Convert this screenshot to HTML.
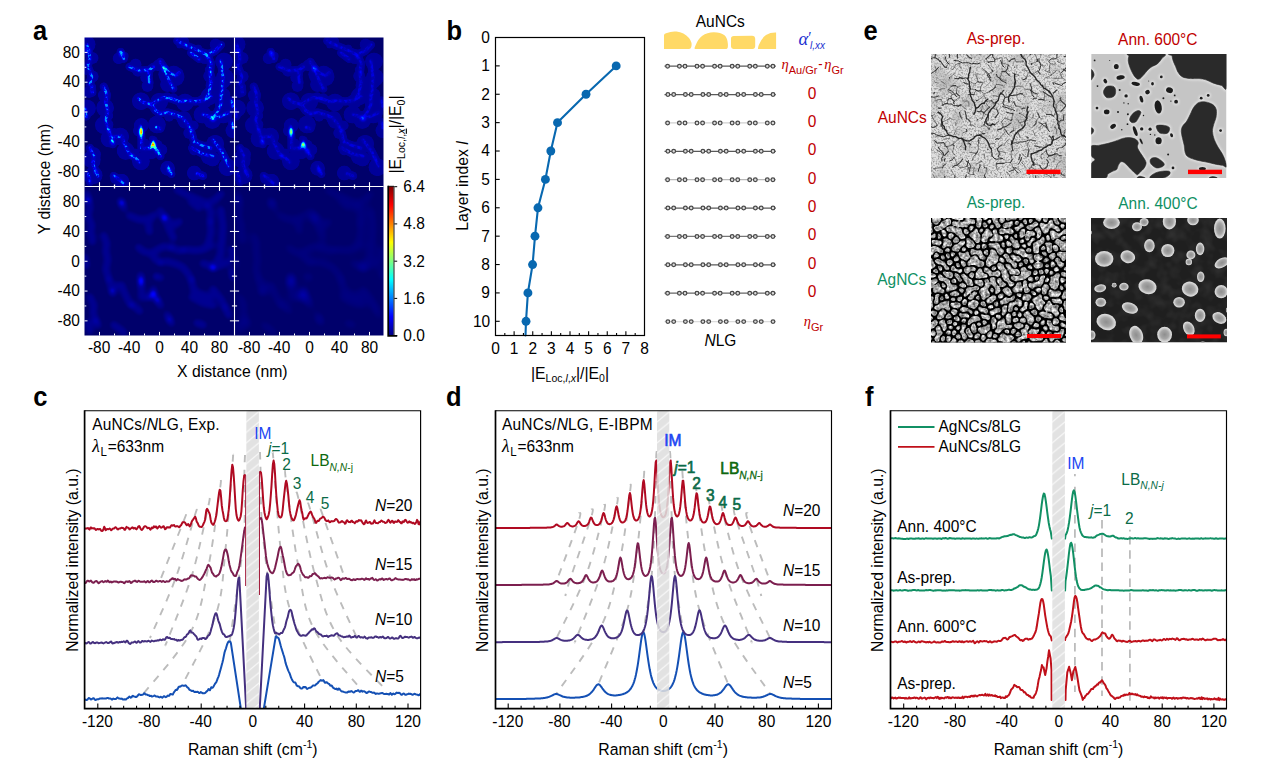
<!DOCTYPE html>
<html><head><meta charset="utf-8"><title>figure</title>
<style>
html,body{margin:0;padding:0;background:#fff;}
body{width:1269px;height:761px;overflow:hidden;font-family:"Liberation Sans",sans-serif;}
svg{display:block;}
</style></head><body>
<svg width="1269" height="761" viewBox="0 0 1269 761">
<defs>
<filter id="jetmap" filterUnits="userSpaceOnUse" x="0" y="0" width="150" height="149" color-interpolation-filters="sRGB">
<feComponentTransfer><feFuncR type="table" tableValues="0.000 0.000 0.000 0.000 0.000 0.000 0.000 0.000 0.000 0.000 0.000 0.000 0.000 0.000 0.000 0.000 0.000 0.000 0.000 0.000 0.000 0.000 0.000 0.000 0.000 0.000 0.000 0.000 0.000 0.183 0.367 0.550 0.733 0.917 1.000 1.000 1.000 1.000 1.000 1.000 0.820"/><feFuncG type="table" tableValues="0.000 0.000 0.000 0.000 0.000 0.000 0.000 0.000 0.000 0.000 0.000 0.000 0.000 0.000 0.000 0.000 0.000 0.000 0.000 0.000 0.000 0.125 0.250 0.375 0.500 0.625 0.750 0.875 1.000 1.000 1.000 1.000 1.000 1.000 0.900 0.720 0.540 0.360 0.180 0.000 0.000"/><feFuncB type="table" tableValues="0.420 0.420 0.420 0.433 0.455 0.477 0.498 0.520 0.542 0.564 0.585 0.607 0.629 0.675 0.722 0.768 0.814 0.861 0.907 0.954 1.000 1.000 1.000 1.000 1.000 1.000 1.000 1.000 1.000 0.817 0.633 0.450 0.267 0.083 0.000 0.000 0.000 0.000 0.000 0.000 0.000"/></feComponentTransfer></filter>
<filter id="hb1" filterUnits="userSpaceOnUse" x="-20" y="-20" width="190" height="190" color-interpolation-filters="sRGB"><feGaussianBlur stdDeviation="0.8"/></filter>
<filter id="hb2" filterUnits="userSpaceOnUse" x="-20" y="-20" width="190" height="190" color-interpolation-filters="sRGB"><feGaussianBlur stdDeviation="2.2"/></filter>
<filter id="hb3" filterUnits="userSpaceOnUse" x="-20" y="-20" width="190" height="190" color-interpolation-filters="sRGB"><feGaussianBlur stdDeviation="3.5"/></filter>
<filter id="hb4" filterUnits="userSpaceOnUse" x="-20" y="-20" width="190" height="190" color-interpolation-filters="sRGB"><feGaussianBlur stdDeviation="5.0"/></filter>
<filter id="hb0" filterUnits="userSpaceOnUse" x="-20" y="-20" width="190" height="190" color-interpolation-filters="sRGB"><feGaussianBlur stdDeviation="0.45"/></filter>
<g id="hm_wide" fill="none" stroke="#fff" stroke-linecap="round" stroke-linejoin="round"><path d="M2.5 7.4 L4.5 15.4 L5.5 21.3 L3.5 27.3 M36.2 14.4 L38.2 18.4 L39.2 21.3 M45.1 29.3 L55.1 33.2 L65.0 32.2 L69.0 29.3 M75.9 24.3 L79.9 30.3 L84.8 35.2 L90.8 38.2 L94.7 35.2 M65.0 32.2 L64.0 39.2 L65.0 45.1 M92.8 3.5 L102.7 8.4 L114.6 13.4 L122.5 17.4 L126.5 25.3 L125.5 35.2 L126.5 45.1 L124.5 55.1 L121.5 61.0 M122.5 17.4 L130.5 13.4 L136.4 7.4 M54.1 61.0 L59.0 65.0 L67.0 67.0 L72.9 63.0 L78.9 60.0 L86.8 61.0 L94.7 64.0 L102.7 63.0 L110.6 64.0 L118.6 63.0 L126.5 59.0 M67.0 67.0 L70.9 72.9 L75.9 75.9 L82.8 74.9 L92.8 77.9 L98.7 80.9 M136.4 57.0 L136.4 67.0 L132.5 74.9 L128.5 80.9 M118.6 76.9 L124.5 78.9 L128.5 80.9 L136.4 78.9 L144.4 74.9 M98.7 80.9 L104.7 88.8 L107.6 96.7 L109.6 104.7 L116.6 107.6 M128.5 102.7 L136.4 112.6 L140.4 120.5 L144.4 128.5 M107.6 110.6 L118.6 116.6 L128.5 118.6 M21.3 65.0 L23.3 72.9 L21.3 82.8 L24.3 92.8 L27.3 102.7 L28.3 106.7 M27.3 99.7 L37.2 98.7 L39.2 104.7 L45.1 116.6 L51.1 120.5 L55.1 124.5 M56.1 88.8 L56.5 93.8 L57.0 102.7 L57.0 110.6 M69.0 102.7 L68.6 106.7 L72.9 113.6 L75.9 118.6 M60.0 111.0 L65.0 110.6 L69.0 107.6 M71.9 89.8 L75.9 91.2 M5.5 110.6 L9.4 118.6 L8.4 126.5 L11.4 134.4 L13.4 138.4 M3.5 136.4 L5.5 144.4 M82.8 128.5 L84.8 132.5 L86.8 136.4 M29.3 138.4 L35.2 142.4 L39.2 146.3 M112.6 136.4 L118.6 138.4 M0.5 70.9 L1.9 78.9 M7.4 49.1 L7.8 55.1 M147.3 63.0 L148.3 69.0 M147.3 84.8 L148.3 90.8 M79.9 31.2 L84.8 43.2 L88.8 51.1 M106.7 15.4 L114.6 21.3 M3.5 29.3 L7.4 39.2 L5.5 47.1 M136.4 23.3 L138.4 39.2 L137.4 57.0 M19.3 49.1 L22.3 57.0 L21.3 65.0 M116.6 107.6 L126.5 110.6"/></g>
<g id="hm_halo" fill="#fff" stroke="none"><g fill="none" stroke="#fff" stroke-width="8.5" stroke-linecap="round" stroke-linejoin="round"><path d="M2.5 7.4 L4.5 15.4 L5.5 21.3 L3.5 27.3 M36.2 14.4 L38.2 18.4 L39.2 21.3 M45.1 29.3 L55.1 33.2 L65.0 32.2 L69.0 29.3 M75.9 24.3 L79.9 30.3 L84.8 35.2 L90.8 38.2 L94.7 35.2 M65.0 32.2 L64.0 39.2 L65.0 45.1 M92.8 3.5 L102.7 8.4 L114.6 13.4 L122.5 17.4 L126.5 25.3 L125.5 35.2 L126.5 45.1 L124.5 55.1 L121.5 61.0 M122.5 17.4 L130.5 13.4 L136.4 7.4 M54.1 61.0 L59.0 65.0 L67.0 67.0 L72.9 63.0 L78.9 60.0 L86.8 61.0 L94.7 64.0 L102.7 63.0 L110.6 64.0 L118.6 63.0 L126.5 59.0 M67.0 67.0 L70.9 72.9 L75.9 75.9 L82.8 74.9 L92.8 77.9 L98.7 80.9 M136.4 57.0 L136.4 67.0 L132.5 74.9 L128.5 80.9 M118.6 76.9 L124.5 78.9 L128.5 80.9 L136.4 78.9 L144.4 74.9 M98.7 80.9 L104.7 88.8 L107.6 96.7 L109.6 104.7 L116.6 107.6 M128.5 102.7 L136.4 112.6 L140.4 120.5 L144.4 128.5 M107.6 110.6 L118.6 116.6 L128.5 118.6 M21.3 65.0 L23.3 72.9 L21.3 82.8 L24.3 92.8 L27.3 102.7 L28.3 106.7 M27.3 99.7 L37.2 98.7 L39.2 104.7 L45.1 116.6 L51.1 120.5 L55.1 124.5 M56.1 88.8 L56.5 93.8 L57.0 102.7 L57.0 110.6 M69.0 102.7 L68.6 106.7 L72.9 113.6 L75.9 118.6 M60.0 111.0 L65.0 110.6 L69.0 107.6 M71.9 89.8 L75.9 91.2 M5.5 110.6 L9.4 118.6 L8.4 126.5 L11.4 134.4 L13.4 138.4 M3.5 136.4 L5.5 144.4 M82.8 128.5 L84.8 132.5 L86.8 136.4 M29.3 138.4 L35.2 142.4 L39.2 146.3 M112.6 136.4 L118.6 138.4 M0.5 70.9 L1.9 78.9 M7.4 49.1 L7.8 55.1 M147.3 63.0 L148.3 69.0 M147.3 84.8 L148.3 90.8 M79.9 31.2 L84.8 43.2 L88.8 51.1 M106.7 15.4 L114.6 21.3 M3.5 29.3 L7.4 39.2 L5.5 47.1 M136.4 23.3 L138.4 39.2 L137.4 57.0 M19.3 49.1 L22.3 57.0 L21.3 65.0 M116.6 107.6 L126.5 110.6"/></g><circle cx="2.1" cy="6.8" r="9.0"/><circle cx="8.1" cy="20.5" r="6.0"/><circle cx="7.0" cy="20.0" r="4.0"/><circle cx="34.2" cy="20.7" r="6.0"/><circle cx="40.2" cy="18.5" r="4.0"/><circle cx="51.1" cy="27.0" r="6.0"/><circle cx="53.5" cy="33.2" r="6.0"/><circle cx="61.3" cy="35.2" r="3.0"/><circle cx="65.1" cy="32.3" r="3.0"/><circle cx="74.1" cy="27.8" r="6.0"/><circle cx="78.4" cy="29.9" r="4.0"/><circle cx="91.1" cy="39.6" r="9.0"/><circle cx="89.2" cy="37.0" r="9.0"/><circle cx="61.7" cy="39.9" r="6.0"/><circle cx="63.0" cy="48.6" r="6.0"/><circle cx="99.7" cy="3.7" r="5.0"/><circle cx="94.8" cy="8.0" r="3.0"/><circle cx="108.5" cy="11.3" r="3.0"/><circle cx="113.7" cy="11.1" r="4.0"/><circle cx="119.5" cy="14.3" r="3.0"/><circle cx="122.5" cy="21.0" r="5.0"/><circle cx="123.2" cy="32.1" r="3.0"/><circle cx="124.6" cy="38.6" r="6.0"/><circle cx="130.0" cy="47.7" r="9.0"/><circle cx="125.3" cy="58.5" r="9.0"/><circle cx="124.6" cy="61.9" r="6.0"/><circle cx="120.6" cy="19.1" r="7.5"/><circle cx="131.1" cy="6.9" r="6.0"/><circle cx="56.4" cy="63.7" r="9.0"/><circle cx="63.7" cy="66.6" r="3.0"/><circle cx="70.0" cy="66.2" r="4.0"/><circle cx="74.7" cy="64.3" r="9.0"/><circle cx="82.7" cy="58.8" r="4.0"/><circle cx="88.9" cy="60.8" r="5.0"/><circle cx="97.6" cy="63.7" r="6.0"/><circle cx="100.5" cy="64.9" r="9.0"/><circle cx="116.1" cy="61.5" r="3.0"/><circle cx="119.8" cy="63.7" r="7.5"/><circle cx="66.7" cy="67.8" r="4.0"/><circle cx="72.7" cy="75.8" r="3.0"/><circle cx="77.8" cy="72.5" r="3.0"/><circle cx="84.6" cy="79.2" r="5.0"/><circle cx="88.0" cy="76.2" r="4.0"/><circle cx="99.3" cy="80.9" r="7.5"/><circle cx="138.9" cy="64.7" r="9.0"/><circle cx="139.7" cy="66.1" r="6.0"/><circle cx="127.8" cy="82.5" r="9.0"/><circle cx="118.0" cy="77.1" r="9.0"/><circle cx="128.6" cy="82.2" r="5.0"/><circle cx="128.8" cy="80.8" r="7.5"/><circle cx="138.9" cy="77.0" r="9.0"/><circle cx="100.7" cy="83.7" r="7.5"/><circle cx="109.2" cy="88.0" r="5.0"/><circle cx="104.7" cy="95.4" r="6.0"/><circle cx="110.2" cy="108.9" r="6.0"/><circle cx="130.7" cy="106.2" r="9.0"/><circle cx="130.1" cy="105.3" r="6.0"/><circle cx="136.8" cy="119.7" r="3.0"/><circle cx="143.0" cy="129.7" r="9.0"/><circle cx="109.7" cy="113.0" r="5.0"/><circle cx="114.2" cy="113.5" r="3.0"/><circle cx="123.9" cy="119.5" r="7.5"/><circle cx="128.1" cy="121.4" r="7.5"/><circle cx="20.6" cy="70.4" r="9.0"/><circle cx="23.8" cy="78.3" r="5.0"/><circle cx="18.3" cy="80.0" r="3.0"/><circle cx="19.4" cy="87.7" r="9.0"/><circle cx="24.0" cy="87.1" r="5.0"/><circle cx="29.8" cy="93.4" r="3.0"/><circle cx="25.0" cy="101.1" r="9.0"/><circle cx="24.2" cy="101.1" r="5.0"/><circle cx="36.0" cy="99.3" r="4.0"/><circle cx="35.7" cy="99.0" r="9.0"/><circle cx="41.1" cy="109.9" r="6.0"/><circle cx="41.2" cy="113.5" r="9.0"/><circle cx="51.0" cy="115.1" r="4.0"/><circle cx="56.4" cy="123.8" r="9.0"/><circle cx="56.8" cy="88.0" r="7.5"/><circle cx="54.4" cy="93.3" r="6.0"/><circle cx="61.3" cy="104.2" r="3.0"/><circle cx="67.6" cy="100.9" r="3.0"/><circle cx="72.3" cy="108.1" r="6.0"/><circle cx="76.9" cy="112.2" r="6.0"/><circle cx="66.7" cy="114.2" r="7.5"/><circle cx="61.2" cy="110.0" r="7.5"/><circle cx="72.4" cy="87.0" r="9.0"/><circle cx="9.0" cy="117.0" r="7.5"/><circle cx="7.3" cy="121.9" r="9.0"/><circle cx="10.7" cy="124.9" r="5.0"/><circle cx="9.1" cy="137.7" r="9.0"/><circle cx="3.6" cy="140.5" r="4.0"/><circle cx="83.1" cy="130.8" r="7.5"/><circle cx="81.9" cy="132.6" r="4.0"/><circle cx="30.6" cy="141.5" r="5.0"/><circle cx="37.4" cy="143.7" r="7.5"/><circle cx="109.8" cy="135.5" r="7.5"/><circle cx="2.5" cy="70.9" r="9.0"/><circle cx="4.5" cy="54.5" r="6.0"/><circle cx="149.7" cy="65.3" r="5.0"/><circle cx="148.4" cy="93.1" r="7.5"/><circle cx="79.7" cy="36.7" r="6.0"/><circle cx="79.7" cy="40.0" r="5.0"/><circle cx="83.0" cy="46.9" r="7.5"/><circle cx="116.5" cy="20.2" r="4.0"/><circle cx="2.8" cy="33.8" r="4.0"/><circle cx="8.2" cy="39.1" r="6.0"/><circle cx="4.4" cy="43.0" r="3.0"/><circle cx="139.5" cy="23.9" r="9.0"/><circle cx="140.9" cy="33.4" r="3.0"/><circle cx="140.4" cy="40.1" r="9.0"/><circle cx="138.5" cy="44.0" r="7.5"/><circle cx="134.9" cy="49.7" r="3.0"/><circle cx="140.0" cy="57.0" r="6.0"/><circle cx="18.4" cy="57.2" r="5.0"/><circle cx="20.0" cy="59.2" r="6.0"/><circle cx="121.5" cy="106.9" r="3.0"/><circle cx="125.8" cy="111.9" r="5.0"/></g>
<g id="hm_spots"><circle cx="37.2" cy="16.4" r="2.7" fill="#fff" fill-opacity="0.55"/><circle cx="3.5" cy="13.4" r="2.7" fill="#fff" fill-opacity="0.45"/><circle cx="79.9" cy="31.2" r="3.0" fill="#fff" fill-opacity="0.6"/><circle cx="128.5" cy="81.3" r="3.0" fill="#fff" fill-opacity="0.5"/><circle cx="127.5" cy="79.9" r="1.8" fill="#fff" fill-opacity="0.3"/><circle cx="27.9" cy="104.3" r="2.4" fill="#fff" fill-opacity="0.5"/><circle cx="84.8" cy="132.8" r="2.1" fill="#fff" fill-opacity="0.5"/><circle cx="107.6" cy="92.8" r="1.8" fill="#fff" fill-opacity="0.4"/><circle cx="122.5" cy="19.3" r="1.8" fill="#fff" fill-opacity="0.35"/><circle cx="126.5" cy="35.2" r="1.8" fill="#fff" fill-opacity="0.35"/><circle cx="75.9" cy="75.9" r="1.5" fill="#fff" fill-opacity="0.4"/><circle cx="86.8" cy="61.0" r="1.5" fill="#fff" fill-opacity="0.4"/><circle cx="98.7" cy="63.4" r="1.5" fill="#fff" fill-opacity="0.35"/><circle cx="47.1" cy="118.6" r="2.1" fill="#fff" fill-opacity="0.4"/><circle cx="11.4" cy="134.4" r="2.1" fill="#fff" fill-opacity="0.35"/><circle cx="72.9" cy="113.6" r="2.4" fill="#fff" fill-opacity="0.55"/><circle cx="65.0" cy="110.6" r="1.5" fill="#fff" fill-opacity="0.5"/><circle cx="140.4" cy="120.5" r="1.8" fill="#fff" fill-opacity="0.3"/><circle cx="24.3" cy="92.8" r="1.8" fill="#fff" fill-opacity="0.3"/><circle cx="71.9" cy="90.2" r="1.2" fill="#fff" fill-opacity="0.4"/></g>
<g id="hm_hot"><ellipse cx="56.5" cy="95.5" rx="2.4" ry="5.4" fill="#fff" fill-opacity="0.35"/><ellipse cx="56.5" cy="94.0" rx="1.5" ry="3.9" fill="#fff" fill-opacity="0.8"/><ellipse cx="56.5" cy="94.0" rx="1.1" ry="2.7" fill="#fff"/><ellipse cx="56.5" cy="94.0" rx="0.6" ry="1.5" fill="#fff"/><ellipse cx="68.8" cy="108.4" rx="3.2" ry="3.5" fill="#fff" fill-opacity="0.35"/><ellipse cx="68.8" cy="106.9" rx="2.1" ry="2.5" fill="#fff" fill-opacity="0.8"/><ellipse cx="68.8" cy="106.9" rx="1.4" ry="1.7" fill="#fff"/><ellipse cx="68.8" cy="106.9" rx="0.8" ry="1.0" fill="#fff"/></g>
<filter id="grain" filterUnits="userSpaceOnUse" x="0" y="0" width="150" height="149" color-interpolation-filters="sRGB">
<feGaussianBlur in="SourceGraphic" stdDeviation="0.6" result="b"/>
<feTurbulence type="fractalNoise" baseFrequency="0.3" numOctaves="2" seed="9" result="n"/>
<feColorMatrix in="n" type="matrix" values="0 0 0 0 1  0 0 0 0 1  0 0 0 0 1  3.6 0 0 0 -1.35" result="na"/>
<feComposite in="b" in2="na" operator="in"/>
</filter>
<linearGradient id="jetbar" x1="0" y1="1" x2="0" y2="0"><stop offset="0.0000" stop-color="rgb(0,0,127)"/><stop offset="0.0312" stop-color="rgb(0,0,159)"/><stop offset="0.0625" stop-color="rgb(0,0,191)"/><stop offset="0.0938" stop-color="rgb(0,0,223)"/><stop offset="0.1250" stop-color="rgb(0,0,255)"/><stop offset="0.1562" stop-color="rgb(0,31,255)"/><stop offset="0.1875" stop-color="rgb(0,63,255)"/><stop offset="0.2188" stop-color="rgb(0,95,255)"/><stop offset="0.2500" stop-color="rgb(0,127,255)"/><stop offset="0.2812" stop-color="rgb(0,159,255)"/><stop offset="0.3125" stop-color="rgb(0,191,255)"/><stop offset="0.3438" stop-color="rgb(0,223,255)"/><stop offset="0.3750" stop-color="rgb(0,255,255)"/><stop offset="0.4062" stop-color="rgb(31,255,223)"/><stop offset="0.4375" stop-color="rgb(63,255,191)"/><stop offset="0.4688" stop-color="rgb(95,255,159)"/><stop offset="0.5000" stop-color="rgb(127,255,127)"/><stop offset="0.5312" stop-color="rgb(159,255,95)"/><stop offset="0.5625" stop-color="rgb(191,255,63)"/><stop offset="0.5938" stop-color="rgb(223,255,31)"/><stop offset="0.6250" stop-color="rgb(255,255,0)"/><stop offset="0.6562" stop-color="rgb(255,223,0)"/><stop offset="0.6875" stop-color="rgb(255,191,0)"/><stop offset="0.7188" stop-color="rgb(255,159,0)"/><stop offset="0.7500" stop-color="rgb(255,127,0)"/><stop offset="0.7812" stop-color="rgb(255,95,0)"/><stop offset="0.8125" stop-color="rgb(255,63,0)"/><stop offset="0.8438" stop-color="rgb(255,31,0)"/><stop offset="0.8750" stop-color="rgb(255,0,0)"/><stop offset="0.9062" stop-color="rgb(223,0,0)"/><stop offset="0.9375" stop-color="rgb(191,0,0)"/><stop offset="0.9688" stop-color="rgb(159,0,0)"/><stop offset="1.0000" stop-color="rgb(127,0,0)"/></linearGradient>
<filter id="speck1" filterUnits="userSpaceOnUse" x="0" y="0" width="135" height="124" color-interpolation-filters="sRGB">
<feTurbulence type="fractalNoise" baseFrequency="0.55" numOctaves="2" seed="7" result="n"/>
<feColorMatrix in="n" type="matrix" values="0 0 0 0 0  0 0 0 0 0  0 0 0 0 0  3.6 0 0 0 -1.6" result="a"/>
<feComposite in="SourceGraphic" in2="a" operator="in"/><feGaussianBlur stdDeviation="0.4"/>
</filter>
<filter id="speck1b" filterUnits="userSpaceOnUse" x="0" y="0" width="135" height="124" color-interpolation-filters="sRGB">
<feTurbulence type="fractalNoise" baseFrequency="0.05" numOctaves="2" seed="3" result="n"/>
<feColorMatrix in="n" type="matrix" values="0 0 0 0 0  0 0 0 0 0  0 0 0 0 0  1.6 0 0 0 -0.8" result="a"/>
<feComposite in="SourceGraphic" in2="a" operator="in"/>
</filter>
<filter id="crblur" x="-5%" y="-5%" width="110%" height="110%"><feGaussianBlur stdDeviation="0.35"/></filter>
<filter id="sblur" x="-5%" y="-5%" width="110%" height="110%"><feGaussianBlur stdDeviation="0.55"/></filter>
<filter id="sblur2" x="-5%" y="-5%" width="110%" height="110%"><feGaussianBlur stdDeviation="1.0"/></filter>
<filter id="islands" filterUnits="userSpaceOnUse" x="0" y="0" width="135" height="125" color-interpolation-filters="sRGB">
<feGaussianBlur in="SourceGraphic" stdDeviation="0.45" result="b"/>
<feTurbulence type="fractalNoise" baseFrequency="0.33" numOctaves="2" seed="5" result="m"/>
<feColorMatrix in="m" type="matrix" values="1.1 0 0 0 0.14  1.1 0 0 0 0.14  1.1 0 0 0 0.14  0 0 0 0 1" result="m2"/>
<feComposite in="b" in2="m2" operator="arithmetic" k1="1" k2="0" k3="0" k4="0"/>
</filter>
<radialGradient id="drop"><stop offset="0" stop-color="#8e8e8e"/><stop offset="0.55" stop-color="#a6a6a6"/><stop offset="0.85" stop-color="#d2d2d2"/><stop offset="1" stop-color="#e2e2e2"/></radialGradient>
<filter id="dblur" x="-10%" y="-10%" width="120%" height="120%"><feGaussianBlur stdDeviation="0.6"/></filter>
<filter id="mottle" filterUnits="userSpaceOnUse" x="0" y="0" width="136" height="125" color-interpolation-filters="sRGB">
<feTurbulence type="fractalNoise" baseFrequency="0.09" numOctaves="2" seed="2" result="n"/>
<feColorMatrix in="n" type="matrix" values="0 0 0 0 1  0 0 0 0 1  0 0 0 0 1  1.2 0 0 0 -0.45"/>
</filter>
<clipPath id="clipc"><rect x="84.6" y="410.7" width="336.0" height="297.90000000000003"/></clipPath>
<pattern id="hatchc" patternUnits="userSpaceOnUse" x="246.30" y="411.45" width="12.7" height="10.45"><rect x="0" y="0" width="12.7" height="10.45" fill="#dedede"/><path d="M-12.70 20.90 L25.40 -10.45 M-12.70 10.45 L12.70 -10.45 M0 20.90 L25.40 0" stroke="#f7f7f7" stroke-width="1.25" fill="none"/></pattern>
<clipPath id="clipd"><rect x="495.5" y="410.7" width="336.0" height="297.90000000000003"/></clipPath>
<pattern id="hatchd" patternUnits="userSpaceOnUse" x="657.00" y="411.45" width="12.7" height="10.45"><rect x="0" y="0" width="12.7" height="10.45" fill="#dedede"/><path d="M-12.70 20.90 L25.40 -10.45 M-12.70 10.45 L12.70 -10.45 M0 20.90 L25.40 0" stroke="#f7f7f7" stroke-width="1.25" fill="none"/></pattern>
<clipPath id="clipf"><rect x="890.5" y="410.7" width="336.0" height="297.90000000000003"/></clipPath>
<pattern id="hatchf" patternUnits="userSpaceOnUse" x="1052.30" y="411.45" width="12.7" height="10.45"><rect x="0" y="0" width="12.7" height="10.45" fill="#dedede"/><path d="M-12.70 20.90 L25.40 -10.45 M-12.70 10.45 L12.70 -10.45 M0 20.90 L25.40 0" stroke="#f7f7f7" stroke-width="1.25" fill="none"/></pattern>
</defs>
<rect x="0" y="0" width="1269" height="761" fill="#ffffff"/>
<svg x="84.5" y="37.5" width="150.0" height="149.0" viewBox="0 0 150.0 149.0" overflow="hidden">
<g filter="url(#jetmap)">
<rect x="-5" y="-5" width="160.0" height="159.0" fill="#000"/>
<use href="#hm_halo" opacity="0.29" filter="url(#hb0)"/>
<use href="#hm_wide" stroke-width="4.0" stroke-opacity="0.12" filter="url(#hb1)"/>
<use href="#hm_wide" stroke-width="3.0" stroke-opacity="0.40" filter="url(#grain)"/>
<use href="#hm_spots" filter="url(#hb1)" opacity="0.6"/>
<use href="#hm_hot" filter="url(#hb1)" opacity="0.95"/>
</g></svg>
<svg x="234.5" y="37.5" width="149.0" height="149.0" viewBox="0 0 149.0 149.0" overflow="hidden">
<g filter="url(#jetmap)">
<rect x="-5" y="-5" width="159.0" height="159.0" fill="#000"/>
<use href="#hm_halo" opacity="0.27" filter="url(#hb0)"/>
<use href="#hm_wide" stroke-width="4.0" stroke-opacity="0.10" filter="url(#hb1)"/>
<use href="#hm_wide" stroke-width="3.0" stroke-opacity="0.15" filter="url(#grain)"/>
<use href="#hm_spots" filter="url(#hb1)" opacity="0.45"/>
<use href="#hm_hot" filter="url(#hb1)" opacity="0.8"/>
</g></svg>
<svg x="84.5" y="186.5" width="150.0" height="149.0" viewBox="0 0 150.0 149.0" overflow="hidden">
<g filter="url(#jetmap)">
<rect x="-5" y="-5" width="160.0" height="159.0" fill="#000"/>
<use href="#hm_wide" stroke-width="8.5" stroke-opacity="0.23" filter="url(#hb2)"/>
<use href="#hm_spots" filter="url(#hb2)" opacity="0.85"/>
<use href="#hm_hot" filter="url(#hb2)" opacity="0.75"/>
</g></svg>
<svg x="234.5" y="186.5" width="149.0" height="149.0" viewBox="0 0 149.0 149.0" overflow="hidden">
<g filter="url(#jetmap)">
<rect x="-5" y="-5" width="159.0" height="159.0" fill="#000"/>
<use href="#hm_wide" stroke-width="9" stroke-opacity="0.16" filter="url(#hb3)"/>
<use href="#hm_spots" filter="url(#hb3)" opacity="0.6"/>
<use href="#hm_hot" filter="url(#hb3)" opacity="0.8"/>
</g></svg>
<line x1="234.50" y1="37.50" x2="234.50" y2="335.50" stroke="#fff" stroke-width="1.1"/>
<line x1="84.50" y1="186.50" x2="383.50" y2="186.50" stroke="#fff" stroke-width="1.1"/>
<line x1="99.50" y1="190.80" x2="99.50" y2="182.20" stroke="#fff" stroke-width="1.1"/>
<line x1="114.50" y1="188.50" x2="114.50" y2="184.50" stroke="#fff" stroke-width="1.3"/>
<line x1="129.50" y1="190.80" x2="129.50" y2="182.20" stroke="#fff" stroke-width="1.1"/>
<line x1="144.50" y1="188.50" x2="144.50" y2="184.50" stroke="#fff" stroke-width="1.3"/>
<line x1="159.50" y1="190.80" x2="159.50" y2="182.20" stroke="#fff" stroke-width="1.1"/>
<line x1="174.50" y1="188.50" x2="174.50" y2="184.50" stroke="#fff" stroke-width="1.3"/>
<line x1="189.50" y1="190.80" x2="189.50" y2="182.20" stroke="#fff" stroke-width="1.1"/>
<line x1="204.50" y1="188.50" x2="204.50" y2="184.50" stroke="#fff" stroke-width="1.3"/>
<line x1="219.50" y1="190.80" x2="219.50" y2="182.20" stroke="#fff" stroke-width="1.1"/>
<line x1="249.50" y1="190.80" x2="249.50" y2="182.20" stroke="#fff" stroke-width="1.1"/>
<line x1="264.50" y1="188.50" x2="264.50" y2="184.50" stroke="#fff" stroke-width="1.3"/>
<line x1="279.50" y1="190.80" x2="279.50" y2="182.20" stroke="#fff" stroke-width="1.1"/>
<line x1="294.50" y1="188.50" x2="294.50" y2="184.50" stroke="#fff" stroke-width="1.3"/>
<line x1="309.50" y1="190.80" x2="309.50" y2="182.20" stroke="#fff" stroke-width="1.1"/>
<line x1="324.50" y1="188.50" x2="324.50" y2="184.50" stroke="#fff" stroke-width="1.3"/>
<line x1="339.50" y1="190.80" x2="339.50" y2="182.20" stroke="#fff" stroke-width="1.1"/>
<line x1="354.50" y1="188.50" x2="354.50" y2="184.50" stroke="#fff" stroke-width="1.3"/>
<line x1="369.50" y1="190.80" x2="369.50" y2="182.20" stroke="#fff" stroke-width="1.1"/>
<line x1="229.90" y1="171.60" x2="239.10" y2="171.60" stroke="#fff" stroke-width="1.0"/>
<line x1="231.90" y1="156.70" x2="237.10" y2="156.70" stroke="#fff" stroke-width="1.0"/>
<line x1="229.90" y1="141.80" x2="239.10" y2="141.80" stroke="#fff" stroke-width="1.0"/>
<line x1="231.90" y1="126.90" x2="237.10" y2="126.90" stroke="#fff" stroke-width="1.0"/>
<line x1="229.90" y1="112.00" x2="239.10" y2="112.00" stroke="#fff" stroke-width="1.0"/>
<line x1="231.90" y1="97.10" x2="237.10" y2="97.10" stroke="#fff" stroke-width="1.0"/>
<line x1="229.90" y1="82.20" x2="239.10" y2="82.20" stroke="#fff" stroke-width="1.0"/>
<line x1="231.90" y1="67.30" x2="237.10" y2="67.30" stroke="#fff" stroke-width="1.0"/>
<line x1="229.90" y1="52.40" x2="239.10" y2="52.40" stroke="#fff" stroke-width="1.0"/>
<line x1="229.90" y1="320.85" x2="239.10" y2="320.85" stroke="#fff" stroke-width="1.0"/>
<line x1="231.90" y1="305.95" x2="237.10" y2="305.95" stroke="#fff" stroke-width="1.0"/>
<line x1="229.90" y1="291.05" x2="239.10" y2="291.05" stroke="#fff" stroke-width="1.0"/>
<line x1="231.90" y1="276.15" x2="237.10" y2="276.15" stroke="#fff" stroke-width="1.0"/>
<line x1="229.90" y1="261.25" x2="239.10" y2="261.25" stroke="#fff" stroke-width="1.0"/>
<line x1="231.90" y1="246.35" x2="237.10" y2="246.35" stroke="#fff" stroke-width="1.0"/>
<line x1="229.90" y1="231.45" x2="239.10" y2="231.45" stroke="#fff" stroke-width="1.0"/>
<line x1="231.90" y1="216.55" x2="237.10" y2="216.55" stroke="#fff" stroke-width="1.0"/>
<line x1="229.90" y1="201.65" x2="239.10" y2="201.65" stroke="#fff" stroke-width="1.0"/>
<line x1="84.50" y1="171.60" x2="87.50" y2="171.60" stroke="#fff" stroke-width="1.0"/>
<line x1="84.50" y1="156.70" x2="86.30" y2="156.70" stroke="#fff" stroke-width="1.0"/>
<line x1="84.50" y1="141.80" x2="87.50" y2="141.80" stroke="#fff" stroke-width="1.0"/>
<line x1="84.50" y1="126.90" x2="86.30" y2="126.90" stroke="#fff" stroke-width="1.0"/>
<line x1="84.50" y1="112.00" x2="87.50" y2="112.00" stroke="#fff" stroke-width="1.0"/>
<line x1="84.50" y1="97.10" x2="86.30" y2="97.10" stroke="#fff" stroke-width="1.0"/>
<line x1="84.50" y1="82.20" x2="87.50" y2="82.20" stroke="#fff" stroke-width="1.0"/>
<line x1="84.50" y1="67.30" x2="86.30" y2="67.30" stroke="#fff" stroke-width="1.0"/>
<line x1="84.50" y1="52.40" x2="87.50" y2="52.40" stroke="#fff" stroke-width="1.0"/>
<line x1="84.50" y1="320.85" x2="87.50" y2="320.85" stroke="#fff" stroke-width="1.0"/>
<line x1="84.50" y1="305.95" x2="86.30" y2="305.95" stroke="#fff" stroke-width="1.0"/>
<line x1="84.50" y1="291.05" x2="87.50" y2="291.05" stroke="#fff" stroke-width="1.0"/>
<line x1="84.50" y1="276.15" x2="86.30" y2="276.15" stroke="#fff" stroke-width="1.0"/>
<line x1="84.50" y1="261.25" x2="87.50" y2="261.25" stroke="#fff" stroke-width="1.0"/>
<line x1="84.50" y1="246.35" x2="86.30" y2="246.35" stroke="#fff" stroke-width="1.0"/>
<line x1="84.50" y1="231.45" x2="87.50" y2="231.45" stroke="#fff" stroke-width="1.0"/>
<line x1="84.50" y1="216.55" x2="86.30" y2="216.55" stroke="#fff" stroke-width="1.0"/>
<line x1="84.50" y1="201.65" x2="87.50" y2="201.65" stroke="#fff" stroke-width="1.0"/>
<line x1="99.50" y1="335.50" x2="99.50" y2="331.90" stroke="#fff" stroke-width="1.0"/>
<line x1="114.50" y1="335.50" x2="114.50" y2="333.50" stroke="#fff" stroke-width="1.0"/>
<line x1="129.50" y1="335.50" x2="129.50" y2="331.90" stroke="#fff" stroke-width="1.0"/>
<line x1="144.50" y1="335.50" x2="144.50" y2="333.50" stroke="#fff" stroke-width="1.0"/>
<line x1="159.50" y1="335.50" x2="159.50" y2="331.90" stroke="#fff" stroke-width="1.0"/>
<line x1="174.50" y1="335.50" x2="174.50" y2="333.50" stroke="#fff" stroke-width="1.0"/>
<line x1="189.50" y1="335.50" x2="189.50" y2="331.90" stroke="#fff" stroke-width="1.0"/>
<line x1="204.50" y1="335.50" x2="204.50" y2="333.50" stroke="#fff" stroke-width="1.0"/>
<line x1="219.50" y1="335.50" x2="219.50" y2="331.90" stroke="#fff" stroke-width="1.0"/>
<line x1="249.50" y1="335.50" x2="249.50" y2="331.90" stroke="#fff" stroke-width="1.0"/>
<line x1="264.50" y1="335.50" x2="264.50" y2="333.50" stroke="#fff" stroke-width="1.0"/>
<line x1="279.50" y1="335.50" x2="279.50" y2="331.90" stroke="#fff" stroke-width="1.0"/>
<line x1="294.50" y1="335.50" x2="294.50" y2="333.50" stroke="#fff" stroke-width="1.0"/>
<line x1="309.50" y1="335.50" x2="309.50" y2="331.90" stroke="#fff" stroke-width="1.0"/>
<line x1="324.50" y1="335.50" x2="324.50" y2="333.50" stroke="#fff" stroke-width="1.0"/>
<line x1="339.50" y1="335.50" x2="339.50" y2="331.90" stroke="#fff" stroke-width="1.0"/>
<line x1="354.50" y1="335.50" x2="354.50" y2="333.50" stroke="#fff" stroke-width="1.0"/>
<line x1="369.50" y1="335.50" x2="369.50" y2="331.90" stroke="#fff" stroke-width="1.0"/>
<text x="80.00" y="57.70" font-family='"Liberation Sans", sans-serif' font-size="15.5" text-anchor="end" fill="#000" font-weight="normal" font-style="normal" transform="translate(80.00 57.70) scale(1 1.055) translate(-80.00 -57.70)">80</text>
<text x="80.00" y="87.50" font-family='"Liberation Sans", sans-serif' font-size="15.5" text-anchor="end" fill="#000" font-weight="normal" font-style="normal" transform="translate(80.00 87.50) scale(1 1.055) translate(-80.00 -87.50)">40</text>
<text x="80.00" y="117.30" font-family='"Liberation Sans", sans-serif' font-size="15.5" text-anchor="end" fill="#000" font-weight="normal" font-style="normal" transform="translate(80.00 117.30) scale(1 1.055) translate(-80.00 -117.30)">0</text>
<text x="80.00" y="147.10" font-family='"Liberation Sans", sans-serif' font-size="15.5" text-anchor="end" fill="#000" font-weight="normal" font-style="normal" transform="translate(80.00 147.10) scale(1 1.055) translate(-80.00 -147.10)">-40</text>
<text x="80.00" y="176.90" font-family='"Liberation Sans", sans-serif' font-size="15.5" text-anchor="end" fill="#000" font-weight="normal" font-style="normal" transform="translate(80.00 176.90) scale(1 1.055) translate(-80.00 -176.90)">-80</text>
<text x="80.00" y="206.95" font-family='"Liberation Sans", sans-serif' font-size="15.5" text-anchor="end" fill="#000" font-weight="normal" font-style="normal" transform="translate(80.00 206.95) scale(1 1.055) translate(-80.00 -206.95)">80</text>
<text x="80.00" y="236.75" font-family='"Liberation Sans", sans-serif' font-size="15.5" text-anchor="end" fill="#000" font-weight="normal" font-style="normal" transform="translate(80.00 236.75) scale(1 1.055) translate(-80.00 -236.75)">40</text>
<text x="80.00" y="266.55" font-family='"Liberation Sans", sans-serif' font-size="15.5" text-anchor="end" fill="#000" font-weight="normal" font-style="normal" transform="translate(80.00 266.55) scale(1 1.055) translate(-80.00 -266.55)">0</text>
<text x="80.00" y="296.35" font-family='"Liberation Sans", sans-serif' font-size="15.5" text-anchor="end" fill="#000" font-weight="normal" font-style="normal" transform="translate(80.00 296.35) scale(1 1.055) translate(-80.00 -296.35)">-40</text>
<text x="80.00" y="326.15" font-family='"Liberation Sans", sans-serif' font-size="15.5" text-anchor="end" fill="#000" font-weight="normal" font-style="normal" transform="translate(80.00 326.15) scale(1 1.055) translate(-80.00 -326.15)">-80</text>
<text x="99.10" y="353.00" font-family='"Liberation Sans", sans-serif' font-size="15.5" text-anchor="middle" fill="#000" font-weight="normal" font-style="normal" transform="translate(99.10 353.00) scale(1 1.055) translate(-99.10 -353.00)">-80</text>
<text x="129.10" y="353.00" font-family='"Liberation Sans", sans-serif' font-size="15.5" text-anchor="middle" fill="#000" font-weight="normal" font-style="normal" transform="translate(129.10 353.00) scale(1 1.055) translate(-129.10 -353.00)">-40</text>
<text x="159.50" y="353.00" font-family='"Liberation Sans", sans-serif' font-size="15.5" text-anchor="middle" fill="#000" font-weight="normal" font-style="normal" transform="translate(159.50 353.00) scale(1 1.055) translate(-159.50 -353.00)">0</text>
<text x="189.50" y="353.00" font-family='"Liberation Sans", sans-serif' font-size="15.5" text-anchor="middle" fill="#000" font-weight="normal" font-style="normal" transform="translate(189.50 353.00) scale(1 1.055) translate(-189.50 -353.00)">40</text>
<text x="219.50" y="353.00" font-family='"Liberation Sans", sans-serif' font-size="15.5" text-anchor="middle" fill="#000" font-weight="normal" font-style="normal" transform="translate(219.50 353.00) scale(1 1.055) translate(-219.50 -353.00)">80</text>
<text x="249.10" y="353.00" font-family='"Liberation Sans", sans-serif' font-size="15.5" text-anchor="middle" fill="#000" font-weight="normal" font-style="normal" transform="translate(249.10 353.00) scale(1 1.055) translate(-249.10 -353.00)">-80</text>
<text x="279.10" y="353.00" font-family='"Liberation Sans", sans-serif' font-size="15.5" text-anchor="middle" fill="#000" font-weight="normal" font-style="normal" transform="translate(279.10 353.00) scale(1 1.055) translate(-279.10 -353.00)">-40</text>
<text x="309.50" y="353.00" font-family='"Liberation Sans", sans-serif' font-size="15.5" text-anchor="middle" fill="#000" font-weight="normal" font-style="normal" transform="translate(309.50 353.00) scale(1 1.055) translate(-309.50 -353.00)">0</text>
<text x="339.50" y="353.00" font-family='"Liberation Sans", sans-serif' font-size="15.5" text-anchor="middle" fill="#000" font-weight="normal" font-style="normal" transform="translate(339.50 353.00) scale(1 1.055) translate(-339.50 -353.00)">40</text>
<text x="369.50" y="353.00" font-family='"Liberation Sans", sans-serif' font-size="15.5" text-anchor="middle" fill="#000" font-weight="normal" font-style="normal" transform="translate(369.50 353.00) scale(1 1.055) translate(-369.50 -353.00)">80</text>
<text x="232.30" y="377.50" font-family='"Liberation Sans", sans-serif' font-size="15.8" text-anchor="middle" fill="#000" font-weight="normal" font-style="normal" transform="translate(232.30 377.50) scale(1 1.055) translate(-232.30 -377.50)">X distance (nm)</text>
<text x="50.00" y="179.00" font-family='"Liberation Sans", sans-serif' font-size="15.8" text-anchor="middle" fill="#000" font-weight="normal" font-style="normal" transform="rotate(-90 50.00 179.00) translate(50.00 179.00) scale(1 1.055) translate(-50.00 -179.00)">Y distance (nm)</text>
<rect x="388.60" y="186.30" width="5.00" height="149.20" fill="url(#jetbar)" stroke="none" stroke-width="1.0"/>
<path d="M388.2 185.8 L388.2 335.9 L397.2 335.9" fill="none" stroke="#000" stroke-width="1.7"/>
<path d="M388.2 186.3 L394.0 186.3 L394.0 335.9" fill="none" stroke="#000" stroke-width="0.9"/>
<line x1="394.30" y1="335.50" x2="397.20" y2="335.50" stroke="#000" stroke-width="1.0"/>
<text x="403.30" y="341.00" font-family='"Liberation Sans", sans-serif' font-size="15.5" text-anchor="start" fill="#000" font-weight="normal" font-style="normal" transform="translate(403.30 341.00) scale(1 1.055) translate(-403.30 -341.00)">0.0</text>
<line x1="394.30" y1="298.40" x2="397.20" y2="298.40" stroke="#000" stroke-width="1.0"/>
<text x="403.30" y="303.90" font-family='"Liberation Sans", sans-serif' font-size="15.5" text-anchor="start" fill="#000" font-weight="normal" font-style="normal" transform="translate(403.30 303.90) scale(1 1.055) translate(-403.30 -303.90)">1.6</text>
<line x1="394.30" y1="261.20" x2="397.20" y2="261.20" stroke="#000" stroke-width="1.0"/>
<text x="403.30" y="266.70" font-family='"Liberation Sans", sans-serif' font-size="15.5" text-anchor="start" fill="#000" font-weight="normal" font-style="normal" transform="translate(403.30 266.70) scale(1 1.055) translate(-403.30 -266.70)">3.2</text>
<line x1="394.30" y1="223.90" x2="397.20" y2="223.90" stroke="#000" stroke-width="1.0"/>
<text x="403.30" y="229.40" font-family='"Liberation Sans", sans-serif' font-size="15.5" text-anchor="start" fill="#000" font-weight="normal" font-style="normal" transform="translate(403.30 229.40) scale(1 1.055) translate(-403.30 -229.40)">4.8</text>
<line x1="394.30" y1="186.70" x2="397.20" y2="186.70" stroke="#000" stroke-width="1.0"/>
<text x="403.30" y="192.20" font-family='"Liberation Sans", sans-serif' font-size="15.5" text-anchor="start" fill="#000" font-weight="normal" font-style="normal" transform="translate(403.30 192.20) scale(1 1.055) translate(-403.30 -192.20)">6.4</text>
<text x="401.40" y="134.50" font-family='"Liberation Sans", sans-serif' font-size="15.8" text-anchor="middle" fill="#000" font-weight="normal" font-style="normal" transform="rotate(-90 401.40 134.50) translate(401.40 134.50) scale(1 1.055) translate(-401.40 -134.50)">|E<tspan font-size="10.5" dy="3.2">Loc,</tspan><tspan font-size="10.5" font-style="italic">l</tspan><tspan font-size="10.5">,</tspan><tspan font-size="10.5" font-style="italic" text-decoration="underline">x</tspan><tspan dy="-3.2">|/|E</tspan><tspan font-size="10.5" dy="3.2">0</tspan><tspan dy="-3.2">|</tspan></text>
<text x="33.00" y="40.30" font-family='"Liberation Sans", sans-serif' font-size="25.5" text-anchor="start" fill="#000" font-weight="bold" font-style="normal" transform="translate(33.00 40.30) scale(1 1.055) translate(-33.00 -40.30)">a</text>
<polyline points="616.2,65.9 586.0,94.3 557.5,122.6 550.8,151.0 545.4,179.4 538.0,207.8 535.0,236.2 532.6,264.5 527.9,292.9 526.0,321.3 525.5,335.5" fill="none" stroke="#0868b0" stroke-width="2.1" stroke-linejoin="round" stroke-linecap="round"/>
<circle cx="616.19" cy="65.88" r="4.45" fill="#0868b0"/>
<circle cx="586.02" cy="94.26" r="4.45" fill="#0868b0"/>
<circle cx="557.52" cy="122.64" r="4.45" fill="#0868b0"/>
<circle cx="550.82" cy="151.02" r="4.45" fill="#0868b0"/>
<circle cx="545.41" cy="179.40" r="4.45" fill="#0868b0"/>
<circle cx="537.97" cy="207.78" r="4.45" fill="#0868b0"/>
<circle cx="534.99" cy="236.16" r="4.45" fill="#0868b0"/>
<circle cx="532.56" cy="264.54" r="4.45" fill="#0868b0"/>
<circle cx="527.91" cy="292.92" r="4.45" fill="#0868b0"/>
<circle cx="526.04" cy="321.30" r="4.45" fill="#0868b0"/>
<rect x="495.50" y="37.50" width="149.00" height="298.00" fill="none" stroke="#000" stroke-width="1.2"/>
<text x="489.80" y="42.90" font-family='"Liberation Sans", sans-serif' font-size="15.5" text-anchor="end" fill="#000" font-weight="normal" font-style="normal" transform="translate(489.80 42.90) scale(1 1.055) translate(-489.80 -42.90)">0</text>
<line x1="495.50" y1="65.88" x2="499.70" y2="65.88" stroke="#000" stroke-width="1.1"/>
<text x="489.80" y="71.28" font-family='"Liberation Sans", sans-serif' font-size="15.5" text-anchor="end" fill="#000" font-weight="normal" font-style="normal" transform="translate(489.80 71.28) scale(1 1.055) translate(-489.80 -71.28)">1</text>
<line x1="495.50" y1="94.26" x2="499.70" y2="94.26" stroke="#000" stroke-width="1.1"/>
<text x="489.80" y="99.66" font-family='"Liberation Sans", sans-serif' font-size="15.5" text-anchor="end" fill="#000" font-weight="normal" font-style="normal" transform="translate(489.80 99.66) scale(1 1.055) translate(-489.80 -99.66)">2</text>
<line x1="495.50" y1="122.64" x2="499.70" y2="122.64" stroke="#000" stroke-width="1.1"/>
<text x="489.80" y="128.04" font-family='"Liberation Sans", sans-serif' font-size="15.5" text-anchor="end" fill="#000" font-weight="normal" font-style="normal" transform="translate(489.80 128.04) scale(1 1.055) translate(-489.80 -128.04)">3</text>
<line x1="495.50" y1="151.02" x2="499.70" y2="151.02" stroke="#000" stroke-width="1.1"/>
<text x="489.80" y="156.42" font-family='"Liberation Sans", sans-serif' font-size="15.5" text-anchor="end" fill="#000" font-weight="normal" font-style="normal" transform="translate(489.80 156.42) scale(1 1.055) translate(-489.80 -156.42)">4</text>
<line x1="495.50" y1="179.40" x2="499.70" y2="179.40" stroke="#000" stroke-width="1.1"/>
<text x="489.80" y="184.80" font-family='"Liberation Sans", sans-serif' font-size="15.5" text-anchor="end" fill="#000" font-weight="normal" font-style="normal" transform="translate(489.80 184.80) scale(1 1.055) translate(-489.80 -184.80)">5</text>
<line x1="495.50" y1="207.78" x2="499.70" y2="207.78" stroke="#000" stroke-width="1.1"/>
<text x="489.80" y="213.18" font-family='"Liberation Sans", sans-serif' font-size="15.5" text-anchor="end" fill="#000" font-weight="normal" font-style="normal" transform="translate(489.80 213.18) scale(1 1.055) translate(-489.80 -213.18)">6</text>
<line x1="495.50" y1="236.16" x2="499.70" y2="236.16" stroke="#000" stroke-width="1.1"/>
<text x="489.80" y="241.56" font-family='"Liberation Sans", sans-serif' font-size="15.5" text-anchor="end" fill="#000" font-weight="normal" font-style="normal" transform="translate(489.80 241.56) scale(1 1.055) translate(-489.80 -241.56)">7</text>
<line x1="495.50" y1="264.54" x2="499.70" y2="264.54" stroke="#000" stroke-width="1.1"/>
<text x="489.80" y="269.94" font-family='"Liberation Sans", sans-serif' font-size="15.5" text-anchor="end" fill="#000" font-weight="normal" font-style="normal" transform="translate(489.80 269.94) scale(1 1.055) translate(-489.80 -269.94)">8</text>
<line x1="495.50" y1="292.92" x2="499.70" y2="292.92" stroke="#000" stroke-width="1.1"/>
<text x="489.80" y="298.32" font-family='"Liberation Sans", sans-serif' font-size="15.5" text-anchor="end" fill="#000" font-weight="normal" font-style="normal" transform="translate(489.80 298.32) scale(1 1.055) translate(-489.80 -298.32)">9</text>
<line x1="495.50" y1="321.30" x2="499.70" y2="321.30" stroke="#000" stroke-width="1.1"/>
<text x="490.20" y="326.70" font-family='"Liberation Sans", sans-serif' font-size="15.5" text-anchor="end" fill="#000" font-weight="normal" font-style="normal" transform="translate(490.20 326.70) scale(1 1.055) translate(-490.20 -326.70)">10</text>
<text x="495.50" y="353.80" font-family='"Liberation Sans", sans-serif' font-size="15.5" text-anchor="middle" fill="#000" font-weight="normal" font-style="normal" transform="translate(495.50 353.80) scale(1 1.055) translate(-495.50 -353.80)">0</text>
<line x1="504.81" y1="335.50" x2="504.81" y2="333.10" stroke="#000" stroke-width="1.1"/>
<line x1="514.12" y1="335.50" x2="514.12" y2="331.30" stroke="#000" stroke-width="1.1"/>
<text x="514.12" y="353.80" font-family='"Liberation Sans", sans-serif' font-size="15.5" text-anchor="middle" fill="#000" font-weight="normal" font-style="normal" transform="translate(514.12 353.80) scale(1 1.055) translate(-514.12 -353.80)">1</text>
<line x1="523.44" y1="335.50" x2="523.44" y2="333.10" stroke="#000" stroke-width="1.1"/>
<line x1="532.75" y1="335.50" x2="532.75" y2="331.30" stroke="#000" stroke-width="1.1"/>
<text x="532.75" y="353.80" font-family='"Liberation Sans", sans-serif' font-size="15.5" text-anchor="middle" fill="#000" font-weight="normal" font-style="normal" transform="translate(532.75 353.80) scale(1 1.055) translate(-532.75 -353.80)">2</text>
<line x1="542.06" y1="335.50" x2="542.06" y2="333.10" stroke="#000" stroke-width="1.1"/>
<line x1="551.38" y1="335.50" x2="551.38" y2="331.30" stroke="#000" stroke-width="1.1"/>
<text x="551.38" y="353.80" font-family='"Liberation Sans", sans-serif' font-size="15.5" text-anchor="middle" fill="#000" font-weight="normal" font-style="normal" transform="translate(551.38 353.80) scale(1 1.055) translate(-551.38 -353.80)">3</text>
<line x1="560.69" y1="335.50" x2="560.69" y2="333.10" stroke="#000" stroke-width="1.1"/>
<line x1="570.00" y1="335.50" x2="570.00" y2="331.30" stroke="#000" stroke-width="1.1"/>
<text x="570.00" y="353.80" font-family='"Liberation Sans", sans-serif' font-size="15.5" text-anchor="middle" fill="#000" font-weight="normal" font-style="normal" transform="translate(570.00 353.80) scale(1 1.055) translate(-570.00 -353.80)">4</text>
<line x1="579.31" y1="335.50" x2="579.31" y2="333.10" stroke="#000" stroke-width="1.1"/>
<line x1="588.62" y1="335.50" x2="588.62" y2="331.30" stroke="#000" stroke-width="1.1"/>
<text x="588.62" y="353.80" font-family='"Liberation Sans", sans-serif' font-size="15.5" text-anchor="middle" fill="#000" font-weight="normal" font-style="normal" transform="translate(588.62 353.80) scale(1 1.055) translate(-588.62 -353.80)">5</text>
<line x1="597.94" y1="335.50" x2="597.94" y2="333.10" stroke="#000" stroke-width="1.1"/>
<line x1="607.25" y1="335.50" x2="607.25" y2="331.30" stroke="#000" stroke-width="1.1"/>
<text x="607.25" y="353.80" font-family='"Liberation Sans", sans-serif' font-size="15.5" text-anchor="middle" fill="#000" font-weight="normal" font-style="normal" transform="translate(607.25 353.80) scale(1 1.055) translate(-607.25 -353.80)">6</text>
<line x1="616.56" y1="335.50" x2="616.56" y2="333.10" stroke="#000" stroke-width="1.1"/>
<line x1="625.88" y1="335.50" x2="625.88" y2="331.30" stroke="#000" stroke-width="1.1"/>
<text x="625.88" y="353.80" font-family='"Liberation Sans", sans-serif' font-size="15.5" text-anchor="middle" fill="#000" font-weight="normal" font-style="normal" transform="translate(625.88 353.80) scale(1 1.055) translate(-625.88 -353.80)">7</text>
<line x1="635.19" y1="335.50" x2="635.19" y2="333.10" stroke="#000" stroke-width="1.1"/>
<text x="644.50" y="353.80" font-family='"Liberation Sans", sans-serif' font-size="15.5" text-anchor="middle" fill="#000" font-weight="normal" font-style="normal" transform="translate(644.50 353.80) scale(1 1.055) translate(-644.50 -353.80)">8</text>
<text x="467.70" y="186.00" font-family='"Liberation Sans", sans-serif' font-size="15.8" text-anchor="middle" fill="#000" font-weight="normal" font-style="normal" transform="rotate(-90 467.70 186.00) translate(467.70 186.00) scale(1 1.055) translate(-467.70 -186.00)">Layer index <tspan font-style="italic">l</tspan></text>
<text x="570.00" y="378.80" font-family='"Liberation Sans", sans-serif' font-size="15.8" text-anchor="middle" fill="#000" font-weight="normal" font-style="normal" transform="translate(570.00 378.80) scale(1 1.055) translate(-570.00 -378.80)">|E<tspan font-size="10.5" dy="3.2">Loc,</tspan><tspan font-size="10.5" font-style="italic">l</tspan><tspan font-size="10.5">,</tspan><tspan font-size="10.5" font-style="italic">x</tspan><tspan dy="-3.2">|/|E</tspan><tspan font-size="10.5" dy="3.2">0</tspan><tspan dy="-3.2">|</tspan></text>
<text x="446.50" y="40.30" font-family='"Liberation Sans", sans-serif' font-size="25.5" text-anchor="start" fill="#000" font-weight="bold" font-style="normal" transform="translate(446.50 40.30) scale(1 1.055) translate(-446.50 -40.30)">b</text>
<line x1="664.50" y1="66.18" x2="775.80" y2="66.18" stroke="#5a5a5a" stroke-width="1.3"/>
<circle cx="667.60" cy="66.18" r="1.85" fill="#dadada" stroke="#484848" stroke-width="1.25"/>
<circle cx="679.40" cy="66.18" r="1.85" fill="#dadada" stroke="#484848" stroke-width="1.25"/>
<circle cx="685.00" cy="66.18" r="1.85" fill="#dadada" stroke="#484848" stroke-width="1.25"/>
<circle cx="696.98" cy="66.18" r="1.85" fill="#dadada" stroke="#484848" stroke-width="1.25"/>
<circle cx="702.58" cy="66.18" r="1.85" fill="#dadada" stroke="#484848" stroke-width="1.25"/>
<circle cx="714.56" cy="66.18" r="1.85" fill="#dadada" stroke="#484848" stroke-width="1.25"/>
<circle cx="720.16" cy="66.18" r="1.85" fill="#dadada" stroke="#484848" stroke-width="1.25"/>
<circle cx="732.14" cy="66.18" r="1.85" fill="#dadada" stroke="#484848" stroke-width="1.25"/>
<circle cx="737.74" cy="66.18" r="1.85" fill="#dadada" stroke="#484848" stroke-width="1.25"/>
<circle cx="749.72" cy="66.18" r="1.85" fill="#dadada" stroke="#484848" stroke-width="1.25"/>
<circle cx="755.32" cy="66.18" r="1.85" fill="#dadada" stroke="#484848" stroke-width="1.25"/>
<circle cx="767.30" cy="66.18" r="1.85" fill="#dadada" stroke="#484848" stroke-width="1.25"/>
<circle cx="772.90" cy="66.18" r="1.85" fill="#dadada" stroke="#484848" stroke-width="1.25"/>
<line x1="664.50" y1="94.56" x2="775.80" y2="94.56" stroke="#5a5a5a" stroke-width="1.3"/>
<circle cx="667.90" cy="94.56" r="1.85" fill="#dadada" stroke="#484848" stroke-width="1.25"/>
<circle cx="673.70" cy="94.56" r="1.85" fill="#dadada" stroke="#484848" stroke-width="1.25"/>
<circle cx="685.40" cy="94.56" r="1.85" fill="#dadada" stroke="#484848" stroke-width="1.25"/>
<circle cx="691.20" cy="94.56" r="1.85" fill="#dadada" stroke="#484848" stroke-width="1.25"/>
<circle cx="702.90" cy="94.56" r="1.85" fill="#dadada" stroke="#484848" stroke-width="1.25"/>
<circle cx="708.70" cy="94.56" r="1.85" fill="#dadada" stroke="#484848" stroke-width="1.25"/>
<circle cx="720.40" cy="94.56" r="1.85" fill="#dadada" stroke="#484848" stroke-width="1.25"/>
<circle cx="726.20" cy="94.56" r="1.85" fill="#dadada" stroke="#484848" stroke-width="1.25"/>
<circle cx="737.90" cy="94.56" r="1.85" fill="#dadada" stroke="#484848" stroke-width="1.25"/>
<circle cx="743.70" cy="94.56" r="1.85" fill="#dadada" stroke="#484848" stroke-width="1.25"/>
<circle cx="755.40" cy="94.56" r="1.85" fill="#dadada" stroke="#484848" stroke-width="1.25"/>
<circle cx="761.20" cy="94.56" r="1.85" fill="#dadada" stroke="#484848" stroke-width="1.25"/>
<circle cx="773.00" cy="94.56" r="1.85" fill="#dadada" stroke="#484848" stroke-width="1.25"/>
<line x1="664.50" y1="122.94" x2="775.80" y2="122.94" stroke="#cfcfcf" stroke-width="1.3"/>
<circle cx="667.60" cy="122.94" r="1.85" fill="#dadada" stroke="#484848" stroke-width="1.25"/>
<circle cx="679.40" cy="122.94" r="1.85" fill="#dadada" stroke="#484848" stroke-width="1.25"/>
<circle cx="685.00" cy="122.94" r="1.85" fill="#dadada" stroke="#484848" stroke-width="1.25"/>
<circle cx="696.98" cy="122.94" r="1.85" fill="#dadada" stroke="#484848" stroke-width="1.25"/>
<circle cx="702.58" cy="122.94" r="1.85" fill="#dadada" stroke="#484848" stroke-width="1.25"/>
<circle cx="714.56" cy="122.94" r="1.85" fill="#dadada" stroke="#484848" stroke-width="1.25"/>
<circle cx="720.16" cy="122.94" r="1.85" fill="#dadada" stroke="#484848" stroke-width="1.25"/>
<circle cx="732.14" cy="122.94" r="1.85" fill="#dadada" stroke="#484848" stroke-width="1.25"/>
<circle cx="737.74" cy="122.94" r="1.85" fill="#dadada" stroke="#484848" stroke-width="1.25"/>
<circle cx="749.72" cy="122.94" r="1.85" fill="#dadada" stroke="#484848" stroke-width="1.25"/>
<circle cx="755.32" cy="122.94" r="1.85" fill="#dadada" stroke="#484848" stroke-width="1.25"/>
<circle cx="767.30" cy="122.94" r="1.85" fill="#dadada" stroke="#484848" stroke-width="1.25"/>
<circle cx="772.90" cy="122.94" r="1.85" fill="#dadada" stroke="#484848" stroke-width="1.25"/>
<line x1="664.50" y1="151.32" x2="775.80" y2="151.32" stroke="#5a5a5a" stroke-width="1.3"/>
<circle cx="667.90" cy="151.32" r="1.85" fill="#dadada" stroke="#484848" stroke-width="1.25"/>
<circle cx="673.70" cy="151.32" r="1.85" fill="#dadada" stroke="#484848" stroke-width="1.25"/>
<circle cx="685.40" cy="151.32" r="1.85" fill="#dadada" stroke="#484848" stroke-width="1.25"/>
<circle cx="691.20" cy="151.32" r="1.85" fill="#dadada" stroke="#484848" stroke-width="1.25"/>
<circle cx="702.90" cy="151.32" r="1.85" fill="#dadada" stroke="#484848" stroke-width="1.25"/>
<circle cx="708.70" cy="151.32" r="1.85" fill="#dadada" stroke="#484848" stroke-width="1.25"/>
<circle cx="720.40" cy="151.32" r="1.85" fill="#dadada" stroke="#484848" stroke-width="1.25"/>
<circle cx="726.20" cy="151.32" r="1.85" fill="#dadada" stroke="#484848" stroke-width="1.25"/>
<circle cx="737.90" cy="151.32" r="1.85" fill="#dadada" stroke="#484848" stroke-width="1.25"/>
<circle cx="743.70" cy="151.32" r="1.85" fill="#dadada" stroke="#484848" stroke-width="1.25"/>
<circle cx="755.40" cy="151.32" r="1.85" fill="#dadada" stroke="#484848" stroke-width="1.25"/>
<circle cx="761.20" cy="151.32" r="1.85" fill="#dadada" stroke="#484848" stroke-width="1.25"/>
<circle cx="773.00" cy="151.32" r="1.85" fill="#dadada" stroke="#484848" stroke-width="1.25"/>
<line x1="664.50" y1="179.70" x2="775.80" y2="179.70" stroke="#b9b9b9" stroke-width="1.3"/>
<circle cx="667.60" cy="179.70" r="1.85" fill="#dadada" stroke="#484848" stroke-width="1.25"/>
<circle cx="679.40" cy="179.70" r="1.85" fill="#dadada" stroke="#484848" stroke-width="1.25"/>
<circle cx="685.00" cy="179.70" r="1.85" fill="#dadada" stroke="#484848" stroke-width="1.25"/>
<circle cx="696.98" cy="179.70" r="1.85" fill="#dadada" stroke="#484848" stroke-width="1.25"/>
<circle cx="702.58" cy="179.70" r="1.85" fill="#dadada" stroke="#484848" stroke-width="1.25"/>
<circle cx="714.56" cy="179.70" r="1.85" fill="#dadada" stroke="#484848" stroke-width="1.25"/>
<circle cx="720.16" cy="179.70" r="1.85" fill="#dadada" stroke="#484848" stroke-width="1.25"/>
<circle cx="732.14" cy="179.70" r="1.85" fill="#dadada" stroke="#484848" stroke-width="1.25"/>
<circle cx="737.74" cy="179.70" r="1.85" fill="#dadada" stroke="#484848" stroke-width="1.25"/>
<circle cx="749.72" cy="179.70" r="1.85" fill="#dadada" stroke="#484848" stroke-width="1.25"/>
<circle cx="755.32" cy="179.70" r="1.85" fill="#dadada" stroke="#484848" stroke-width="1.25"/>
<circle cx="767.30" cy="179.70" r="1.85" fill="#dadada" stroke="#484848" stroke-width="1.25"/>
<circle cx="772.90" cy="179.70" r="1.85" fill="#dadada" stroke="#484848" stroke-width="1.25"/>
<line x1="664.50" y1="208.08" x2="775.80" y2="208.08" stroke="#5a5a5a" stroke-width="1.3"/>
<circle cx="667.90" cy="208.08" r="1.85" fill="#dadada" stroke="#484848" stroke-width="1.25"/>
<circle cx="673.70" cy="208.08" r="1.85" fill="#dadada" stroke="#484848" stroke-width="1.25"/>
<circle cx="685.40" cy="208.08" r="1.85" fill="#dadada" stroke="#484848" stroke-width="1.25"/>
<circle cx="691.20" cy="208.08" r="1.85" fill="#dadada" stroke="#484848" stroke-width="1.25"/>
<circle cx="702.90" cy="208.08" r="1.85" fill="#dadada" stroke="#484848" stroke-width="1.25"/>
<circle cx="708.70" cy="208.08" r="1.85" fill="#dadada" stroke="#484848" stroke-width="1.25"/>
<circle cx="720.40" cy="208.08" r="1.85" fill="#dadada" stroke="#484848" stroke-width="1.25"/>
<circle cx="726.20" cy="208.08" r="1.85" fill="#dadada" stroke="#484848" stroke-width="1.25"/>
<circle cx="737.90" cy="208.08" r="1.85" fill="#dadada" stroke="#484848" stroke-width="1.25"/>
<circle cx="743.70" cy="208.08" r="1.85" fill="#dadada" stroke="#484848" stroke-width="1.25"/>
<circle cx="755.40" cy="208.08" r="1.85" fill="#dadada" stroke="#484848" stroke-width="1.25"/>
<circle cx="761.20" cy="208.08" r="1.85" fill="#dadada" stroke="#484848" stroke-width="1.25"/>
<circle cx="773.00" cy="208.08" r="1.85" fill="#dadada" stroke="#484848" stroke-width="1.25"/>
<line x1="664.50" y1="236.46" x2="775.80" y2="236.46" stroke="#777" stroke-width="1.3"/>
<circle cx="667.60" cy="236.46" r="1.85" fill="#dadada" stroke="#484848" stroke-width="1.25"/>
<circle cx="679.40" cy="236.46" r="1.85" fill="#dadada" stroke="#484848" stroke-width="1.25"/>
<circle cx="685.00" cy="236.46" r="1.85" fill="#dadada" stroke="#484848" stroke-width="1.25"/>
<circle cx="696.98" cy="236.46" r="1.85" fill="#dadada" stroke="#484848" stroke-width="1.25"/>
<circle cx="702.58" cy="236.46" r="1.85" fill="#dadada" stroke="#484848" stroke-width="1.25"/>
<circle cx="714.56" cy="236.46" r="1.85" fill="#dadada" stroke="#484848" stroke-width="1.25"/>
<circle cx="720.16" cy="236.46" r="1.85" fill="#dadada" stroke="#484848" stroke-width="1.25"/>
<circle cx="732.14" cy="236.46" r="1.85" fill="#dadada" stroke="#484848" stroke-width="1.25"/>
<circle cx="737.74" cy="236.46" r="1.85" fill="#dadada" stroke="#484848" stroke-width="1.25"/>
<circle cx="749.72" cy="236.46" r="1.85" fill="#dadada" stroke="#484848" stroke-width="1.25"/>
<circle cx="755.32" cy="236.46" r="1.85" fill="#dadada" stroke="#484848" stroke-width="1.25"/>
<circle cx="767.30" cy="236.46" r="1.85" fill="#dadada" stroke="#484848" stroke-width="1.25"/>
<circle cx="772.90" cy="236.46" r="1.85" fill="#dadada" stroke="#484848" stroke-width="1.25"/>
<line x1="664.50" y1="264.84" x2="775.80" y2="264.84" stroke="#5a5a5a" stroke-width="1.3"/>
<circle cx="667.90" cy="264.84" r="1.85" fill="#dadada" stroke="#484848" stroke-width="1.25"/>
<circle cx="673.70" cy="264.84" r="1.85" fill="#dadada" stroke="#484848" stroke-width="1.25"/>
<circle cx="685.40" cy="264.84" r="1.85" fill="#dadada" stroke="#484848" stroke-width="1.25"/>
<circle cx="691.20" cy="264.84" r="1.85" fill="#dadada" stroke="#484848" stroke-width="1.25"/>
<circle cx="702.90" cy="264.84" r="1.85" fill="#dadada" stroke="#484848" stroke-width="1.25"/>
<circle cx="708.70" cy="264.84" r="1.85" fill="#dadada" stroke="#484848" stroke-width="1.25"/>
<circle cx="720.40" cy="264.84" r="1.85" fill="#dadada" stroke="#484848" stroke-width="1.25"/>
<circle cx="726.20" cy="264.84" r="1.85" fill="#dadada" stroke="#484848" stroke-width="1.25"/>
<circle cx="737.90" cy="264.84" r="1.85" fill="#dadada" stroke="#484848" stroke-width="1.25"/>
<circle cx="743.70" cy="264.84" r="1.85" fill="#dadada" stroke="#484848" stroke-width="1.25"/>
<circle cx="755.40" cy="264.84" r="1.85" fill="#dadada" stroke="#484848" stroke-width="1.25"/>
<circle cx="761.20" cy="264.84" r="1.85" fill="#dadada" stroke="#484848" stroke-width="1.25"/>
<circle cx="773.00" cy="264.84" r="1.85" fill="#dadada" stroke="#484848" stroke-width="1.25"/>
<line x1="664.50" y1="293.22" x2="775.80" y2="293.22" stroke="#666" stroke-width="1.3"/>
<circle cx="667.60" cy="293.22" r="1.85" fill="#dadada" stroke="#484848" stroke-width="1.25"/>
<circle cx="679.40" cy="293.22" r="1.85" fill="#dadada" stroke="#484848" stroke-width="1.25"/>
<circle cx="685.00" cy="293.22" r="1.85" fill="#dadada" stroke="#484848" stroke-width="1.25"/>
<circle cx="696.98" cy="293.22" r="1.85" fill="#dadada" stroke="#484848" stroke-width="1.25"/>
<circle cx="702.58" cy="293.22" r="1.85" fill="#dadada" stroke="#484848" stroke-width="1.25"/>
<circle cx="714.56" cy="293.22" r="1.85" fill="#dadada" stroke="#484848" stroke-width="1.25"/>
<circle cx="720.16" cy="293.22" r="1.85" fill="#dadada" stroke="#484848" stroke-width="1.25"/>
<circle cx="732.14" cy="293.22" r="1.85" fill="#dadada" stroke="#484848" stroke-width="1.25"/>
<circle cx="737.74" cy="293.22" r="1.85" fill="#dadada" stroke="#484848" stroke-width="1.25"/>
<circle cx="749.72" cy="293.22" r="1.85" fill="#dadada" stroke="#484848" stroke-width="1.25"/>
<circle cx="755.32" cy="293.22" r="1.85" fill="#dadada" stroke="#484848" stroke-width="1.25"/>
<circle cx="767.30" cy="293.22" r="1.85" fill="#dadada" stroke="#484848" stroke-width="1.25"/>
<circle cx="772.90" cy="293.22" r="1.85" fill="#dadada" stroke="#484848" stroke-width="1.25"/>
<line x1="664.50" y1="321.60" x2="775.80" y2="321.60" stroke="#dcdcdc" stroke-width="1.3"/>
<circle cx="667.90" cy="321.60" r="1.85" fill="#dadada" stroke="#484848" stroke-width="1.25"/>
<circle cx="673.70" cy="321.60" r="1.85" fill="#dadada" stroke="#484848" stroke-width="1.25"/>
<circle cx="685.40" cy="321.60" r="1.85" fill="#dadada" stroke="#484848" stroke-width="1.25"/>
<circle cx="691.20" cy="321.60" r="1.85" fill="#dadada" stroke="#484848" stroke-width="1.25"/>
<circle cx="702.90" cy="321.60" r="1.85" fill="#dadada" stroke="#484848" stroke-width="1.25"/>
<circle cx="708.70" cy="321.60" r="1.85" fill="#dadada" stroke="#484848" stroke-width="1.25"/>
<circle cx="720.40" cy="321.60" r="1.85" fill="#dadada" stroke="#484848" stroke-width="1.25"/>
<circle cx="726.20" cy="321.60" r="1.85" fill="#dadada" stroke="#484848" stroke-width="1.25"/>
<circle cx="737.90" cy="321.60" r="1.85" fill="#dadada" stroke="#484848" stroke-width="1.25"/>
<circle cx="743.70" cy="321.60" r="1.85" fill="#dadada" stroke="#484848" stroke-width="1.25"/>
<circle cx="755.40" cy="321.60" r="1.85" fill="#dadada" stroke="#484848" stroke-width="1.25"/>
<circle cx="761.20" cy="321.60" r="1.85" fill="#dadada" stroke="#484848" stroke-width="1.25"/>
<circle cx="773.00" cy="321.60" r="1.85" fill="#dadada" stroke="#484848" stroke-width="1.25"/>
<path d="M664 48.9 L664 35.2 Q664 33.6 666 33.2 Q672 31 676.5 31.6 Q684 32.6 689 38 Q692.5 42.5 691.3 47 Q690.8 48.9 689 48.9 Z" fill="#ffd966" stroke="none" stroke-width="1.0"/>
<path d="M694.8 48.9 Q694.2 48 695.5 45.5 Q698 39 702 36 Q707.5 32.2 714 32.3 Q720.5 32.4 724.5 35.2 Q727.5 38 727.9 44 Q728.2 48.9 726.5 48.9 Z" fill="#ffd966" stroke="none" stroke-width="1.0"/>
<path d="M731 46.5 L731 38.6 Q731 36 733.8 35.9 L752 35.7 Q755.2 35.8 755.2 39 L755.2 46 Q755.2 48.9 752.5 48.9 L733.5 48.9 Q731 48.9 731 46.5 Z" fill="#ffd966" stroke="none" stroke-width="1.0"/>
<path d="M758 48.9 Q757.8 47.5 758.8 45 Q761.5 38.2 766 35 Q770.5 32.4 776.1 32.6 L776.1 48.9 Z" fill="#ffd966" stroke="none" stroke-width="1.0"/>
<text x="720.30" y="27.50" font-family='"Liberation Sans", sans-serif' font-size="15.5" text-anchor="middle" fill="#000" font-weight="normal" font-style="normal" transform="translate(720.30 27.50) scale(1 1.055) translate(-720.30 -27.50)">AuNCs</text>
<text x="720.50" y="345.60" font-family='"Liberation Sans", sans-serif' font-size="15.5" text-anchor="middle" fill="#000" font-weight="normal" font-style="normal" transform="translate(720.50 345.60) scale(1 1.055) translate(-720.50 -345.60)"><tspan font-style="italic">N</tspan>LG</text>
<text x="812.00" y="98.56" font-family='"Liberation Sans", sans-serif' font-size="15.5" text-anchor="middle" fill="#c00000" font-weight="normal" font-style="normal" transform="translate(812.00 98.56) scale(1 1.055) translate(-812.00 -98.56)">0</text>
<text x="812.00" y="126.94" font-family='"Liberation Sans", sans-serif' font-size="15.5" text-anchor="middle" fill="#c00000" font-weight="normal" font-style="normal" transform="translate(812.00 126.94) scale(1 1.055) translate(-812.00 -126.94)">0</text>
<text x="812.00" y="155.32" font-family='"Liberation Sans", sans-serif' font-size="15.5" text-anchor="middle" fill="#c00000" font-weight="normal" font-style="normal" transform="translate(812.00 155.32) scale(1 1.055) translate(-812.00 -155.32)">0</text>
<text x="812.00" y="183.70" font-family='"Liberation Sans", sans-serif' font-size="15.5" text-anchor="middle" fill="#c00000" font-weight="normal" font-style="normal" transform="translate(812.00 183.70) scale(1 1.055) translate(-812.00 -183.70)">0</text>
<text x="812.00" y="212.08" font-family='"Liberation Sans", sans-serif' font-size="15.5" text-anchor="middle" fill="#c00000" font-weight="normal" font-style="normal" transform="translate(812.00 212.08) scale(1 1.055) translate(-812.00 -212.08)">0</text>
<text x="812.00" y="240.46" font-family='"Liberation Sans", sans-serif' font-size="15.5" text-anchor="middle" fill="#c00000" font-weight="normal" font-style="normal" transform="translate(812.00 240.46) scale(1 1.055) translate(-812.00 -240.46)">0</text>
<text x="812.00" y="268.84" font-family='"Liberation Sans", sans-serif' font-size="15.5" text-anchor="middle" fill="#c00000" font-weight="normal" font-style="normal" transform="translate(812.00 268.84) scale(1 1.055) translate(-812.00 -268.84)">0</text>
<text x="812.00" y="297.22" font-family='"Liberation Sans", sans-serif' font-size="15.5" text-anchor="middle" fill="#c00000" font-weight="normal" font-style="normal" transform="translate(812.00 297.22) scale(1 1.055) translate(-812.00 -297.22)">0</text>
<text x="798.50" y="45.00" font-family='"Liberation Sans", sans-serif' font-size="15.5" text-anchor="start" fill="#1c2fd0" font-weight="normal" font-style="normal" transform="translate(798.50 45.00) scale(1 1.055) translate(-798.50 -45.00)"><tspan font-family='"Liberation Serif", serif' font-style="italic" font-size="18.5">α</tspan><tspan font-family='"Liberation Serif", serif' font-size="15" dy="-1.5">′</tspan><tspan font-style="italic" font-size="10" dy="5.6" dx="-1.5">l,xx</tspan></text>
<text x="781.50" y="69.00" font-family='"Liberation Sans", sans-serif' font-size="15.5" text-anchor="start" fill="#c00000" font-weight="normal" font-style="normal" transform="translate(781.50 69.00) scale(1 1.055) translate(-781.50 -69.00)"><tspan font-family='"Liberation Serif", serif' font-style="italic" font-size="14.6">η</tspan><tspan font-size="11" dy="4.6">Au/Gr</tspan><tspan dy="-4.6" font-size="13" dx="0.8">-</tspan><tspan font-family='"Liberation Serif", serif' font-style="italic" font-size="14.6" dx="1.6">η</tspan><tspan font-size="11" dy="4.6">Gr</tspan></text>
<text x="803.70" y="326.30" font-family='"Liberation Sans", sans-serif' font-size="15.5" text-anchor="start" fill="#c00000" font-weight="normal" font-style="normal" transform="translate(803.70 326.30) scale(1 1.055) translate(-803.70 -326.30)"><tspan font-family='"Liberation Serif", serif' font-style="italic" font-size="14.6">η</tspan><tspan font-size="11" dy="4.6">Gr</tspan></text>
<text x="863.50" y="40.30" font-family='"Liberation Sans", sans-serif' font-size="25.5" text-anchor="start" fill="#000" font-weight="bold" font-style="normal" transform="translate(863.50 40.30) scale(1 1.055) translate(-863.50 -40.30)">e</text>
<text x="996.00" y="43.60" font-family='"Liberation Sans", sans-serif' font-size="15.5" text-anchor="middle" fill="#c00000" font-weight="normal" font-style="normal" transform="translate(996.00 43.60) scale(1 1.055) translate(-996.00 -43.60)">As-prep.</text>
<text x="1157.80" y="45.00" font-family='"Liberation Sans", sans-serif' font-size="15.5" text-anchor="middle" fill="#c00000" font-weight="normal" font-style="normal" transform="translate(1157.80 45.00) scale(1 1.055) translate(-1157.80 -45.00)">Ann. 600°C</text>
<text x="996.00" y="207.70" font-family='"Liberation Sans", sans-serif' font-size="15.5" text-anchor="middle" fill="#0e8f63" font-weight="normal" font-style="normal" transform="translate(996.00 207.70) scale(1 1.055) translate(-996.00 -207.70)">As-prep.</text>
<text x="1158.00" y="209.50" font-family='"Liberation Sans", sans-serif' font-size="15.5" text-anchor="middle" fill="#0e8f63" font-weight="normal" font-style="normal" transform="translate(1158.00 209.50) scale(1 1.055) translate(-1158.00 -209.50)">Ann. 400°C</text>
<text x="926.80" y="122.60" font-family='"Liberation Sans", sans-serif' font-size="15.5" text-anchor="end" fill="#c00000" font-weight="normal" font-style="normal" transform="translate(926.80 122.60) scale(1 1.055) translate(-926.80 -122.60)">AuNCs</text>
<text x="926.30" y="284.70" font-family='"Liberation Sans", sans-serif' font-size="15.5" text-anchor="end" fill="#0e8f63" font-weight="normal" font-style="normal" transform="translate(926.30 284.70) scale(1 1.055) translate(-926.30 -284.70)">AgNCs</text>
<svg x="931.0" y="54.0" width="135.0" height="124.0" viewBox="0 0 135.0 124.0" overflow="hidden">
<rect x="0" y="0" width="135.0" height="124.0" fill="#dfdfdf"/>
<rect x="0" y="0" width="135.0" height="124.0" fill="#9a9a9a" filter="url(#speck1b)"/>
<rect x="0" y="0" width="135.0" height="124.0" fill="#9c9c9c" filter="url(#speck1)"/>
<g fill="none" stroke-linecap="round" stroke-linejoin="round" filter="url(#crblur)">
<path d="M1.4 80.2L-0.5 80.0L-3.3 80.7M134.6 128.9L133.5 128.5L132.9 126.5M132.9 126.5L128.3 124.5L125.0 124.0M117.1 128.6L117.8 125.5L119.9 123.1M122.6 121.9L123.8 121.4L123.5 122.1M130.3 106.6L128.0 108.3L126.2 110.2M122.6 121.9L122.4 119.0L122.2 117.3M122.2 117.3L124.9 114.3L126.3 110.5M132.9 126.5L133.1 124.3L133.2 121.3M139.0 105.6L151.9 101.9L164.1 97.3M139.0 105.6L136.3 104.4L135.1 101.6M6.2 71.0L3.0 66.1L0.8 62.1M138.7 49.3L138.2 45.3L137.8 42.0M82.6 76.7L82.5 74.9L82.6 73.8M89.0 69.2L90.5 71.1L92.0 74.4M86.9 78.7L89.6 76.5L92.0 74.4M122.6 107.8L123.9 103.6L124.0 99.9M114.3 93.2L110.9 93.2L108.9 93.1M110.3 100.4L112.5 99.0L115.3 96.8M115.3 96.8L115.6 95.7L115.6 95.8M110.7 104.7L109.9 101.8L110.3 100.4M115.5 90.2L114.6 91.9L114.3 93.2M125.9 97.6L126.0 96.9L125.9 95.2M125.5 95.1L126.1 94.6L125.9 95.2M131.2 93.4L128.5 93.5L127.2 94.2M125.9 95.2L127.3 94.9L127.2 94.2M49.5 0.9L47.9 0.1L47.2 -0.4M47.2 86.1L49.8 82.5L51.3 79.2M49.7 77.4L50.2 78.6L51.3 79.2M24.3 10.9L23.5 13.2L21.5 15.7M24.3 10.9L25.8 10.2L28.7 9.2M28.7 9.2L28.9 12.4L30.4 15.0M45.6 46.6L44.8 45.7L44.8 46.0M37.9 52.1L37.9 49.9L36.9 47.3M1.2 61.6L2.0 61.3L3.4 60.5M-2.2 53.5L-2.0 53.1L-1.7 53.8M0.8 62.1L0.5 61.2L1.2 61.6M44.7 109.9L47.6 109.1L50.5 107.3M39.7 80.7L40.3 80.1L40.5 80.6M47.8 88.9L47.5 90.5L46.8 91.0M22.0 90.1L24.6 87.8L27.9 84.8M10.5 80.4L6.6 82.2L4.1 83.1M-4.8 85.7L-2.2 87.2L-1.0 89.0M138.7 49.3L136.0 50.2L134.8 51.1M137.8 42.0L137.7 42.3L136.7 41.2M129.3 46.0L129.7 45.5L129.1 44.7M117.6 1.7L118.4 1.1L119.3 1.1M137.4 19.1L137.6 20.6L136.9 21.3M136.7 41.2L137.2 39.7L136.3 36.7M136.3 36.7L139.7 34.3L143.7 32.3M51.4 51.1L51.3 53.7L50.0 56.9M101.7 76.3L103.5 79.9L104.3 82.1M86.9 78.7L88.3 80.7L88.8 83.4M114.7 69.4L114.9 69.0L113.9 69.1M108.9 76.1L109.1 73.5L110.4 71.0M113.9 69.1L111.5 70.2L110.4 71.0M-2.7 -0.1L-1.5 2.0L-0.3 4.7M4.3 12.9L5.2 15.3L4.8 18.0M-3.9 20.7L-46.1 13.6L-88.2 5.7M-1.1 -2.6L-1.2 -1.1L-2.7 -0.1M34.4 -3.5L29.8 -2.0L26.7 -1.5M57.1 66.3L55.9 67.3L53.4 67.9M60.8 71.3L59.0 73.3L58.2 74.6M58.2 74.6L55.0 72.2L53.0 70.8M49.8 73.0L52.0 71.8L53.0 70.8M43.2 72.5L42.1 71.0L39.5 71.0M39.5 71.0L39.6 68.9L38.8 67.0M50.5 65.5L52.0 62.3L52.7 58.7M18.7 8.8L16.4 10.8L15.4 13.5M44.3 59.0L42.4 59.9L41.7 59.4M29.9 50.8L33.1 53.6L35.2 55.4M31.5 46.9L34.4 47.2L36.2 46.8M18.7 64.1L15.7 66.1L11.7 67.9M18.7 84.4L16.5 84.5L14.0 84.9M11.7 51.2L11.2 48.3L10.0 45.4M10.0 45.4L7.0 45.7L4.3 46.8M-4.9 26.5L-3.7 25.8L-3.3 25.3M-3.9 20.7L-2.9 23.2L-3.3 25.3M23.2 47.4L26.2 44.9L28.8 43.4M28.7 32.7L27.4 33.0L26.4 33.0M26.4 33.0L25.3 35.9L25.5 39.2M26.4 33.0L25.5 32.5L24.7 31.6M77.9 126.6L81.7 127.9L84.0 128.9M95.8 103.2L93.1 102.0L91.3 99.8M79.0 122.2L77.9 120.4L75.9 118.0M77.9 126.6L77.6 126.5L77.6 126.0M101.5 110.6L105.2 110.3L108.8 111.4M101.5 110.6L101.4 110.1L101.3 110.8M101.3 110.8L100.9 112.0L100.2 113.1M100.2 113.1L104.6 115.9L109.1 119.1M110.9 118.3L110.9 119.1L109.8 119.0M104.1 105.1L102.3 107.3L101.5 110.6M98.4 120.5L98.2 117.9L98.2 114.8M98.2 114.8L99.2 114.4L100.2 113.1M119.9 123.1L115.1 120.0L110.9 118.3M97.9 95.8L94.8 95.8L92.6 96.2M107.6 97.8L106.3 99.1L103.7 98.7M97.9 95.8L96.6 92.4L96.9 89.5M97.9 88.2L96.9 88.7L96.9 89.5M53.8 104.6L53.5 102.1L53.1 99.7M50.5 107.3L51.1 107.9L50.6 107.0M41.2 106.5L42.3 102.9L45.0 100.0M47.2 92.2L47.4 95.0L46.5 97.8M47.2 92.2L47.6 91.8L46.8 91.0M38.5 98.2L41.3 98.6L45.0 99.8M37.3 119.4L39.4 120.6L42.5 120.5M37.5 113.7L36.8 117.0L37.3 119.4M37.5 113.7L40.8 114.0L43.3 113.9M43.3 113.9L42.3 116.6L42.8 120.4M42.5 120.5L43.0 120.3L42.8 120.4M28.5 93.4L29.4 92.4L30.4 92.1M32.4 78.6L33.7 78.2L35.6 77.3M23.3 80.1L24.1 78.0L25.2 75.8M35.3 65.0L35.5 64.9L35.5 64.9M22.5 124.9L19.9 126.1L18.1 126.3M18.1 126.3L23.2 160.7L26.9 195.2M-1.7 90.9L-0.6 92.9L0.7 96.4M112.0 64.9L110.2 64.5L108.4 63.3M105.1 67.2L106.1 65.1L108.4 63.3M112.9 38.3L113.7 41.9L112.9 46.0M112.9 46.0L114.2 46.1L114.0 47.0M118.4 47.5L119.0 47.5L118.3 47.4M129.3 46.0L127.7 47.9L124.9 50.7M122.8 62.1L123.9 59.6L124.6 57.8M130.2 57.1L127.1 57.0L124.9 57.5M124.9 50.7L125.3 54.4L124.9 57.5M135.3 75.1L134.1 76.5L133.6 76.7M127.7 72.1L128.0 69.9L128.7 67.5M89.1 68.6L92.0 67.8L95.4 65.5M95.4 65.5L96.7 66.4L96.7 66.3M100.8 64.5L102.2 62.2L102.2 60.5M89.1 68.6L87.6 68.1L87.0 66.1M14.3 -3.9L17.1 -1.9L18.2 0.4M136.8 17.8L138.1 15.1L138.4 11.5M126.9 5.3L127.2 6.9L126.6 7.5M126.6 7.5L128.8 8.7L132.4 10.2M133.5 78.8L132.6 81.0L131.2 82.2M131.2 82.2L133.7 85.2L135.5 87.9M133.6 76.7L132.9 77.3L133.5 78.8M128.1 83.5L128.1 82.6L128.7 82.8M128.7 82.8L130.2 82.5L131.2 82.2M37.0 34.7L40.0 35.0L44.5 35.5M39.9 28.1L42.7 29.6L44.2 29.9M43.1 40.7L43.4 38.8L45.2 36.4M78.1 21.2L78.8 21.6L78.1 21.5M71.0 17.3L70.5 20.4L68.6 24.2M68.6 24.2L71.9 26.0L75.2 26.3M24.6 71.3L24.7 69.4L24.1 68.3M18.7 64.1L19.4 64.4L21.4 65.3M16.4 49.4L16.7 47.0L16.9 45.8M25.5 39.2L23.9 40.3L21.2 40.3M20.3 44.4L20.0 42.7L21.2 40.3M66.7 75.9L66.2 76.3L66.3 77.1M65.5 109.9L65.6 113.4L66.5 116.4M65.1 109.7L65.3 109.3L65.5 109.9M63.0 89.6L60.0 89.7L57.7 90.7M60.6 101.9L60.4 99.6L60.1 97.4M67.8 85.1L69.6 83.5L69.9 82.4M74.7 76.7L72.4 80.3L70.0 82.4M82.1 113.6L82.8 113.3L82.6 113.9M84.0 128.9L86.6 126.0L88.5 124.4M89.5 124.2L89.2 124.3L88.5 124.4M94.3 113.8L92.8 110.7L90.7 108.7M89.6 117.6L87.8 115.9L84.7 113.9M55.6 114.0L55.3 118.2L53.4 121.1M110.0 1.4L110.0 0.1L109.6 -1.9M106.2 5.4L104.6 1.5L101.6 -1.6M79.9 66.6L77.0 65.1L73.9 64.0M72.1 72.9L71.8 70.1L70.1 67.9M73.9 64.0L71.6 66.6L70.1 67.9M63.5 71.5L65.4 68.7L67.8 67.5M8.9 7.4L9.4 6.9L9.5 7.3M14.3 -3.9L12.8 -3.0L10.5 -1.0M101.6 -1.6L100.6 -1.2L100.6 -1.5M125.2 79.7L125.7 76.6L124.7 73.7M123.4 73.5L123.4 73.2L124.7 73.7M61.7 17.1L59.7 14.3L56.9 10.7M13.7 34.7L10.8 34.8L8.0 35.8M21.2 40.3L19.1 38.5L17.1 37.5M20.2 32.2L17.8 35.1L16.9 36.7M7.1 29.2L4.4 28.3L3.1 27.6M10.5 27.6L12.5 28.5L13.5 29.9M23.8 19.5L21.8 20.9L18.5 23.7M14.1 123.1L11.3 125.2L9.6 127.6M5.7 127.2L4.4 124.8L2.1 121.0M24.0 122.1L22.2 119.6L20.7 116.7M2.2 114.8L6.2 114.2L11.7 113.6M23.1 91.6L22.4 95.2L21.4 98.0M21.4 98.0L23.1 100.0L23.8 100.9M25.9 111.3L27.5 112.2L28.9 113.6M28.9 113.6L32.5 113.5L35.9 112.3M23.1 102.9L25.1 107.4L25.9 111.1M37.5 113.7L37.2 113.2L35.9 112.3M106.0 7.4L103.9 8.6L100.8 9.6M133.1 25.1L131.6 24.0L131.0 24.0M131.0 24.0L129.9 20.1L128.2 16.8M92.6 7.3L91.6 6.9L92.0 7.9M91.4 16.2L93.4 15.9L96.1 17.0M80.6 66.0L81.1 63.2L81.9 59.6M92.8 3.1L91.9 2.1L89.7 -0.1M77.3 11.2L74.8 9.9L71.0 8.9M54.9 4.8L55.8 6.1L57.2 8.4M61.6 17.3L58.7 19.4L56.7 20.6M56.7 20.6L53.9 17.1L51.3 14.1M82.6 96.1L82.0 97.0L81.6 96.3M81.6 96.3L80.5 96.8L80.3 97.2M80.3 97.2L80.1 100.8L81.2 105.6M82.1 113.6L80.7 110.4L79.3 108.5M73.8 108.7L76.6 108.4L79.3 108.5M67.2 102.6L69.5 103.7L72.3 105.0M68.1 97.8L70.8 97.6L74.6 98.8M77.3 85.5L74.9 88.3L72.8 91.1M13.7 101.4L10.3 99.6L8.4 97.3M17.3 97.3L17.0 95.3L15.8 92.8M6.2 95.7L6.5 97.1L8.4 97.3M22.0 90.1L19.4 91.7L15.8 92.8M131.0 24.0L126.5 24.5L122.5 24.2M125.9 15.8L123.3 18.8L120.3 20.6M120.3 20.6L119.8 20.3L120.3 21.1M81.8 19.2L85.7 20.7L88.3 21.8M81.3 32.7L82.2 33.1L83.5 32.3M85.5 7.9L84.4 6.6L83.7 4.7M77.3 11.2L77.0 10.6L77.4 11.0M92.0 7.9L88.2 7.7L85.5 7.9M83.0 -4.0L81.0 -1.9L80.2 -0.1M93.2 35.0L96.6 35.5L100.0 36.0M91.8 32.1L87.4 32.4L84.1 32.7M83.5 32.3L83.3 32.3L84.1 32.7M94.7 43.0L92.8 41.9L91.4 39.9M89.7 47.8L88.7 46.9L86.3 45.1M100.2 36.8L99.6 36.2L100.0 36.0M80.2 47.6L81.9 48.2L82.9 47.9M71.0 8.9L71.7 7.1L70.9 4.3M78.2 7.5L76.4 5.8L75.3 3.7M64.1 5.3L67.4 4.6L70.2 3.6M65.6 30.5L64.4 31.1L64.3 33.2M72.1 31.8L68.6 30.5L65.6 30.5M69.7 39.4L69.6 39.3L69.9 39.3M56.7 20.6L57.3 21.7L56.3 21.5M47.0 27.8L46.2 23.8L44.8 20.7M44.8 20.7L46.1 19.5L46.5 19.6M44.2 29.9L45.9 28.2L47.0 27.8M51.9 29.1L49.8 32.5L49.2 36.7M114.2 30.0L113.9 32.7L114.6 35.2M112.6 37.9L110.3 38.0L109.5 37.9M113.6 24.2L117.6 22.5L120.3 21.1M74.7 52.1L74.0 52.2L72.6 51.0M85.0 52.0L88.0 52.7L89.4 52.9M76.1 51.6L79.5 52.6L82.2 54.5M94.8 63.5L92.0 61.0L88.5 59.3M95.5 24.0L96.3 21.8L97.2 18.8M104.4 25.7L103.6 26.1L103.0 25.6M106.0 17.1L103.8 19.0L100.2 19.8M106.0 7.4L108.5 7.9L109.5 9.5M124.7 9.6L122.8 10.4L119.4 9.8M115.8 4.9L117.5 7.2L119.4 9.8M113.7 16.5L115.8 17.5L119.0 18.7M119.0 18.7L118.4 15.5L118.7 10.8M109.8 10.5L112.5 11.7L113.6 13.1M62.6 54.0L62.2 54.6L62.5 54.0M56.6 61.0L54.1 60.4L52.8 58.8M65.7 55.1L64.6 55.2L62.6 54.0M67.7 46.5L65.5 47.8L63.2 49.1M55.3 49.4L56.6 51.9L58.6 53.2M55.8 47.7L57.6 47.1L60.7 46.2M55.8 47.7L54.9 44.9L53.1 41.6M53.5 39.9L55.6 38.7L58.6 37.5M46.2 46.6L49.8 44.2L53.1 41.6M66.5 42.3L63.9 41.8L61.9 41.5M49.2 36.7L50.8 38.0L53.5 39.9" stroke="#4a4a4a" stroke-width="0.85" stroke-opacity="0.8"/>
<path d="M1.9 73.5L0.2 72.7L-2.8 72.0M130.0 118.9L130.9 120.7L133.2 121.3M1.9 73.5L4.9 72.4L6.2 71.0M138.0 -2.6L134.8 -3.9L131.3 -6.2M124.0 99.9L121.2 101.2L117.6 101.4M115.6 105.8L116.3 106.2L117.5 108.2M116.2 112.4L116.5 109.8L117.5 108.2M117.6 101.4L116.2 99.8L115.3 96.8M104.6 121.9L105.0 126.1L104.4 128.9M47.8 88.9L47.8 86.8L47.2 86.1M53.7 79.6L52.3 79.6L51.3 79.2M11.7 51.2L13.8 49.8L16.4 49.4M43.1 40.7L40.7 40.3L37.3 40.7M-2.2 53.5L-6.2 55.9L-11.3 58.3M10.4 54.0L8.6 54.4L7.1 54.0M108.7 93.3L106.5 92.4L103.7 91.8M39.9 90.8L39.0 90.0L37.5 89.0M12.7 88.6L9.6 88.7L6.1 89.2M3.6 86.6L5.1 88.1L6.1 89.2M139.3 74.4L137.5 75.5L135.3 75.1M134.6 52.1L134.6 51.2L134.8 51.1M129.3 46.0L131.3 48.0L134.8 51.1M129.9 43.7L129.5 44.4L129.1 44.7M127.2 -4.7L126.0 -0.3L125.9 3.4M138.0 -2.6L138.0 0.3L137.8 4.0M133.2 2.5L135.9 2.8L137.8 4.0M45.9 57.3L48.5 57.7L50.0 56.9M46.2 46.6L45.4 46.6L45.6 46.6M97.3 83.9L96.2 84.0L96.0 82.5M114.7 69.4L115.4 71.0L116.0 73.9M103.0 71.6L103.8 70.8L105.2 69.0M32.7 28.3L34.4 29.5L36.9 30.1M28.1 23.1L29.1 23.8L31.7 24.7M-0.3 4.7L-1.3 6.5L-2.6 8.5M34.4 -3.5L25.5 -41.4L15.9 -79.3M35.8 0.9L37.7 3.1L40.6 4.6M26.4 4.1L26.4 0.8L26.7 -1.5M53.4 67.9L54.0 69.2L53.0 70.8M58.1 75.8L57.8 74.7L58.2 74.6M46.2 66.1L46.9 65.4L46.2 66.1M50.0 56.9L52.1 58.3L52.7 58.7M35.5 64.9L35.2 61.5L34.0 57.1M38.8 67.0L38.0 66.3L36.7 65.0M11.7 67.9L10.8 70.4L10.0 71.2M10.0 71.2L11.6 73.3L12.0 74.6M3.6 38.5L2.9 39.8L3.0 39.8M23.2 49.9L22.5 48.9L23.2 47.4M29.9 50.8L27.9 51.6L26.9 52.5M25.5 39.2L27.0 40.8L28.7 42.1M89.0 100.5L88.8 102.9L87.7 105.6M68.8 126.0L70.4 124.4L70.6 123.6M108.8 111.4L109.5 113.2L111.7 115.5M111.7 115.5L111.6 116.5L110.9 118.3M116.2 112.4L113.9 114.5L111.7 115.5M96.8 102.4L97.3 98.5L98.0 96.0M46.5 97.8L45.3 99.3L45.0 99.8M45.0 99.8L44.6 99.7L45.0 100.0M35.3 125.9L34.6 123.4L35.3 120.9M36.6 127.7L38.5 127.8L40.8 126.3M22.0 90.1L22.3 91.1L23.1 91.6M35.6 75.4L35.8 77.1L35.6 77.3M106.7 58.8L107.8 61.3L108.4 63.3M122.7 62.2L119.8 60.5L115.5 60.4M105.1 67.2L105.1 67.9L105.2 69.0M112.9 38.3L117.0 41.0L120.3 43.0M107.4 45.8L109.9 45.1L112.9 46.0M133.0 60.4L132.6 63.2L132.6 66.3M128.7 67.5L129.9 66.1L132.6 66.3M134.6 52.1L132.3 54.9L130.2 57.1M79.9 66.6L81.0 65.6L80.6 66.0M18.2 0.4L18.8 1.7L18.2 3.2M136.8 17.8L134.5 16.7L132.1 15.1M120.7 88.9L121.6 87.1L121.1 86.4M118.2 81.8L120.0 83.5L121.1 86.4M121.1 86.4L124.7 85.2L128.1 83.5M131.2 93.4L134.0 91.1L135.5 87.9M45.2 36.4L44.7 35.7L44.5 35.5M78.1 21.2L75.7 18.9L74.5 17.4M74.5 17.4L72.3 17.4L71.0 17.3M30.5 64.2L29.4 62.0L28.5 58.4M23.2 47.4L22.2 46.1L20.3 44.4M16.9 45.8L17.9 44.7L20.3 44.4M82.6 76.7L80.6 77.6L79.5 78.6M79.7 69.1L75.9 71.9L72.7 73.2M55.6 114.0L53.8 113.8L53.0 112.7M65.5 109.9L68.8 109.2L73.1 109.4M56.8 95.5L56.7 95.7L57.0 95.4M64.6 85.5L65.9 84.6L67.8 85.1M66.7 75.9L70.1 74.9L72.1 72.9M82.6 113.9L83.0 114.2L84.7 113.9M48.2 128.0L50.8 125.5L54.5 123.5M54.5 123.5L53.5 122.2L53.4 121.1M22.5 124.9L23.9 123.5L24.0 122.1M122.4 39.2L124.2 37.5L126.0 35.8M5.2 -2.6L4.6 0.7L3.8 3.5M3.8 3.5L7.0 5.2L8.9 7.4M-0.3 4.7L1.4 4.0L3.8 3.5M14.0 13.5L15.1 12.8L15.4 13.5M14.0 13.5L11.7 10.4L9.5 7.3M95.4 65.5L95.5 64.6L94.8 63.5M94.8 63.5L96.1 60.5L97.6 57.7M57.2 8.4L60.2 7.5L63.3 7.3M24.7 31.6L22.2 31.6L20.2 32.2M18.5 23.7L18.7 24.3L18.6 24.0M9.6 127.6L7.1 127.1L5.7 127.2M14.1 122.9L13.9 123.0L13.6 122.2M14.5 110.1L12.4 111.6L11.7 113.6M25.9 111.1L29.2 108.3L31.8 104.9M35.9 112.3L36.7 109.3L37.5 106.6M13.6 107.1L13.4 105.3L14.4 104.8M21.7 113.1L23.2 111.8L25.9 111.3M106.2 5.4L106.7 6.1L106.0 7.4M98.8 1.0L100.0 -0.0L100.6 -1.5M100.4 10.0L100.0 9.8L100.8 9.6M100.4 10.0L100.8 10.4L100.3 10.6M81.9 59.6L78.3 59.0L75.1 57.9M105.7 44.1L103.1 44.2L102.0 45.5M106.5 40.1L103.3 39.1L100.2 36.8M83.0 -4.0L86.9 -2.1L89.6 -1.0M74.5 17.4L76.2 15.0L77.3 11.2M54.9 4.8L58.4 1.9L61.1 -0.6M63.3 7.3L63.5 6.9L64.1 5.3M64.1 5.3L62.0 3.1L61.1 -0.6M61.7 17.1L61.0 16.4L61.6 17.3M81.6 96.3L81.1 91.7L80.2 86.5M81.2 105.6L80.2 107.5L79.3 108.5M70.9 90.9L68.0 92.9L66.3 94.9M66.3 94.9L66.8 96.6L68.1 97.8M67.2 102.6L68.3 100.6L68.1 97.8M13.7 101.4L15.1 99.8L17.3 97.3M15.8 92.8L14.3 91.9L14.0 92.0M12.7 88.6L14.1 90.7L14.0 92.0M122.9 30.4L122.2 28.9L122.0 28.7M84.4 27.5L83.3 29.2L83.5 32.3M83.8 13.1L83.4 13.1L83.9 13.1M78.2 7.5L80.4 5.4L83.4 4.6M72.7 36.4L71.0 38.3L69.9 39.3M69.9 39.3L72.4 40.8L74.0 43.4M74.0 43.4L76.2 43.2L78.5 42.0M67.4 59.4L65.5 61.9L64.7 63.7M64.0 63.7L64.2 63.1L64.7 63.7M100.7 34.0L99.7 31.4L99.0 29.6M100.7 34.0L100.7 35.2L100.0 36.0M91.4 39.9L89.3 39.6L86.7 40.5M78.7 41.6L82.0 41.5L86.4 40.9M77.8 0.0L75.5 -2.8L72.2 -6.2M64.3 33.2L62.1 35.3L58.7 37.2M56.3 21.5L58.2 23.6L59.9 26.9M47.0 27.8L48.7 28.2L51.4 28.2M45.2 36.4L47.5 37.1L49.2 36.7M112.9 38.3L113.3 38.4L112.6 37.9M67.4 59.4L66.7 57.5L65.7 55.1M74.0 43.4L72.9 45.9L71.8 49.0M72.6 51.0L72.5 50.0L71.8 49.0M88.4 59.4L88.3 59.3L88.5 59.3M82.9 47.9L84.1 50.7L85.0 52.0M94.1 54.3L92.4 54.1L90.7 54.7M108.9 19.7L107.4 17.8L106.7 17.2M91.7 25.7L93.6 25.4L95.5 24.0M58.6 53.2L55.4 56.2L52.8 58.8M57.1 66.3L57.4 63.5L56.6 61.0M63.2 49.1L61.3 47.9L60.7 46.2" stroke="#2c2c2c" stroke-width="1.1" stroke-opacity="0.9"/>
<path d="M23.0 6.4 L25.3 6.6 L27.5 7.0 L29.6 8.2 L31.7 9.0 L34.6 8.7 L37.5 8.8 L40.3 9.9 L43.2 9.4 L46.2 10.0 L49.0 9.0" stroke="#303030" stroke-width="1.0"/>
<path d="M23.9 24.6 L27.0 24.7 L29.9 23.7 L32.2 24.5 L34.6 23.8 L36.9 24.6" stroke="#303030" stroke-width="1.0"/>
<path d="M71.6 52.3 L73.8 53.3 L76.3 53.7 L78.5 54.9 L81.3 55.3 L83.7 56.7" stroke="#303030" stroke-width="1.0"/>
<path d="M80.2 90.5 L82.2 89.2 L84.4 88.7 L86.9 89.3 L88.9 87.9 L91.2 88.0 L93.3 87.6 L95.5 87.1 L97.6 86.2 L99.9 85.9 L102.2 86.4 L104.5 87.0" stroke="#303030" stroke-width="1.0"/>
<path d="M0.1 19.4 L2.2 18.3 L3.9 16.8 L6.0 15.4 L7.4 13.3" stroke="#303030" stroke-width="1.0"/>
<path d="M0.1 42.8 L2.6 43.2 L5.1 42.9 L7.4 41.9" stroke="#303030" stroke-width="1.0"/>
<path d="M0.1 79.2 L3.1 79.4 L5.7 81.0 L7.9 81.7 L10.2 82.4 L12.6 82.7 L15.2 81.8 L17.8 81.0" stroke="#303030" stroke-width="1.0"/>
<path d="M17.8 35.9 L20.7 37.1 L23.0 39.3 L25.6 42.8" stroke="#303030" stroke-width="1.0"/>
<path d="M16.1 49.7 L18.2 50.1 L20.6 49.9 L22.4 51.8 L24.7 51.5 L27.4 52.0 L29.9 51.1" stroke="#303030" stroke-width="1.0"/>
<path d="M60.3 94.8 L60.5 97.2 L61.2 99.4 L61.2 101.8 L62.9 104.1 L65.5 105.2 L68.5 104.9 L71.6 104.4" stroke="#303030" stroke-width="1.0"/>
<path d="M18.7 107.0 L21.3 105.8 L23.0 103.5" stroke="#303030" stroke-width="1.0"/>
<path d="M108.0 4.7 L107.9 7.1 L109.1 9.3 L109.7 11.6 L109.0 14.3 L108.0 16.8" stroke="#303030" stroke-width="1.0"/>
<path d="M123.6 28.9 L125.8 30.0 L128.2 30.6 L130.5 31.5 L132.5 29.3 L135.2 28.1" stroke="#303030" stroke-width="1.0"/>
<path d="M73.3 74.9 L75.3 76.7 L76.3 79.3 L78.5 81.0" stroke="#303030" stroke-width="1.0"/>
<path d="M35.1 107.0 L37.2 108.2 L38.7 109.9 L39.5 112.2 L38.8 114.7 L38.6 117.4" stroke="#303030" stroke-width="1.0"/>
<path d="M49.0 110.4 L48.8 112.8 L47.8 115.0 L47.3 117.4" stroke="#303030" stroke-width="1.0"/>
<path d="M78.5 117.4 L81.1 116.5 L83.7 115.6 L85.6 117.2 L87.2 119.1" stroke="#303030" stroke-width="1.0"/>
<path d="M65.5 20.3 L66.2 22.8 L68.8 24.0 L69.8 26.3 L72.5 27.5 L75.0 28.9" stroke="#303030" stroke-width="1.0"/>
<path d="M102.8 42.8 L101.1 40.7 L100.7 38.1 L99.3 35.9" stroke="#303030" stroke-width="1.0"/>
<path d="M135.2 13.3 L133.9 15.3 L132.3 17.0 L130.5 18.5" stroke="#303030" stroke-width="1.0"/>
<path d="M7.4 93.1 L8.8 95.7 L11.1 97.5 L12.6 100.0 L11.9 102.3 L10.7 104.5 L10.9 107.0" stroke="#303030" stroke-width="1.0"/>
<path d="M54.2 16.8 L56.5 18.7 L58.3 21.0 L59.4 23.7" stroke="#303030" stroke-width="1.0"/>
<path d="M108.0 68.8 L110.5 69.5 L112.4 71.6 L114.9 72.3 L116.5 75.0 L118.4 77.5" stroke="#303030" stroke-width="1.0"/>
<path d="M90.6 103.5 L89.9 106.0 L88.6 108.3 L87.2 110.4" stroke="#303030" stroke-width="1.0"/>
<path d="M116.6 103.5 L118.7 101.8 L121.2 101.1 L123.6 100.0 L126.1 99.8 L128.1 101.5 L130.5 101.8" stroke="#303030" stroke-width="1.0"/>
<path d="M14.3 2.9 L14.9 5.6 L15.9 7.9 L17.8 9.9" stroke="#303030" stroke-width="1.0"/>
<path d="M69.8 6.4 L70.6 8.9 L71.4 11.4 L73.3 13.3" stroke="#303030" stroke-width="1.0"/>
<path d="M118.4 6.4 L120.5 5.0 L122.9 4.9 L125.3 4.7" stroke="#303030" stroke-width="1.0"/>
<path d="M89.8 -0.2 L90.5 2.2 L92.3 3.9 L94.1 5.5 L95.1 8.1 L95.1 11.0 L96.7 13.3 L98.0 15.8 L99.1 18.3 L101.0 20.3 L102.8 21.8 L104.3 23.4 L105.4 25.5 L106.9 27.1 L108.8 28.5 L109.7 30.7 L111.6 32.0 L112.6 34.2 L114.9 35.0 L118.4 37.6" stroke="#262626" stroke-width="1.35"/>
<circle cx="89.8" cy="-0.2" r="0.6" fill="#262626"/>
<circle cx="95.1" cy="8.1" r="0.5" fill="#262626"/>
<circle cx="99.1" cy="18.3" r="0.5" fill="#262626"/>
<circle cx="105.4" cy="25.5" r="0.6" fill="#262626"/>
<circle cx="111.6" cy="32.0" r="0.9" fill="#262626"/>
<path d="M118.4 37.6 L120.3 40.1 L121.8 42.8 L122.5 45.1 L123.1 47.3 L122.7 49.7 L122.4 52.3 L124.0 54.3 L124.4 56.7 L125.4 58.7 L126.1 60.9 L126.5 63.0 L126.2 65.4 L127.2 67.4 L126.7 69.7 L128.1 71.7 L127.9 74.0 L129.5 76.0 L129.7 78.6 L130.5 81.0 L133.1 81.9 L135.2 83.6" stroke="#262626" stroke-width="1.35"/>
<circle cx="118.4" cy="37.6" r="0.9" fill="#262626"/>
<circle cx="123.1" cy="47.3" r="0.6" fill="#262626"/>
<circle cx="124.4" cy="56.7" r="0.7" fill="#262626"/>
<circle cx="126.2" cy="65.4" r="0.8" fill="#262626"/>
<circle cx="127.9" cy="74.0" r="0.7" fill="#262626"/>
<circle cx="133.1" cy="81.9" r="0.9" fill="#262626"/>
<path d="M39.5 13.3 L38.9 15.7 L38.8 18.1 L37.7 20.3 L37.5 22.9 L36.9 25.5 L38.3 27.6 L38.2 30.1 L38.6 32.4 L39.3 34.7 L38.5 37.1 L39.5 39.3 L39.5 41.8 L40.6 44.0 L41.2 46.3 L43.1 48.5 L43.9 51.3 L44.7 54.1 L44.3 57.2 L42.9 60.2" stroke="#262626" stroke-width="1.35"/>
<circle cx="39.5" cy="13.3" r="0.6" fill="#262626"/>
<circle cx="37.5" cy="22.9" r="0.6" fill="#262626"/>
<circle cx="38.6" cy="32.4" r="0.9" fill="#262626"/>
<circle cx="39.5" cy="41.8" r="0.6" fill="#262626"/>
<circle cx="43.9" cy="51.3" r="0.5" fill="#262626"/>
<path d="M44.7 54.1 L47.2 53.3 L48.8 51.3 L50.7 49.7 L53.3 49.0 L54.7 46.7 L56.8 45.4" stroke="#262626" stroke-width="1.35"/>
<circle cx="44.7" cy="54.1" r="0.9" fill="#262626"/>
<circle cx="53.3" cy="49.0" r="0.8" fill="#262626"/>
<path d="M83.7 20.3 L83.5 22.9 L83.8 25.5 L84.6 28.1 L83.7 30.7 L83.5 33.5 L82.0 35.9 L80.7 38.8 L78.5 41.1 L77.7 43.4 L77.5 45.7 L78.1 48.0" stroke="#262626" stroke-width="1.35"/>
<circle cx="83.7" cy="20.3" r="0.9" fill="#262626"/>
<circle cx="83.7" cy="30.7" r="0.7" fill="#262626"/>
<circle cx="78.5" cy="41.1" r="0.8" fill="#262626"/>
<path d="M69.8 39.3 L68.4 41.5 L67.8 43.9 L67.2 46.3 L65.0 48.6 L63.8 51.5 L62.0 53.5 L60.1 55.3 L58.6 57.6 L57.4 59.4 L57.2 61.8 L55.9 63.6 L54.8 66.1 L55.1 68.8 L56.8 70.8 L59.4 71.4 L61.4 70.2 L63.8 70.6" stroke="#262626" stroke-width="1.35"/>
<circle cx="69.8" cy="39.3" r="0.9" fill="#262626"/>
<circle cx="65.0" cy="48.6" r="0.9" fill="#262626"/>
<circle cx="58.6" cy="57.6" r="0.8" fill="#262626"/>
<circle cx="54.8" cy="66.1" r="0.5" fill="#262626"/>
<circle cx="61.4" cy="70.2" r="0.9" fill="#262626"/>
<path d="M7.4 58.4 L10.0 60.1 L11.7 62.8 L10.5 65.7 L10.9 68.8 L11.5 71.0 L13.3 72.6 L13.5 74.9 L15.4 76.6 L16.2 79.1 L17.8 81.0 L20.1 81.7 L22.3 82.5 L24.7 82.7 L27.6 84.3 L30.8 84.4 L32.6 86.8 L33.4 89.6 L34.7 92.5 L34.3 95.7" stroke="#262626" stroke-width="1.35"/>
<circle cx="7.4" cy="58.4" r="0.9" fill="#262626"/>
<circle cx="10.9" cy="68.8" r="0.5" fill="#262626"/>
<circle cx="15.4" cy="76.6" r="0.9" fill="#262626"/>
<circle cx="22.3" cy="82.5" r="0.6" fill="#262626"/>
<circle cx="32.6" cy="86.8" r="0.9" fill="#262626"/>
<path d="M30.8 84.4 L33.2 85.8 L35.8 86.8 L38.6 87.0 L40.4 85.7 L42.5 84.7 L43.8 82.7 L46.2 81.3 L49.0 81.0 L51.4 82.9 L54.2 84.4 L56.2 86.9 L57.7 89.6 L58.4 92.5 L60.3 94.8" stroke="#262626" stroke-width="1.35"/>
<circle cx="30.8" cy="84.4" r="0.8" fill="#262626"/>
<circle cx="40.4" cy="85.7" r="0.7" fill="#262626"/>
<circle cx="49.0" cy="81.0" r="0.7" fill="#262626"/>
<circle cx="57.7" cy="89.6" r="0.5" fill="#262626"/>
<path d="M121.8 82.7 L122.4 85.1 L121.1 87.3 L121.0 89.6 L119.0 90.8 L116.6 91.4 L114.9 93.1 L112.5 94.1 L110.6 96.0 L108.0 96.6 L105.5 98.1 L102.8 99.2 L100.2 100.0 L100.0 102.4 L100.7 104.7 L101.0 107.0 L102.7 108.8 L102.8 111.3" stroke="#262626" stroke-width="1.35"/>
<circle cx="121.8" cy="82.7" r="0.9" fill="#262626"/>
<circle cx="119.0" cy="90.8" r="0.9" fill="#262626"/>
<circle cx="110.6" cy="96.0" r="0.5" fill="#262626"/>
<circle cx="100.2" cy="100.0" r="0.7" fill="#262626"/>
<circle cx="102.7" cy="108.8" r="0.7" fill="#262626"/>
<path d="M96.7 53.2 L95.9 56.1 L96.5 59.0 L95.8 61.9 L95.9 64.1 L95.0 66.2 L93.7 68.2 L94.1 70.6 L92.9 72.8 L91.1 74.5 L88.9 75.8 L87.0 77.3 L85.4 79.2 L83.6 81.2 L83.1 83.8 L82.0 86.2 L81.2 88.4 L80.2 90.5" stroke="#262626" stroke-width="1.35"/>
<circle cx="96.7" cy="53.2" r="0.9" fill="#262626"/>
<circle cx="95.9" cy="64.1" r="0.8" fill="#262626"/>
<circle cx="92.9" cy="72.8" r="0.5" fill="#262626"/>
<circle cx="85.4" cy="79.2" r="0.9" fill="#262626"/>
<circle cx="81.2" cy="88.4" r="0.6" fill="#262626"/>
</g>
<rect x="95.50" y="115.60" width="34.00" height="4.40" fill="#ff0000" stroke="none" stroke-width="1.0"/>
</svg>
<svg x="1091.2" y="54.0" width="135.3" height="124.0" viewBox="0 0 135.3 124.0" overflow="hidden">
<rect x="0" y="0" width="135.3" height="124.0" fill="#c5c5c5"/>
<g fill="none" stroke="#e4e4e4" stroke-width="3.2" filter="url(#sblur2)">
<path d="M38.4 -0.2C44.2 -0.6 66.9 -1.0 72.2 -0.2C77.6 0.6 71.5 3.0 70.5 4.7C69.5 6.3 67.7 8.6 66.2 9.9C64.6 11.2 62.5 11.5 61.0 12.5C59.4 13.5 58.1 14.5 56.6 15.9C55.2 17.4 53.7 19.6 52.3 21.1C50.8 22.7 49.2 24.7 47.9 25.1C46.6 25.6 45.6 24.8 44.5 23.7C43.3 22.6 42.0 20.4 41.0 18.5C40.0 16.7 39.1 14.5 38.4 12.5C37.7 10.4 37.1 8.1 37.0 6.4C36.9 4.7 37.5 3.2 37.7 2.1C37.9 1.0 32.7 0.2 38.4 -0.2Z"/>
<path d="M81.2 -0.2C90.3 -0.6 126.5 -5.8 135.5 -0.2C144.6 5.4 136.4 28.0 135.5 33.3C134.6 38.6 132.6 32.3 130.3 31.5C128.0 30.8 124.2 29.9 121.6 28.9C119.0 28.0 117.0 26.5 114.7 25.8C112.4 25.1 110.4 24.8 107.8 24.6C105.2 24.4 101.8 24.9 99.1 24.6C96.4 24.3 93.3 23.9 91.3 22.9C89.3 21.9 88.1 20.3 87.0 18.5C85.8 16.8 85.2 14.5 84.4 12.5C83.5 10.4 82.3 8.1 81.8 6.4C81.2 4.7 81.0 3.2 80.9 2.1C80.8 1.0 72.1 0.2 81.2 -0.2Z"/>
<path d="M107.8 48.4C109.8 47.5 112.4 47.6 114.7 48.0C117.0 48.4 119.9 49.3 121.6 50.6C123.4 51.9 124.6 53.6 125.1 55.8C125.6 58.0 125.2 61.2 124.8 63.6C124.3 66.1 123.1 68.2 122.5 70.6C121.9 72.9 121.2 75.0 121.3 77.5C121.4 79.9 122.1 82.7 123.0 85.3C123.9 87.9 125.5 90.6 126.8 93.1C128.2 95.6 130.0 97.7 131.2 100.0C132.4 102.3 133.5 104.8 134.1 107.0C134.8 109.1 135.7 112.3 135.2 113.0C134.7 113.8 132.8 111.7 131.2 111.3C129.5 110.9 127.3 110.9 125.1 110.4C122.9 110.0 120.8 109.3 118.2 108.7C115.6 108.1 112.1 107.5 109.5 107.0C106.9 106.4 104.7 106.0 102.6 105.2C100.4 104.5 97.9 103.8 96.5 102.6C95.0 101.5 94.5 100.2 93.9 98.3C93.3 96.4 93.5 93.7 93.0 91.4C92.6 89.0 91.8 86.7 91.3 84.4C90.8 82.1 90.1 79.5 90.1 77.5C90.1 75.5 90.4 74.0 91.3 72.3C92.2 70.6 94.3 69.1 95.6 67.1C96.9 65.1 97.9 62.5 99.1 60.2C100.3 57.8 101.1 55.2 102.6 53.2C104.0 51.3 105.7 49.2 107.8 48.4Z"/>
<path d="M-0.1 92.2C1.1 90.6 4.5 91.8 7.2 91.4C9.9 90.9 13.0 90.3 15.9 89.6C18.8 88.9 21.9 87.9 24.5 87.0C27.1 86.2 29.2 85.0 31.5 84.4C33.8 83.8 36.2 83.4 38.4 83.6C40.6 83.7 43.0 84.4 44.5 85.3C45.9 86.2 46.8 87.5 47.1 88.8C47.4 90.1 45.9 91.5 46.2 93.1C46.5 94.7 47.8 96.6 48.8 98.3C49.8 100.0 51.3 101.8 52.3 103.5C53.3 105.2 54.7 107.0 54.9 108.7C55.0 110.4 54.2 112.3 53.1 113.9C52.1 115.5 50.0 117.1 48.8 118.2C47.7 119.4 47.1 120.7 46.2 120.8C45.3 121.0 44.9 120.3 43.6 119.1C42.3 117.9 40.1 115.6 38.4 113.9C36.7 112.2 34.7 109.7 33.2 108.7C31.8 107.7 30.8 107.4 29.7 107.8C28.7 108.3 27.9 110.0 27.1 111.3C26.4 112.6 26.4 114.6 25.4 115.6C24.4 116.6 22.5 116.6 21.1 117.4C19.6 118.1 17.9 118.9 16.7 120.0C15.6 121.1 16.9 123.3 14.1 124.0C11.3 124.6 2.3 126.2 -0.1 124.0C-2.4 121.7 -0.7 113.5 -0.1 110.4C0.6 107.4 3.7 107.1 3.7 105.6C3.7 104.1 0.6 103.6 -0.1 101.4C-0.7 99.2 -1.3 93.9 -0.1 92.2Z"/>
<path d="M60.1 104.4C61.2 103.7 63.6 103.4 65.3 103.8C67.0 104.3 69.2 105.9 70.5 107.0C71.8 108.1 73.1 109.4 73.1 110.4C73.1 111.4 71.8 112.5 70.5 113.0C69.2 113.6 66.9 114.2 65.3 113.9C63.7 113.6 62.0 112.3 61.0 111.3C59.9 110.3 59.0 109.0 58.9 107.8C58.7 106.7 59.0 105.0 60.1 104.4Z"/>
<path d="M61.0 120.8C62.1 119.9 64.1 118.9 66.2 118.2C68.2 117.6 71.1 117.2 73.1 117.0C75.1 116.9 77.4 116.9 78.3 117.4C79.2 117.9 79.1 119.1 78.6 120.0C78.2 120.8 76.9 121.9 75.7 122.6C74.5 123.2 74.1 123.7 71.4 124.0C68.6 124.2 61.0 124.5 59.2 124.0C57.5 123.4 59.8 121.8 61.0 120.8Z"/>
<path d="M46.2 124.0C45.3 123.7 47.5 122.2 48.8 122.2C50.1 122.2 54.4 123.7 54.0 124.0C53.6 124.2 47.1 124.2 46.2 124.0Z"/>
<path d="M118.2 124.0C117.4 123.7 120.3 122.6 121.6 122.6C122.9 122.6 126.5 123.7 126.0 124.0C125.4 124.2 118.9 124.2 118.2 124.0Z"/>
<path d="M-0.1 15.9C0.3 14.6 1.5 16.8 2.0 17.7C2.5 18.5 3.0 20.0 2.9 21.1C2.7 22.3 1.6 23.9 1.1 24.6C0.6 25.3 0.1 26.9 -0.1 25.5C-0.3 24.0 -0.4 17.2 -0.1 15.9Z"/>
<path d="M-0.1 74.0C0.3 73.2 1.6 74.3 2.0 74.9C2.4 75.5 2.7 76.6 2.3 77.5C2.0 78.4 0.3 80.7 -0.1 80.1C-0.5 79.5 -0.4 74.9 -0.1 74.0Z"/>
<path d="M13.3 35.0C14.0 33.8 15.1 32.4 16.7 32.1C18.3 31.7 21.5 31.8 22.8 32.8C24.1 33.7 24.6 36.0 24.5 37.6C24.5 39.2 23.9 41.5 22.5 42.5C21.0 43.5 17.5 44.2 15.9 43.7C14.2 43.2 12.8 40.8 12.4 39.3C12.0 37.9 12.5 36.2 13.3 35.0Z"/>
<path d="M38.4 65.4C38.5 64.0 39.7 61.6 41.0 60.2C42.3 58.7 44.8 57.0 46.2 56.7C47.7 56.3 49.4 57.1 49.7 58.1C50.0 59.1 48.8 61.1 47.9 62.8C47.1 64.4 45.7 67.0 44.5 68.0C43.2 68.9 41.5 68.9 40.5 68.5C39.5 68.0 38.3 66.7 38.4 65.4Z"/>
<path d="M65.3 71.8C66.3 70.8 70.9 71.1 73.1 71.4C75.3 71.7 77.7 72.4 78.3 73.7C78.9 74.9 77.9 77.9 76.6 78.9C75.3 79.9 72.1 79.8 70.5 79.6C68.9 79.3 67.9 78.8 67.0 77.5C66.2 76.2 64.3 72.8 65.3 71.8Z"/>
<ellipse cx="25.1" cy="12.5" rx="2.4" ry="2.6" transform="rotate(0 25.1 12.5)" stroke-width="2.4"/>
<ellipse cx="29.4" cy="23.4" rx="4.2" ry="2.1" transform="rotate(-10 29.4 23.4)" stroke-width="2.4"/>
<ellipse cx="14.1" cy="27.2" rx="1.7" ry="2.4" transform="rotate(-30 14.1 27.2)" stroke-width="2.4"/>
<ellipse cx="44.5" cy="29.8" rx="4.3" ry="1.9" transform="rotate(10 44.5 29.8)" stroke-width="2.4"/>
<ellipse cx="34.9" cy="41.9" rx="1.7" ry="1.7" transform="rotate(0 34.9 41.9)" stroke-width="2.4"/>
<ellipse cx="5.8" cy="54.1" rx="1.4" ry="1.4" transform="rotate(0 5.8 54.1)" stroke-width="2.4"/>
<ellipse cx="15.5" cy="57.9" rx="2.8" ry="2.3" transform="rotate(0 15.5 57.9)" stroke-width="2.4"/>
<ellipse cx="21.9" cy="72.3" rx="3.1" ry="2.1" transform="rotate(-35 21.9 72.3)" stroke-width="2.4"/>
<ellipse cx="44.0" cy="77.1" rx="1.7" ry="5.2" transform="rotate(-20 44.0 77.1)" stroke-width="2.4"/>
<ellipse cx="50.5" cy="74.9" rx="1.7" ry="1.7" transform="rotate(0 50.5 74.9)" stroke-width="2.4"/>
<ellipse cx="58.9" cy="75.2" rx="1.6" ry="1.6" transform="rotate(0 58.9 75.2)" stroke-width="2.4"/>
<ellipse cx="56.3" cy="38.1" rx="2.4" ry="2.1" transform="rotate(-30 56.3 38.1)" stroke-width="2.4"/>
<ellipse cx="50.2" cy="45.1" rx="1.7" ry="3.5" transform="rotate(-15 50.2 45.1)" stroke-width="2.4"/>
<ellipse cx="61.3" cy="29.8" rx="1.4" ry="1.7" transform="rotate(0 61.3 29.8)" stroke-width="2.4"/>
<ellipse cx="70.1" cy="22.9" rx="1.4" ry="1.4" transform="rotate(0 70.1 22.9)" stroke-width="2.4"/>
<ellipse cx="67.0" cy="52.9" rx="3.5" ry="6.6" transform="rotate(-10 67.0 52.9)" stroke-width="2.4"/>
<ellipse cx="78.3" cy="36.2" rx="3.5" ry="2.8" transform="rotate(20 78.3 36.2)" stroke-width="2.4"/>
<ellipse cx="84.9" cy="47.7" rx="1.9" ry="1.9" transform="rotate(0 84.9 47.7)" stroke-width="2.4"/>
<ellipse cx="80.4" cy="81.3" rx="1.4" ry="2.1" transform="rotate(-20 80.4 81.3)" stroke-width="2.4"/>
<ellipse cx="67.4" cy="86.7" rx="3.1" ry="3.5" transform="rotate(0 67.4 86.7)" stroke-width="2.4"/>
<ellipse cx="110.0" cy="44.2" rx="1.4" ry="1.4" transform="rotate(0 110.0 44.2)" stroke-width="2.4"/>
<ellipse cx="117.0" cy="41.4" rx="1.4" ry="1.4" transform="rotate(0 117.0 41.4)" stroke-width="2.4"/>
<ellipse cx="129.4" cy="76.6" rx="1.4" ry="1.4" transform="rotate(0 129.4 76.6)" stroke-width="2.4"/>
<ellipse cx="81.8" cy="113.9" rx="1.4" ry="1.4" transform="rotate(0 81.8 113.9)" stroke-width="2.4"/>
<ellipse cx="111.2" cy="114.8" rx="3.5" ry="1.7" transform="rotate(0 111.2 114.8)" stroke-width="2.4"/>
</g>
<g fill="#2c2c2c" stroke="#2c2c2c" stroke-width="0.6" filter="url(#sblur)">
<path d="M38.4 -0.2C44.2 -0.6 66.9 -1.0 72.2 -0.2C77.6 0.6 71.5 3.0 70.5 4.7C69.5 6.3 67.7 8.6 66.2 9.9C64.6 11.2 62.5 11.5 61.0 12.5C59.4 13.5 58.1 14.5 56.6 15.9C55.2 17.4 53.7 19.6 52.3 21.1C50.8 22.7 49.2 24.7 47.9 25.1C46.6 25.6 45.6 24.8 44.5 23.7C43.3 22.6 42.0 20.4 41.0 18.5C40.0 16.7 39.1 14.5 38.4 12.5C37.7 10.4 37.1 8.1 37.0 6.4C36.9 4.7 37.5 3.2 37.7 2.1C37.9 1.0 32.7 0.2 38.4 -0.2Z"/>
<path d="M81.2 -0.2C90.3 -0.6 126.5 -5.8 135.5 -0.2C144.6 5.4 136.4 28.0 135.5 33.3C134.6 38.6 132.6 32.3 130.3 31.5C128.0 30.8 124.2 29.9 121.6 28.9C119.0 28.0 117.0 26.5 114.7 25.8C112.4 25.1 110.4 24.8 107.8 24.6C105.2 24.4 101.8 24.9 99.1 24.6C96.4 24.3 93.3 23.9 91.3 22.9C89.3 21.9 88.1 20.3 87.0 18.5C85.8 16.8 85.2 14.5 84.4 12.5C83.5 10.4 82.3 8.1 81.8 6.4C81.2 4.7 81.0 3.2 80.9 2.1C80.8 1.0 72.1 0.2 81.2 -0.2Z"/>
<path d="M107.8 48.4C109.8 47.5 112.4 47.6 114.7 48.0C117.0 48.4 119.9 49.3 121.6 50.6C123.4 51.9 124.6 53.6 125.1 55.8C125.6 58.0 125.2 61.2 124.8 63.6C124.3 66.1 123.1 68.2 122.5 70.6C121.9 72.9 121.2 75.0 121.3 77.5C121.4 79.9 122.1 82.7 123.0 85.3C123.9 87.9 125.5 90.6 126.8 93.1C128.2 95.6 130.0 97.7 131.2 100.0C132.4 102.3 133.5 104.8 134.1 107.0C134.8 109.1 135.7 112.3 135.2 113.0C134.7 113.8 132.8 111.7 131.2 111.3C129.5 110.9 127.3 110.9 125.1 110.4C122.9 110.0 120.8 109.3 118.2 108.7C115.6 108.1 112.1 107.5 109.5 107.0C106.9 106.4 104.7 106.0 102.6 105.2C100.4 104.5 97.9 103.8 96.5 102.6C95.0 101.5 94.5 100.2 93.9 98.3C93.3 96.4 93.5 93.7 93.0 91.4C92.6 89.0 91.8 86.7 91.3 84.4C90.8 82.1 90.1 79.5 90.1 77.5C90.1 75.5 90.4 74.0 91.3 72.3C92.2 70.6 94.3 69.1 95.6 67.1C96.9 65.1 97.9 62.5 99.1 60.2C100.3 57.8 101.1 55.2 102.6 53.2C104.0 51.3 105.7 49.2 107.8 48.4Z"/>
<path d="M-0.1 92.2C1.1 90.6 4.5 91.8 7.2 91.4C9.9 90.9 13.0 90.3 15.9 89.6C18.8 88.9 21.9 87.9 24.5 87.0C27.1 86.2 29.2 85.0 31.5 84.4C33.8 83.8 36.2 83.4 38.4 83.6C40.6 83.7 43.0 84.4 44.5 85.3C45.9 86.2 46.8 87.5 47.1 88.8C47.4 90.1 45.9 91.5 46.2 93.1C46.5 94.7 47.8 96.6 48.8 98.3C49.8 100.0 51.3 101.8 52.3 103.5C53.3 105.2 54.7 107.0 54.9 108.7C55.0 110.4 54.2 112.3 53.1 113.9C52.1 115.5 50.0 117.1 48.8 118.2C47.7 119.4 47.1 120.7 46.2 120.8C45.3 121.0 44.9 120.3 43.6 119.1C42.3 117.9 40.1 115.6 38.4 113.9C36.7 112.2 34.7 109.7 33.2 108.7C31.8 107.7 30.8 107.4 29.7 107.8C28.7 108.3 27.9 110.0 27.1 111.3C26.4 112.6 26.4 114.6 25.4 115.6C24.4 116.6 22.5 116.6 21.1 117.4C19.6 118.1 17.9 118.9 16.7 120.0C15.6 121.1 16.9 123.3 14.1 124.0C11.3 124.6 2.3 126.2 -0.1 124.0C-2.4 121.7 -0.7 113.5 -0.1 110.4C0.6 107.4 3.7 107.1 3.7 105.6C3.7 104.1 0.6 103.6 -0.1 101.4C-0.7 99.2 -1.3 93.9 -0.1 92.2Z"/>
<path d="M60.1 104.4C61.2 103.7 63.6 103.4 65.3 103.8C67.0 104.3 69.2 105.9 70.5 107.0C71.8 108.1 73.1 109.4 73.1 110.4C73.1 111.4 71.8 112.5 70.5 113.0C69.2 113.6 66.9 114.2 65.3 113.9C63.7 113.6 62.0 112.3 61.0 111.3C59.9 110.3 59.0 109.0 58.9 107.8C58.7 106.7 59.0 105.0 60.1 104.4Z"/>
<path d="M61.0 120.8C62.1 119.9 64.1 118.9 66.2 118.2C68.2 117.6 71.1 117.2 73.1 117.0C75.1 116.9 77.4 116.9 78.3 117.4C79.2 117.9 79.1 119.1 78.6 120.0C78.2 120.8 76.9 121.9 75.7 122.6C74.5 123.2 74.1 123.7 71.4 124.0C68.6 124.2 61.0 124.5 59.2 124.0C57.5 123.4 59.8 121.8 61.0 120.8Z"/>
<path d="M46.2 124.0C45.3 123.7 47.5 122.2 48.8 122.2C50.1 122.2 54.4 123.7 54.0 124.0C53.6 124.2 47.1 124.2 46.2 124.0Z"/>
<path d="M118.2 124.0C117.4 123.7 120.3 122.6 121.6 122.6C122.9 122.6 126.5 123.7 126.0 124.0C125.4 124.2 118.9 124.2 118.2 124.0Z"/>
<path d="M-0.1 15.9C0.3 14.6 1.5 16.8 2.0 17.7C2.5 18.5 3.0 20.0 2.9 21.1C2.7 22.3 1.6 23.9 1.1 24.6C0.6 25.3 0.1 26.9 -0.1 25.5C-0.3 24.0 -0.4 17.2 -0.1 15.9Z"/>
<path d="M-0.1 74.0C0.3 73.2 1.6 74.3 2.0 74.9C2.4 75.5 2.7 76.6 2.3 77.5C2.0 78.4 0.3 80.7 -0.1 80.1C-0.5 79.5 -0.4 74.9 -0.1 74.0Z"/>
<path d="M13.3 35.0C14.0 33.8 15.1 32.4 16.7 32.1C18.3 31.7 21.5 31.8 22.8 32.8C24.1 33.7 24.6 36.0 24.5 37.6C24.5 39.2 23.9 41.5 22.5 42.5C21.0 43.5 17.5 44.2 15.9 43.7C14.2 43.2 12.8 40.8 12.4 39.3C12.0 37.9 12.5 36.2 13.3 35.0Z"/>
<path d="M38.4 65.4C38.5 64.0 39.7 61.6 41.0 60.2C42.3 58.7 44.8 57.0 46.2 56.7C47.7 56.3 49.4 57.1 49.7 58.1C50.0 59.1 48.8 61.1 47.9 62.8C47.1 64.4 45.7 67.0 44.5 68.0C43.2 68.9 41.5 68.9 40.5 68.5C39.5 68.0 38.3 66.7 38.4 65.4Z"/>
<path d="M65.3 71.8C66.3 70.8 70.9 71.1 73.1 71.4C75.3 71.7 77.7 72.4 78.3 73.7C78.9 74.9 77.9 77.9 76.6 78.9C75.3 79.9 72.1 79.8 70.5 79.6C68.9 79.3 67.9 78.8 67.0 77.5C66.2 76.2 64.3 72.8 65.3 71.8Z"/>
<ellipse cx="25.1" cy="12.5" rx="2.4" ry="2.6" transform="rotate(0 25.1 12.5)" fill="#1e1e1e" stroke="none"/>
<ellipse cx="29.4" cy="23.4" rx="4.2" ry="2.1" transform="rotate(-10 29.4 23.4)" fill="#1e1e1e" stroke="none"/>
<ellipse cx="14.1" cy="27.2" rx="1.7" ry="2.4" transform="rotate(-30 14.1 27.2)" fill="#1e1e1e" stroke="none"/>
<ellipse cx="28.5" cy="35.9" rx="1.0" ry="1.0" transform="rotate(0 28.5 35.9)" fill="#1e1e1e" stroke="none"/>
<ellipse cx="6.3" cy="32.1" rx="0.9" ry="0.9" transform="rotate(0 6.3 32.1)" fill="#1e1e1e" stroke="none"/>
<ellipse cx="3.4" cy="6.4" rx="0.9" ry="0.9" transform="rotate(0 3.4 6.4)" fill="#1e1e1e" stroke="none"/>
<ellipse cx="18.5" cy="6.4" rx="0.5" ry="0.5" transform="rotate(0 18.5 6.4)" fill="#1e1e1e" stroke="none"/>
<ellipse cx="44.5" cy="29.8" rx="4.3" ry="1.9" transform="rotate(10 44.5 29.8)" fill="#1e1e1e" stroke="none"/>
<ellipse cx="34.9" cy="41.9" rx="1.7" ry="1.7" transform="rotate(0 34.9 41.9)" fill="#1e1e1e" stroke="none"/>
<ellipse cx="32.7" cy="48.9" rx="0.7" ry="0.7" transform="rotate(0 32.7 48.9)" fill="#1e1e1e" stroke="none"/>
<ellipse cx="37.0" cy="49.7" rx="0.7" ry="0.7" transform="rotate(0 37.0 49.7)" fill="#1e1e1e" stroke="none"/>
<ellipse cx="5.8" cy="54.1" rx="1.4" ry="1.4" transform="rotate(0 5.8 54.1)" fill="#1e1e1e" stroke="none"/>
<ellipse cx="15.5" cy="57.9" rx="2.8" ry="2.3" transform="rotate(0 15.5 57.9)" fill="#1e1e1e" stroke="none"/>
<ellipse cx="26.8" cy="57.9" rx="1.0" ry="1.0" transform="rotate(0 26.8 57.9)" fill="#1e1e1e" stroke="none"/>
<ellipse cx="21.9" cy="72.3" rx="3.1" ry="2.1" transform="rotate(-35 21.9 72.3)" fill="#1e1e1e" stroke="none"/>
<ellipse cx="36.7" cy="60.2" rx="1.0" ry="1.0" transform="rotate(0 36.7 60.2)" fill="#1e1e1e" stroke="none"/>
<ellipse cx="36.3" cy="70.2" rx="0.9" ry="0.9" transform="rotate(0 36.3 70.2)" fill="#1e1e1e" stroke="none"/>
<ellipse cx="30.6" cy="75.8" rx="0.7" ry="0.7" transform="rotate(0 30.6 75.8)" fill="#1e1e1e" stroke="none"/>
<ellipse cx="44.0" cy="77.1" rx="1.7" ry="5.2" transform="rotate(-20 44.0 77.1)" fill="#1e1e1e" stroke="none"/>
<ellipse cx="50.0" cy="87.4" rx="1.0" ry="3.1" transform="rotate(-25 50.0 87.4)" fill="#1e1e1e" stroke="none"/>
<ellipse cx="50.5" cy="74.9" rx="1.7" ry="1.7" transform="rotate(0 50.5 74.9)" fill="#1e1e1e" stroke="none"/>
<ellipse cx="58.9" cy="75.2" rx="1.6" ry="1.6" transform="rotate(0 58.9 75.2)" fill="#1e1e1e" stroke="none"/>
<ellipse cx="59.2" cy="80.4" rx="0.7" ry="0.7" transform="rotate(0 59.2 80.4)" fill="#1e1e1e" stroke="none"/>
<ellipse cx="63.6" cy="81.0" rx="0.7" ry="0.7" transform="rotate(0 63.6 81.0)" fill="#1e1e1e" stroke="none"/>
<ellipse cx="56.3" cy="38.1" rx="2.4" ry="2.1" transform="rotate(-30 56.3 38.1)" fill="#1e1e1e" stroke="none"/>
<ellipse cx="50.2" cy="45.1" rx="1.7" ry="3.5" transform="rotate(-15 50.2 45.1)" fill="#1e1e1e" stroke="none"/>
<ellipse cx="61.3" cy="29.8" rx="1.4" ry="1.7" transform="rotate(0 61.3 29.8)" fill="#1e1e1e" stroke="none"/>
<ellipse cx="57.5" cy="26.9" rx="0.5" ry="0.5" transform="rotate(0 57.5 26.9)" fill="#1e1e1e" stroke="none"/>
<ellipse cx="70.1" cy="22.9" rx="1.4" ry="1.4" transform="rotate(0 70.1 22.9)" fill="#1e1e1e" stroke="none"/>
<ellipse cx="67.0" cy="52.9" rx="3.5" ry="6.6" transform="rotate(-10 67.0 52.9)" fill="#1e1e1e" stroke="none"/>
<ellipse cx="72.2" cy="44.2" rx="1.0" ry="1.0" transform="rotate(0 72.2 44.2)" fill="#1e1e1e" stroke="none"/>
<ellipse cx="78.3" cy="36.2" rx="3.5" ry="2.8" transform="rotate(20 78.3 36.2)" fill="#1e1e1e" stroke="none"/>
<ellipse cx="83.5" cy="41.4" rx="0.9" ry="0.9" transform="rotate(0 83.5 41.4)" fill="#1e1e1e" stroke="none"/>
<ellipse cx="79.7" cy="47.1" rx="0.7" ry="0.7" transform="rotate(0 79.7 47.1)" fill="#1e1e1e" stroke="none"/>
<ellipse cx="84.9" cy="47.7" rx="1.9" ry="1.9" transform="rotate(0 84.9 47.7)" fill="#1e1e1e" stroke="none"/>
<ellipse cx="80.4" cy="81.3" rx="1.4" ry="2.1" transform="rotate(-20 80.4 81.3)" fill="#1e1e1e" stroke="none"/>
<ellipse cx="67.4" cy="86.7" rx="3.1" ry="3.5" transform="rotate(0 67.4 86.7)" fill="#1e1e1e" stroke="none"/>
<ellipse cx="76.9" cy="100.5" rx="1.0" ry="1.0" transform="rotate(0 76.9 100.5)" fill="#1e1e1e" stroke="none"/>
<ellipse cx="110.0" cy="44.2" rx="1.4" ry="1.4" transform="rotate(0 110.0 44.2)" fill="#1e1e1e" stroke="none"/>
<ellipse cx="117.0" cy="41.4" rx="1.4" ry="1.4" transform="rotate(0 117.0 41.4)" fill="#1e1e1e" stroke="none"/>
<ellipse cx="129.4" cy="76.6" rx="1.4" ry="1.4" transform="rotate(0 129.4 76.6)" fill="#1e1e1e" stroke="none"/>
<ellipse cx="52.3" cy="61.5" rx="0.7" ry="0.7" transform="rotate(0 52.3 61.5)" fill="#1e1e1e" stroke="none"/>
<ellipse cx="81.8" cy="113.9" rx="1.4" ry="1.4" transform="rotate(0 81.8 113.9)" fill="#1e1e1e" stroke="none"/>
<ellipse cx="111.2" cy="114.8" rx="3.5" ry="1.7" transform="rotate(0 111.2 114.8)" fill="#1e1e1e" stroke="none"/>
</g>
<rect x="96.80" y="115.70" width="34.00" height="4.40" fill="#ff0000" stroke="none" stroke-width="1.0"/>
</svg>
<svg x="931.0" y="218.0" width="135.0" height="124.5" viewBox="0 0 135.0 124.5" overflow="hidden">
<rect x="0" y="0" width="135.0" height="124.5" fill="#000"/>
<g filter="url(#islands)"><rect x="0" y="0" width="135" height="125" fill="#000"/><path d="M8.2 124.5L8.2 124.8L10.0 124.8L9.5 124.2ZM96.5 124.8L99.8 124.8L98.5 123.5L97.2 123.5ZM0.2 124.5L0.2 124.8L4.0 124.8L3.8 123.8L3.0 123.2L1.8 123.2ZM84.8 124.2L84.0 123.2L83.0 123.0L81.2 123.8L80.5 124.8L84.8 124.8ZM90.8 124.8L94.0 124.8L94.0 123.2L93.5 122.8L92.2 122.8ZM27.2 124.0L27.2 124.8L32.2 124.8L32.5 124.2L32.2 123.2L31.0 122.2L28.2 122.5ZM123.0 124.2L123.0 124.8L129.2 124.8L129.2 124.0L126.5 121.8L125.0 122.0ZM44.0 123.2L44.2 124.8L51.5 124.8L50.8 123.8L50.0 123.5L48.0 121.8L45.5 122.0L44.5 122.5ZM34.0 124.2L34.0 124.8L42.8 124.8L42.8 123.5L41.8 122.2L39.0 121.2L37.0 121.2ZM54.5 124.0L54.5 124.8L65.8 124.8L65.8 123.2L65.0 122.0L63.5 121.5L62.5 121.8L61.5 121.5L60.5 120.8L59.0 121.0L57.2 120.8L56.2 121.2L55.5 122.0ZM117.5 124.2L116.2 121.2L115.0 120.5L111.0 124.8L117.5 124.8ZM132.2 120.2L131.2 121.5L131.2 122.5L132.0 123.2L134.8 124.2L134.8 120.2L133.8 120.0ZM25.2 122.0L23.5 120.2L22.5 120.0L21.5 120.8L20.5 123.0L19.2 124.0L19.2 124.8L25.0 124.8L25.5 123.2ZM0.0 119.2L0.0 122.2L1.2 121.2L1.2 120.0ZM16.2 118.2L15.5 119.2L15.5 122.2L16.2 123.5L18.0 123.8L18.8 123.2L19.8 121.2L20.0 119.0L18.8 118.2ZM13.2 118.0L12.2 118.0L11.2 118.5L10.0 120.0L10.2 122.2L11.2 123.2L12.0 123.5L13.0 123.2L13.8 122.0L14.0 119.2ZM98.5 119.2L98.8 121.2L99.8 122.2L101.8 123.2L105.8 123.0L106.5 122.5L110.8 122.5L111.8 121.8L112.2 120.8L112.0 119.8L111.2 119.2L108.0 118.8L105.8 117.8L103.2 117.2L100.2 117.8L99.2 118.2ZM51.8 116.8L50.5 117.8L50.0 119.2L50.0 120.8L51.2 122.5L52.8 122.8L54.2 121.0L54.8 120.0L54.8 118.8L53.5 117.2ZM26.5 116.2L25.0 117.5L24.8 119.2L26.5 120.8L28.2 120.8L29.0 120.2L29.5 119.0L29.2 117.2L28.0 116.2ZM134.2 116.0L133.8 117.2L134.2 118.0L134.8 118.0L134.8 116.0ZM62.5 116.5L62.0 117.5L62.2 119.5L63.2 120.0L64.8 120.0L66.2 119.0L66.5 117.8L65.8 116.8L64.0 116.0ZM67.2 121.8L68.0 123.0L70.5 123.2L71.5 123.8L72.2 124.8L78.8 124.8L79.0 123.8L82.2 121.0L82.8 120.2L82.8 119.2L81.8 118.0L79.8 117.2L76.0 117.5L72.5 115.5L71.0 115.5L69.0 117.2L68.8 118.5L67.2 120.8ZM48.2 115.8L46.5 115.5L44.5 116.5L43.5 118.0L43.5 120.0L44.0 120.5L47.2 120.2L48.2 119.2L48.8 118.0L48.8 116.5ZM120.5 114.5L119.2 113.8L117.2 113.8L116.5 114.2L115.8 115.8L116.0 118.0L118.0 118.2L120.2 117.2L120.8 116.2ZM86.8 113.8L85.0 115.5L84.5 117.0L84.8 117.8L85.8 118.2L88.5 118.2L89.8 117.2L89.8 116.0L88.2 114.2L87.5 113.8ZM110.8 113.2L109.5 115.2L109.5 116.2L110.2 117.0L113.2 117.5L113.8 117.0L113.5 114.8L112.2 113.5ZM60.0 113.2L59.2 113.2L58.0 114.0L56.2 116.0L56.0 117.5L56.5 118.5L57.5 119.2L59.2 119.5L60.2 118.8L60.8 117.8L61.2 115.0L61.0 114.0ZM16.5 112.5L15.0 114.2L14.8 115.0L15.0 115.8L17.5 116.8L19.0 116.5L19.8 115.5L19.8 113.8L19.2 113.0L18.2 112.5ZM1.8 112.5L1.0 113.0L0.0 114.5L0.0 117.2L2.5 118.2L4.0 117.5L4.5 116.5L4.8 114.5L3.0 112.5ZM24.2 112.5L23.0 112.2L22.0 112.8L21.2 114.0L21.2 116.0L22.0 117.2L23.2 117.2L24.0 116.8L25.5 114.8L25.2 113.5ZM73.5 112.8L73.8 114.0L74.8 114.8L76.8 115.5L78.0 115.0L78.2 113.8L77.8 112.5L77.0 111.8L75.2 111.5ZM133.0 111.5L132.2 111.0L130.5 111.0L129.8 111.5L129.0 113.2L127.8 114.2L126.2 114.8L123.5 114.5L122.8 115.5L122.2 117.2L120.5 119.0L119.2 119.5L118.2 120.5L119.0 123.0L119.8 123.8L120.5 123.8L121.5 123.2L123.8 120.8L124.5 120.5L128.5 120.8L130.8 119.5L131.8 118.2L131.8 117.5L133.2 113.8ZM97.5 114.8L98.5 115.8L99.5 116.0L101.5 115.8L105.5 116.0L107.5 114.0L108.2 111.8L107.8 111.2L105.0 111.8L102.8 111.0L100.5 110.8L98.0 113.0L97.5 113.8ZM83.5 110.8L81.5 111.0L80.0 112.8L80.0 114.5L80.8 115.5L82.5 115.8L84.5 113.8L84.8 112.0ZM37.2 110.0L36.2 110.5L34.8 112.2L34.8 113.5L35.2 115.0L38.0 119.2L41.0 119.5L41.8 118.5L41.8 116.8L40.2 115.0L40.0 114.0L39.0 112.5L38.8 110.8L38.2 110.2ZM113.8 108.2L112.8 108.8L111.8 110.0L113.2 112.0L114.5 112.8L115.2 112.8L116.2 112.0L116.5 111.2L116.2 109.2L115.5 108.2ZM7.5 108.0L6.5 108.2L4.8 109.8L4.8 111.5L5.2 112.2L5.5 114.2L6.2 116.0L3.2 120.5L4.2 122.8L5.8 123.8L7.5 123.5L8.2 122.8L8.8 119.0L9.2 118.0L11.5 115.8L11.5 114.2L9.8 111.8L9.2 109.2L8.2 108.2ZM28.2 107.8L26.5 108.2L25.2 110.0L25.5 111.0L26.5 112.0L27.8 111.8L29.2 110.0L29.0 108.5ZM17.8 108.5L17.5 109.0L17.8 110.2L19.5 111.2L21.2 111.0L22.0 110.0L21.5 108.5L20.8 108.0L19.8 107.8ZM96.5 106.8L95.0 106.5L94.2 107.5L94.0 109.2L92.0 111.2L90.5 111.5L89.8 112.2L89.8 113.5L90.8 115.2L90.8 117.8L89.5 119.0L87.2 119.8L85.5 121.0L85.5 121.8L86.8 123.5L88.0 123.8L90.8 121.5L93.2 120.8L95.8 120.8L96.5 120.0L96.8 119.2L96.5 112.5L97.2 111.0L98.2 110.0L98.2 108.5ZM58.8 106.8L57.2 106.5L54.2 108.5L53.0 108.5L50.5 109.5L49.2 109.5L47.8 110.0L47.0 110.8L47.2 113.0L49.8 115.2L50.8 115.8L52.0 115.5L53.5 115.8L55.2 115.0L57.0 113.0L58.2 112.5L58.8 111.5L59.0 110.2ZM31.8 106.5L30.8 107.2L30.5 111.0L30.0 112.2L29.2 113.0L29.0 114.2L31.0 117.5L31.5 120.2L32.5 121.2L34.0 121.5L35.5 120.2L35.8 118.0L35.5 117.0L33.0 114.2L32.8 113.2L33.5 111.0L34.8 109.2L35.2 107.8L34.2 106.8ZM42.2 105.5L40.8 107.0L40.0 108.5L39.8 110.2L40.5 111.8L40.8 113.2L42.5 114.8L44.2 114.8L45.5 113.5L45.2 111.8L45.5 110.2L43.8 105.8ZM102.5 107.5L102.5 108.8L103.5 109.5L106.0 109.2L107.2 108.8L108.0 108.0L107.8 106.5L107.2 105.8L106.0 105.0L104.2 105.0L103.2 106.0ZM92.2 106.8L91.2 106.0L90.0 105.8L88.8 104.8L87.8 104.8L87.0 105.2L85.2 105.5L83.5 106.2L83.0 107.5L83.2 108.2L84.2 109.2L87.2 111.0L88.0 111.0L89.5 110.0L91.5 109.5L92.2 108.8L92.5 107.8ZM130.2 104.8L129.2 106.2L129.8 108.0L131.0 108.8L133.2 109.2L134.8 110.2L134.8 106.8L131.2 104.5ZM49.2 104.8L47.8 104.5L46.2 105.2L46.2 106.8L47.0 107.8L48.2 107.8L49.8 107.0L50.0 106.0ZM23.2 104.0L22.2 105.2L22.2 106.8L23.0 107.8L24.2 108.0L26.0 106.8L26.2 105.0L24.8 104.0ZM116.0 102.8L115.8 105.5L117.8 108.2L118.5 111.0L119.2 111.8L122.0 112.8L125.2 112.8L125.5 113.0L127.0 112.8L127.5 112.2L128.0 110.8L128.0 109.2L127.5 108.5L124.0 108.2L122.0 107.5L120.5 105.0L120.0 103.2L119.2 102.5L116.8 102.2ZM52.5 102.2L51.5 103.2L51.5 104.5L52.2 106.2L52.8 106.8L53.8 106.8L55.5 105.5L56.0 104.2L54.2 102.5ZM113.0 102.0L111.5 102.5L110.0 104.0L109.5 105.0L109.5 106.0L110.5 107.2L112.5 107.0L113.8 105.5L113.8 103.2ZM20.8 102.2L19.0 102.0L17.0 102.5L16.2 103.2L16.2 105.5L16.8 106.0L19.8 106.0L20.8 105.0L21.0 104.2ZM11.8 101.8L9.2 102.8L8.5 103.5L8.2 105.5L11.0 109.2L12.0 112.2L13.0 113.0L13.8 112.8L15.5 111.0L15.8 109.0L15.5 108.8L15.5 106.8L14.2 104.8L13.8 102.5L13.0 101.8ZM5.2 102.0L4.0 101.8L0.8 104.0L0.0 104.0L0.0 111.0L3.2 109.8L4.0 108.5L6.2 106.5L6.8 104.0ZM32.5 100.8L30.8 102.0L30.5 103.8L31.5 104.5L33.8 104.8L35.0 103.5L35.0 101.8L33.8 100.8ZM81.2 107.5L80.2 106.8L78.0 107.2L75.5 107.0L73.8 104.8L73.5 101.2L72.8 100.5L71.8 100.5L69.5 102.5L67.8 103.0L66.2 105.0L66.0 110.2L64.2 112.2L63.8 113.5L64.2 114.2L65.2 114.8L68.0 115.2L69.2 114.5L72.0 111.0L73.2 110.8L74.5 110.0L79.2 110.5L81.0 109.0ZM125.2 100.2L123.2 100.5L122.2 101.5L121.8 102.8L121.8 105.8L123.2 106.8L126.2 106.2L127.8 104.8L127.8 103.0L127.0 101.5ZM89.2 101.2L89.0 103.2L90.0 104.2L93.2 104.8L94.0 104.5L94.8 103.5L95.0 101.2L93.2 100.0L91.8 99.8L90.2 100.2ZM87.2 100.8L85.8 99.8L82.8 100.2L81.8 101.2L81.8 103.0L83.0 104.2L84.5 104.2L86.2 103.8L87.5 102.5ZM61.8 99.0L60.8 100.2L60.0 104.0L60.2 105.0L61.2 106.5L61.5 110.8L62.5 111.0L64.2 110.0L64.8 109.2L64.8 107.8L64.2 106.2L65.5 103.2L65.5 102.5L64.8 101.0L63.0 99.2ZM106.8 98.5L105.5 99.2L104.8 101.8L106.2 103.2L107.8 103.5L110.0 101.5L110.0 100.2L109.5 99.5ZM23.2 99.2L22.8 100.8L24.5 102.5L26.8 103.2L28.0 103.0L28.5 102.5L28.5 100.8L28.0 99.8L26.5 98.2L25.0 98.2ZM0.0 98.2L0.0 102.2L0.5 102.2L1.8 100.5L1.8 99.5L0.8 98.5ZM48.8 99.8L47.0 98.2L44.2 98.0L41.2 98.5L37.8 102.0L36.8 104.2L36.8 106.2L37.2 106.8L38.5 106.8L40.8 104.8L41.8 104.5L42.8 103.8L44.8 103.8L46.5 102.8L48.8 102.5L49.5 101.8ZM65.5 96.8L65.0 97.2L65.0 98.5L65.5 99.5L67.5 101.2L68.5 101.0L70.0 99.2L69.5 97.5L68.2 96.8ZM50.0 96.2L49.8 97.5L50.8 99.5L51.8 100.5L52.8 101.0L54.8 101.0L56.2 101.8L58.0 101.8L58.5 101.2L59.0 100.0L59.0 98.5L58.2 97.5L57.0 97.0L55.2 96.8L53.2 97.0L51.5 96.2ZM130.0 96.2L129.0 97.2L128.0 99.2L128.5 101.0L130.2 102.2L134.8 103.2L134.8 100.0L134.2 100.0L133.5 99.2L132.8 97.0L131.8 96.0ZM77.0 95.5L75.5 96.8L74.8 98.2L74.8 100.8L75.5 101.8L75.8 105.0L76.2 105.5L78.0 105.5L79.5 104.8L80.0 104.0L80.2 100.0L79.8 98.5L79.8 97.2L79.2 96.2L78.2 95.5ZM19.0 96.0L18.2 95.5L17.2 95.5L15.2 97.8L14.5 99.2L14.8 100.2L17.5 100.5L20.0 99.8L20.5 99.2L20.5 98.0ZM134.8 95.2L134.5 95.5L134.8 96.2ZM28.2 95.8L28.2 97.2L30.0 99.5L35.2 99.2L37.0 99.8L37.8 99.5L38.2 98.8L38.0 97.2L36.0 95.5L31.5 95.8L29.2 95.2ZM87.8 94.2L86.8 96.0L86.8 97.5L87.8 99.0L89.2 99.0L90.5 98.0L90.8 96.0L89.0 94.2ZM83.8 94.0L82.2 94.2L81.2 95.5L81.2 97.0L82.5 98.2L84.8 97.8L85.2 96.8L85.2 95.5L84.8 94.5ZM96.5 93.0L93.2 94.8L92.5 96.5L92.8 97.5L93.2 98.2L95.2 99.8L96.2 102.0L96.5 104.5L98.2 106.0L99.2 106.5L100.5 106.5L101.5 105.5L103.2 102.5L103.0 100.0L102.5 99.0L99.0 96.0L99.0 95.5L97.8 93.5ZM0.0 93.5L0.0 95.2L3.0 98.0L3.8 98.0L5.0 97.2L6.2 95.0L5.8 93.8L3.2 92.8L1.2 92.8ZM44.5 92.5L43.5 93.8L43.5 95.8L44.5 97.0L45.5 97.0L47.2 96.0L47.5 94.5L46.5 92.8ZM100.8 92.8L100.2 93.2L100.2 94.2L102.5 96.5L104.8 97.2L106.0 96.2L106.2 93.8L104.5 91.8L103.0 91.8ZM22.2 91.2L21.2 91.8L20.2 93.0L20.2 94.5L22.2 97.0L23.8 97.0L25.8 95.8L26.5 93.5L26.2 92.8L24.0 91.2ZM12.2 91.2L11.0 91.5L8.5 94.0L8.0 95.5L6.2 98.2L6.0 99.8L6.8 101.0L9.0 101.2L10.5 100.8L13.0 99.2L13.2 97.8L15.0 95.5L15.2 94.0ZM69.2 91.0L68.2 90.0L64.2 90.5L62.0 92.0L59.5 92.8L58.8 93.5L58.8 95.5L59.8 96.8L60.8 97.2L62.5 97.0L65.8 94.8L68.8 94.2L69.5 92.5ZM130.0 89.2L128.5 90.8L128.2 92.2L129.0 93.5L130.0 94.2L131.5 94.2L132.0 93.8L132.0 91.8L131.2 89.8L130.8 89.2ZM83.2 90.2L83.2 91.5L84.5 92.5L86.2 92.5L87.0 91.8L87.0 90.5L85.8 89.2L84.2 89.2ZM29.2 91.0L29.0 91.8L29.2 92.5L31.8 94.0L33.8 94.0L35.0 93.2L37.2 93.2L40.0 96.0L40.8 96.0L41.2 95.5L41.5 94.5L41.2 93.2L40.5 92.5L38.0 91.2L37.0 90.0L35.2 89.8L33.5 89.0L31.5 89.0ZM47.5 89.0L47.2 90.8L47.8 92.0L50.2 94.2L52.2 94.2L54.5 95.5L55.8 95.5L56.8 94.5L57.0 93.8L56.8 92.0L55.8 90.8L53.2 90.0L51.5 90.0L49.0 88.8ZM75.5 87.2L73.2 87.5L71.2 89.0L71.2 94.0L70.8 95.0L70.8 96.0L71.2 97.0L72.0 97.5L73.0 97.2L74.2 96.0L75.8 93.0L75.5 91.0L76.2 88.2ZM61.2 87.0L59.5 87.0L58.0 87.8L57.0 89.0L57.5 90.2L59.0 90.8L61.8 90.0L62.2 89.5L62.2 88.2ZM101.2 85.0L100.0 84.8L99.2 85.2L98.8 86.2L98.2 88.8L98.2 90.0L98.8 91.0L101.0 90.8L103.2 89.2L103.2 87.8L102.8 86.5ZM19.5 86.0L19.8 87.8L21.5 89.2L23.8 90.0L25.5 90.0L26.5 90.5L27.8 90.2L29.2 88.8L29.8 87.8L29.5 86.0L28.8 85.2L26.5 84.5L24.5 84.2L23.5 84.8L20.5 84.8ZM96.0 83.8L94.0 84.0L93.2 84.8L92.8 87.8L91.8 89.2L90.2 90.2L89.2 91.5L89.5 92.5L90.2 93.2L92.0 93.5L94.0 91.8L96.0 91.0L96.0 89.0L96.8 86.5L96.8 84.8ZM66.2 83.5L63.8 84.2L63.0 85.2L63.5 87.2L64.8 88.5L66.0 88.5L67.2 87.5L67.2 85.0ZM50.5 83.8L49.5 85.0L49.8 86.5L51.5 88.0L53.0 88.8L54.2 88.5L55.0 87.5L55.0 86.8L53.8 84.0L53.0 83.5ZM134.2 82.8L133.2 83.5L132.0 87.0L132.8 88.2L133.5 91.0L134.8 92.2L134.8 82.8ZM117.8 82.8L116.5 83.8L115.2 86.5L113.0 89.0L113.2 91.0L115.0 93.0L115.0 93.8L113.5 94.0L112.5 93.5L111.2 93.5L108.8 94.5L108.2 95.8L108.5 96.5L109.8 97.8L113.8 99.8L115.8 99.8L117.0 100.2L120.8 100.2L121.8 99.2L121.8 97.8L121.2 96.8L120.0 95.8L117.0 95.0L116.5 94.5L116.5 94.0L117.0 93.5L120.2 93.8L123.0 96.2L124.2 98.2L124.8 98.5L126.2 98.2L128.0 96.2L128.0 94.8L126.8 92.5L126.5 91.2L127.5 88.8L127.5 87.8L127.2 87.2L126.0 86.5L124.8 86.5L123.2 87.2L121.2 86.8L119.2 83.2L118.5 82.8ZM18.0 83.0L17.5 82.8L14.0 83.0L12.2 84.0L9.5 84.8L7.0 87.0L4.5 87.8L3.2 89.2L3.5 90.8L6.0 92.2L8.2 92.2L10.2 90.5L13.5 90.2L17.2 92.8L18.2 92.5L19.2 90.8L18.2 88.5L18.0 86.8L18.2 83.5ZM42.2 82.0L41.2 82.2L40.0 83.2L38.8 83.2L37.5 84.2L37.0 86.0L37.0 87.8L37.5 89.2L39.8 89.5L42.5 91.0L43.2 91.0L44.5 90.2L46.5 88.0L47.8 85.2L47.2 84.0L46.0 83.0L44.2 82.2ZM33.2 81.0L32.0 82.2L31.2 83.8L31.2 85.8L32.5 87.0L34.2 87.0L35.0 86.2L35.8 84.5L35.8 82.2L35.0 81.2ZM120.8 81.2L120.8 82.5L121.2 83.5L122.8 85.0L127.5 85.2L129.2 86.0L130.2 86.0L131.0 85.2L131.0 83.0L129.2 81.0L128.2 80.5L126.0 80.5L125.0 81.0L121.5 80.8ZM90.8 83.0L90.0 82.2L86.2 80.5L85.0 81.5L84.5 82.8L83.5 83.8L81.5 84.5L79.2 84.8L78.2 85.8L77.5 87.2L77.5 90.5L77.0 91.5L77.0 93.0L78.2 94.0L80.5 93.8L81.5 92.2L81.5 90.5L82.0 88.8L84.0 86.5L86.0 86.5L88.2 88.5L90.0 88.2L90.8 87.2ZM20.0 80.5L19.8 81.8L21.0 82.8L23.5 82.8L24.2 82.0L24.2 80.8L23.5 79.8L21.2 79.8ZM30.5 78.8L29.2 78.8L27.0 79.5L26.2 80.5L26.5 82.2L27.5 83.0L28.5 83.2L29.5 83.0L30.5 82.0L31.0 80.8L31.0 79.2ZM1.8 78.5L0.0 78.5L0.0 90.5L0.5 90.5L1.5 89.5L2.2 88.0L1.2 83.5L2.5 80.5L2.5 79.2ZM112.5 79.8L112.8 81.0L114.8 82.2L116.5 81.8L117.5 80.8L117.5 79.5L116.0 78.2L113.5 78.2ZM11.2 78.2L10.5 78.5L9.0 80.5L9.0 81.8L9.8 82.2L11.8 82.0L12.5 81.0L12.2 79.2ZM46.8 77.8L45.0 79.0L44.8 80.2L45.5 81.0L47.8 81.8L48.5 81.0L48.5 79.0L47.8 77.8ZM83.8 77.8L82.8 77.5L79.2 80.0L77.0 80.0L75.5 79.2L74.2 79.5L71.0 82.0L69.2 82.8L69.0 83.2L69.2 85.8L70.0 86.5L71.2 86.5L72.8 85.8L75.0 85.8L77.0 84.8L78.8 83.0L82.0 82.2L83.0 81.2L84.0 78.8ZM64.8 78.2L63.5 77.2L61.5 77.2L59.8 78.8L57.8 79.5L56.0 81.2L55.5 82.2L55.5 83.5L56.2 85.0L57.0 85.5L58.2 85.5L61.5 84.2L63.0 82.5L65.2 81.0L65.2 79.2ZM109.5 76.5L108.0 76.8L106.8 78.0L104.2 79.5L102.5 79.8L101.5 81.2L101.5 83.0L102.5 84.5L104.2 86.0L104.8 87.2L104.8 88.8L105.2 89.8L107.5 92.0L108.2 92.2L109.8 92.0L110.8 91.2L112.0 87.2L114.0 85.2L114.0 84.2L111.2 81.5L110.8 77.5ZM100.2 78.0L99.2 76.8L97.8 76.0L93.8 76.2L92.8 76.8L92.0 78.0L91.5 79.8L91.5 81.5L92.5 82.2L95.2 82.2L96.2 82.8L98.2 82.2L100.2 79.8ZM7.8 76.0L5.8 76.2L4.8 76.8L4.0 77.8L4.0 81.5L3.0 83.2L3.0 85.0L3.8 85.8L5.5 86.0L6.8 85.5L7.5 84.5L7.2 79.5L8.5 77.2L8.2 76.2ZM14.8 75.8L13.8 77.2L14.2 80.0L15.2 81.0L17.2 80.8L18.0 79.8L17.8 78.2L16.0 76.0ZM85.8 76.0L85.8 77.2L86.8 78.2L88.2 79.0L89.5 79.0L90.0 78.5L90.5 76.5L89.8 75.8L86.5 75.5ZM71.8 75.8L71.0 75.5L69.8 75.8L68.2 76.5L67.0 77.8L67.0 79.2L68.0 80.5L70.0 80.5L71.5 79.8L72.5 78.0L72.5 76.5ZM19.0 75.8L19.0 76.5L19.8 77.5L23.0 77.8L24.0 78.2L27.2 77.5L28.2 76.8L28.2 75.5L26.2 73.5L25.2 73.2L23.2 73.2L19.8 74.8ZM0.0 73.2L0.0 76.2L0.8 75.8L0.8 74.2ZM100.5 73.5L100.5 74.8L102.0 77.0L104.2 77.2L105.2 76.5L104.8 75.0L103.0 73.5L102.0 73.0L101.0 73.0ZM134.8 72.2L133.8 72.5L132.5 73.8L131.5 77.2L130.5 78.5L130.8 80.0L131.2 80.8L132.2 81.2L134.8 80.2ZM117.5 76.5L119.0 78.8L119.8 79.2L120.5 79.0L126.5 79.2L127.2 79.0L129.8 76.2L130.2 74.8L129.5 73.5L128.0 72.8L125.8 72.8L125.5 73.0L122.5 72.8L119.5 71.5L118.8 71.8L117.8 73.2ZM28.5 70.8L28.2 72.2L28.8 73.2L30.2 74.8L31.8 74.5L32.8 72.8L32.8 71.8L31.2 70.8L30.0 70.5ZM104.8 71.0L104.5 71.5L104.8 72.8L107.0 74.5L108.8 74.5L110.2 71.2L109.0 70.0L107.2 70.0ZM60.5 69.8L59.0 71.0L59.0 72.2L60.5 74.2L61.5 74.5L62.0 74.2L62.5 73.2L62.8 71.5L61.5 70.0ZM73.5 70.0L71.8 71.5L71.5 72.8L74.5 76.2L77.5 78.0L78.2 78.0L79.8 77.2L81.0 76.0L81.2 74.8L80.0 73.2L79.5 71.8L78.8 70.8L76.5 69.2ZM47.8 69.0L47.0 68.2L44.0 68.0L42.5 69.0L41.2 69.0L40.2 69.5L39.2 69.2L36.5 69.5L35.0 71.2L34.8 73.2L32.8 76.5L32.8 78.0L33.2 78.5L34.2 78.8L36.0 77.8L38.0 75.8L39.0 75.8L39.2 77.0L37.0 79.5L37.0 80.8L38.8 81.8L41.2 81.5L42.5 80.2L43.2 78.5L46.0 75.8L46.2 74.8L45.2 74.0L43.0 73.5L41.0 75.2L40.0 75.5L39.8 74.2L41.0 73.0L43.5 72.0L44.8 72.2L47.0 72.0L48.0 70.8ZM129.8 67.5L129.0 68.2L128.8 70.5L130.0 71.8L131.2 72.0L132.2 71.2L132.5 70.5L132.2 69.5L131.0 67.8ZM115.5 66.2L113.5 66.2L111.8 68.2L110.8 70.5L111.0 75.2L111.8 76.0L113.0 76.5L113.8 76.5L115.2 75.8L116.0 72.8L117.2 71.5L117.8 70.2L117.5 68.0L116.5 66.8ZM133.5 66.2L133.5 68.2L134.0 69.2L134.8 69.8L134.8 65.5ZM11.2 65.2L10.8 66.0L11.0 68.8L12.2 69.5L14.0 69.5L14.5 69.0L14.5 67.5L13.0 65.8ZM28.2 67.2L28.8 68.2L31.5 69.5L34.0 69.5L35.0 68.5L35.0 67.2L34.2 66.2L31.8 64.8L29.8 65.5L28.8 66.2ZM95.8 63.2L94.5 62.2L92.8 62.5L92.0 64.0L92.0 68.5L91.8 68.8L90.5 67.8L90.2 65.2L89.5 64.2L86.5 64.5L85.8 65.2L84.5 68.0L81.5 70.8L81.5 72.0L82.2 73.2L83.8 74.5L86.5 74.2L88.2 73.5L90.5 73.8L91.2 73.0L91.5 69.8L92.0 69.5L93.0 70.5L93.0 73.0L93.2 73.8L94.2 74.8L96.2 75.0L97.5 74.2L98.5 73.2L98.8 72.2L98.5 71.5L96.8 69.5L96.0 67.5L96.2 64.5ZM43.5 62.5L43.5 64.2L44.0 65.2L44.8 66.0L46.0 66.2L47.8 67.5L50.0 68.5L50.8 68.5L52.2 66.8L52.5 66.0L52.2 64.2L51.2 62.5L50.5 62.0L48.2 62.0L48.0 62.2L44.0 62.0ZM20.8 62.0L20.5 63.2L21.2 64.5L22.2 65.0L25.2 64.8L25.2 62.8L24.5 61.2L23.5 60.8L22.5 60.8ZM0.0 62.2L0.0 70.2L0.8 70.2L1.8 69.5L2.5 69.8L2.2 73.2L3.0 74.5L4.5 74.8L6.0 74.2L9.5 74.5L11.0 75.2L12.2 75.2L13.5 74.2L13.2 72.2L12.2 71.2L11.0 70.8L9.5 69.0L8.2 65.5L7.0 65.2L4.0 67.2L3.2 67.0L3.5 66.2L5.0 65.2L6.8 63.2L6.5 61.8L5.5 60.8L3.5 60.8ZM130.5 59.8L129.5 60.2L129.2 62.2L129.8 64.0L130.5 64.8L131.8 64.8L134.8 62.5L134.8 61.5L132.5 60.2ZM116.8 59.5L115.5 60.0L114.0 62.5L114.0 63.5L114.8 64.2L116.8 64.0L118.0 62.2L118.0 61.2ZM75.0 65.8L72.8 64.5L70.8 62.5L69.8 60.5L68.5 60.0L67.0 60.5L66.0 61.5L65.8 62.2L66.2 64.0L68.2 66.2L68.5 67.5L68.2 68.2L67.5 68.0L65.0 65.2L64.5 63.2L64.5 60.2L63.5 59.2L62.8 59.0L60.8 59.2L59.2 60.0L58.8 61.0L58.8 62.0L59.5 64.0L59.0 64.5L58.0 63.5L57.8 62.2L56.8 61.2L54.0 61.5L53.5 62.2L53.5 63.5L54.0 64.2L53.8 67.8L52.8 69.0L50.0 70.5L48.8 72.0L48.2 73.2L48.2 74.5L48.8 75.8L50.5 78.2L50.5 79.8L51.0 81.0L52.2 81.8L53.5 81.5L54.8 80.2L57.2 79.0L58.8 77.5L59.0 75.8L58.2 74.0L57.2 72.8L57.2 70.5L59.0 68.0L59.8 66.2L60.8 66.5L63.8 69.8L64.5 71.5L64.2 75.2L64.8 75.8L66.0 75.8L67.8 74.8L69.2 73.2L69.5 72.0L68.5 69.0L68.8 68.8L71.8 69.0L73.2 68.5L75.0 67.0L75.2 66.5ZM97.2 60.0L97.0 61.5L97.5 62.5L100.8 63.5L101.8 63.2L102.2 62.8L102.2 60.8L101.2 59.0L99.2 58.8L98.0 59.2ZM106.8 58.2L105.2 58.5L104.0 59.5L104.0 61.0L104.5 62.0L105.2 62.5L106.2 62.2L108.0 60.5L107.8 59.0ZM114.0 58.0L113.2 57.5L110.5 57.8L109.5 58.8L108.2 62.5L106.5 63.8L105.8 63.8L104.2 64.5L102.8 64.5L101.8 65.0L99.2 65.0L98.0 65.5L97.5 66.8L97.8 68.5L99.8 70.2L100.8 70.8L101.8 70.8L103.8 69.0L106.5 68.2L108.2 68.5L109.8 68.2L112.0 65.2L112.8 63.0L112.8 61.5L114.0 59.2ZM7.5 57.0L7.0 59.0L8.2 62.0L9.5 63.0L13.0 63.2L16.2 67.0L16.2 69.2L15.0 71.5L15.0 72.5L15.8 73.8L17.0 74.0L19.8 72.5L23.8 71.8L25.8 70.5L26.2 69.8L26.2 68.0L24.5 67.0L20.5 66.5L19.2 65.0L19.0 63.0L18.2 61.8L16.8 61.0L15.8 60.0L13.2 59.8L10.8 57.2L9.5 56.5L8.2 56.5ZM31.2 56.0L30.2 57.0L30.2 58.0L32.2 60.2L32.8 62.2L35.5 65.5L36.0 66.8L36.5 67.2L41.2 68.0L42.2 67.0L42.2 65.5L40.5 61.5L38.0 60.5L36.0 58.0L35.2 57.8L32.8 55.8ZM127.8 55.2L125.5 55.2L122.8 57.8L121.5 58.5L120.5 58.5L119.5 59.2L119.8 60.8L119.5 63.2L118.2 65.5L118.2 66.5L119.2 67.8L120.2 70.0L121.8 70.5L123.2 71.5L124.5 71.5L126.5 70.0L127.0 68.0L128.0 66.5L127.5 61.0L128.5 58.8L128.8 57.0L128.5 56.0ZM24.5 55.0L23.8 55.8L23.5 57.0L24.0 58.8L26.8 61.5L27.0 62.5L27.8 63.5L29.2 63.8L30.2 63.2L30.8 62.5L30.8 61.8L29.0 59.5L28.8 58.0L28.2 57.2L26.5 55.8ZM0.0 55.0L0.0 59.8L2.5 59.5L4.8 58.5L5.0 57.2L4.0 56.2ZM41.2 54.5L39.8 54.8L38.2 56.8L38.2 58.2L40.8 60.2L42.0 59.5L43.2 56.8L43.0 55.2ZM130.8 54.0L130.0 55.2L130.5 57.5L132.2 58.5L134.8 58.8L134.8 54.8L132.5 54.0ZM11.8 54.2L12.0 55.8L15.8 59.5L17.2 59.5L18.8 60.2L20.0 60.2L21.0 59.8L22.0 58.0L21.8 55.8L21.2 54.8L18.8 53.8L15.5 54.0L14.2 53.5L13.0 53.5ZM119.8 52.8L118.8 54.0L118.5 56.2L119.5 56.8L121.2 56.5L122.2 55.8L122.5 55.0L122.2 54.2L121.2 53.0ZM105.5 52.2L104.0 52.2L103.0 53.0L102.2 55.2L102.2 56.2L102.8 57.0L104.8 57.0L106.2 56.2L106.8 54.8L106.5 53.8ZM108.5 52.0L108.0 53.0L108.0 54.2L108.5 55.8L109.2 56.2L111.8 56.0L112.5 55.0L112.5 54.0L111.8 52.5L110.8 51.8ZM114.8 51.0L113.8 51.8L113.5 52.5L113.8 53.8L115.0 55.8L116.2 55.8L117.5 54.0L117.8 52.0L116.5 51.0ZM2.5 52.0L2.2 53.5L2.8 54.0L5.0 55.0L6.5 55.0L7.0 54.5L6.8 52.8L5.5 51.0L4.8 50.8ZM44.8 55.0L44.5 59.2L45.0 60.0L46.2 60.5L48.5 60.5L51.8 59.8L55.0 59.8L56.0 59.2L56.5 58.5L56.2 57.0L55.5 56.2L53.2 55.8L51.5 54.0L50.8 51.5L49.8 50.5L48.0 50.5ZM52.8 50.2L53.0 53.5L56.8 55.5L58.8 58.2L63.0 57.8L66.8 58.8L68.5 58.0L69.2 57.0L69.5 54.8L68.2 53.0L67.5 52.5L66.2 52.5L64.2 53.8L61.2 54.0L58.5 51.5L56.0 50.0L53.8 49.5ZM126.5 49.2L125.0 49.2L123.2 50.2L122.8 51.0L123.0 52.2L124.2 53.5L125.8 53.5L127.8 52.5L128.0 51.2ZM100.2 53.8L99.2 53.0L96.5 52.2L94.2 49.2L93.8 49.0L92.0 49.2L90.8 49.8L89.5 51.0L89.5 52.2L90.0 53.2L90.0 55.8L87.8 58.2L84.2 58.0L83.2 57.5L82.2 57.5L80.0 58.5L79.8 60.2L81.5 62.0L84.5 63.2L85.8 63.2L86.8 62.5L92.8 61.8L95.0 60.5L100.0 56.5ZM134.8 48.8L134.0 49.0L132.8 50.5L132.8 51.5L134.0 52.5L134.8 52.5ZM44.8 50.5L43.8 49.5L42.0 48.8L36.5 49.0L34.5 49.5L33.5 50.2L33.0 51.5L33.2 53.5L34.5 54.8L35.8 55.5L36.5 55.5L39.8 53.0L40.5 52.8L43.8 53.0L44.8 51.8ZM62.0 48.2L61.0 49.2L60.5 51.0L61.0 51.8L62.0 52.2L63.2 52.2L65.0 51.0L65.2 49.8L64.2 48.2ZM7.5 48.0L7.0 48.5L7.0 49.2L8.2 52.0L9.2 52.8L10.5 52.5L11.2 51.2L11.2 49.5L9.5 48.2ZM20.0 49.5L20.0 51.2L20.5 52.2L21.8 53.0L26.0 53.2L28.2 55.0L29.8 55.0L31.2 53.2L31.0 51.2L30.5 51.0L29.2 51.0L28.0 51.5L25.8 51.2L24.2 50.0L23.5 48.5L22.5 47.8L21.0 48.2ZM96.8 48.5L96.8 49.5L98.0 50.5L99.8 51.0L101.2 50.5L101.2 49.2L100.0 47.5L99.0 47.2L97.8 47.5ZM114.2 47.2L114.2 48.5L115.2 49.2L117.2 49.2L117.8 48.5L117.8 47.2L117.0 46.2L115.8 46.2ZM25.2 45.2L25.0 47.0L26.0 48.8L26.8 49.2L28.5 49.0L29.0 48.0L28.2 46.0L27.2 45.0ZM67.0 45.2L66.2 46.5L66.2 48.2L67.5 51.0L69.0 52.0L70.0 53.2L70.2 55.0L71.0 56.0L70.8 58.2L71.0 59.0L72.0 60.0L72.8 62.0L73.5 62.8L75.5 63.5L76.8 64.8L78.0 67.5L79.0 68.5L80.0 68.8L82.0 67.8L83.2 66.5L83.5 65.8L83.0 64.8L79.8 63.5L78.0 61.0L78.2 57.8L76.8 55.5L76.2 54.0L76.2 52.5L77.0 52.2L77.8 52.8L79.0 56.0L79.5 56.2L85.0 56.5L86.2 57.0L87.8 56.5L88.8 55.5L88.8 54.0L87.8 52.0L86.2 51.0L82.0 50.8L80.2 49.0L79.5 47.5L78.8 46.8L77.5 46.2L75.0 46.2L74.5 46.8L75.0 48.5L76.5 50.5L76.5 51.5L75.5 51.8L73.8 50.2L72.8 48.5L72.5 47.0L72.0 46.5L68.5 44.8ZM91.2 44.8L89.8 44.5L88.0 45.5L87.8 47.5L88.5 48.5L89.8 48.5L91.8 47.2L92.0 46.2ZM120.8 43.5L120.0 44.2L119.8 45.2L119.8 48.0L120.5 49.2L121.8 49.2L123.0 48.5L124.2 47.2L124.5 46.5L123.2 44.5L121.8 43.5ZM30.5 42.5L29.8 43.0L30.0 46.0L31.8 48.5L33.0 48.8L34.0 48.2L34.8 47.0L34.5 44.8L32.5 43.0L31.5 42.5ZM19.5 41.8L17.8 42.0L16.8 42.5L16.2 43.2L16.2 45.5L17.0 46.5L18.2 47.2L19.5 47.2L21.8 45.0L21.8 44.0L21.2 43.0L20.2 42.0ZM94.2 41.0L93.5 41.2L92.5 42.2L92.5 43.0L93.8 45.2L95.2 46.2L96.8 44.8L97.0 42.2L96.0 41.0ZM4.0 42.2L3.8 43.2L5.5 45.2L7.5 46.2L9.8 46.2L11.5 47.2L13.0 49.0L14.0 51.2L15.8 52.0L17.5 52.0L18.0 51.5L18.2 50.8L18.0 49.5L15.5 47.5L13.5 43.8L11.5 43.2L9.5 42.2L8.0 41.0L6.2 41.0ZM0.5 40.2L0.0 40.2L0.0 51.2L3.5 49.2L4.5 47.8L4.2 46.8L2.8 44.8L2.8 44.0L2.0 43.0L1.2 41.0ZM125.0 40.2L124.2 41.5L124.2 43.0L126.0 45.0L126.5 46.8L129.2 49.5L130.5 49.5L132.0 48.5L133.2 46.5L133.2 45.8L132.8 45.2L130.8 44.5L129.0 42.8L128.8 41.2L128.2 40.5L126.5 39.8ZM116.5 40.0L115.0 39.8L113.2 41.2L112.5 42.5L112.5 43.2L113.0 44.0L115.0 44.2L117.5 43.0L117.8 41.8ZM69.5 39.5L68.5 40.8L68.2 42.5L70.5 44.2L72.8 44.5L73.5 43.5L73.2 41.5L71.2 39.8ZM26.0 38.2L25.0 38.5L23.0 40.5L22.8 42.0L23.5 43.0L24.2 43.2L26.5 43.0L27.8 42.2L28.0 41.0L27.2 39.2ZM10.5 37.5L9.8 38.8L10.5 40.8L11.5 41.5L13.5 41.2L13.8 39.5L13.0 38.0L12.2 37.2ZM106.5 36.2L105.2 36.8L104.0 36.8L103.0 37.8L102.8 40.5L104.2 42.0L105.8 42.8L106.2 43.5L102.5 46.2L102.5 47.8L103.0 48.8L104.5 50.2L106.0 50.8L107.2 50.8L108.5 50.0L111.2 49.2L111.8 48.2L111.8 46.0L110.5 44.5L108.5 44.0L107.8 43.2L108.8 42.2L110.2 41.8L111.5 40.2L111.5 39.0L111.0 38.2L107.8 36.2ZM72.5 37.0L72.2 38.0L74.8 40.8L75.8 43.5L76.5 44.0L79.5 44.8L81.2 46.8L81.8 48.8L83.2 49.8L84.5 49.8L85.8 48.8L86.0 46.5L85.8 45.5L84.8 44.5L84.0 44.2L83.0 43.0L83.8 42.5L84.5 42.5L86.2 43.5L87.8 43.5L89.2 42.8L90.2 41.8L90.2 40.8L88.2 38.5L87.2 38.0L84.8 38.0L82.5 36.8L81.0 36.5L80.0 37.0L79.5 38.0L79.8 38.8L82.5 41.8L82.2 42.8L81.2 42.8L78.8 40.2L78.0 38.0L76.2 36.2L75.2 35.8L74.0 35.8ZM16.2 35.5L15.0 36.2L15.0 37.8L15.8 39.5L16.5 40.2L17.5 40.5L18.5 39.8L18.8 39.0L18.5 36.8L17.8 35.8ZM123.5 35.0L121.8 35.0L120.2 35.8L118.2 37.5L118.2 39.0L120.0 41.2L121.8 41.5L124.0 39.2L124.5 38.2L124.5 36.5ZM7.5 36.5L5.5 34.8L4.5 35.0L3.0 37.2L2.8 39.2L3.0 39.5L5.2 39.5L7.0 38.8L7.8 37.8ZM20.5 34.2L19.8 35.0L20.0 37.2L20.8 38.5L22.0 38.5L24.0 36.5L24.0 35.5L22.5 34.5ZM127.2 34.0L126.0 35.5L126.0 37.0L127.0 38.0L128.2 38.5L130.2 40.5L130.8 42.0L132.0 43.0L133.5 42.8L134.8 41.0L134.8 34.0L134.2 34.2L131.8 34.2L129.8 33.8ZM110.8 34.5L111.0 35.5L112.5 37.0L114.2 37.8L115.0 37.8L115.8 37.0L115.2 34.8L114.2 33.8L112.0 33.8ZM27.8 34.8L27.5 35.5L27.8 36.8L28.8 39.0L31.2 41.2L32.8 41.5L34.2 42.5L35.8 42.5L39.0 39.5L39.5 39.8L39.2 41.5L37.0 43.8L36.5 44.8L36.5 46.2L37.0 47.2L37.8 47.8L40.0 47.0L43.5 47.0L45.0 47.5L47.5 49.0L48.8 49.0L49.0 48.8L51.2 48.8L53.0 47.2L53.2 44.5L51.5 43.2L49.0 42.8L47.2 41.0L46.5 38.8L45.2 37.8L43.8 37.5L39.5 39.5L39.0 38.0L38.0 36.5L37.8 34.8L36.8 33.5L35.5 33.8L33.8 35.0L31.0 35.0L28.8 34.2ZM55.8 31.8L53.0 33.0L52.8 35.0L54.2 36.5L56.0 37.2L57.0 36.5L57.2 33.8L56.8 32.2ZM62.8 31.8L61.0 31.5L60.0 31.8L59.2 32.5L59.0 36.0L56.5 39.5L56.2 40.8L55.0 43.2L55.2 47.0L56.8 48.5L58.5 48.8L60.8 47.0L62.5 46.2L64.5 46.0L67.0 43.0L67.5 38.2L66.2 36.8L65.0 33.8L64.0 32.5ZM39.8 31.8L39.5 34.5L40.0 36.0L40.8 36.8L42.0 36.8L43.0 36.2L45.8 36.2L47.2 37.5L49.2 40.8L51.5 41.5L54.2 41.2L54.5 39.2L52.0 37.0L50.8 33.5L49.8 32.2L45.8 32.5L41.5 31.0L40.8 31.0ZM82.5 32.8L82.5 34.0L83.5 35.0L89.5 37.0L91.8 39.2L92.5 39.5L95.0 39.0L97.2 39.8L98.2 41.2L99.0 44.2L99.5 45.0L101.0 45.2L102.2 44.5L102.8 43.8L102.8 42.8L101.5 39.8L101.2 36.2L99.2 36.0L97.8 36.5L95.5 35.8L94.5 34.8L94.5 34.0L93.8 32.5L91.8 30.8L89.8 30.5L86.8 32.5L83.0 32.2ZM95.2 31.8L95.2 33.0L97.0 34.5L99.0 34.2L100.0 33.8L100.2 33.2L100.2 31.2L99.0 30.2L97.2 30.0L96.2 30.5ZM14.8 31.0L14.2 32.0L14.2 33.0L14.8 33.5L18.0 33.8L19.0 33.0L19.0 31.5L17.5 30.2L16.2 30.0ZM77.0 30.0L76.0 30.5L75.2 31.5L75.5 33.5L77.0 35.0L78.0 35.5L79.0 35.5L80.2 34.5L80.8 33.5L80.8 30.5L79.8 29.8ZM32.2 29.2L31.2 30.2L30.8 32.2L31.8 33.2L33.2 33.2L34.5 32.5L35.2 31.2L35.0 30.5L34.0 29.5ZM114.0 29.0L112.8 28.0L111.8 28.2L110.0 30.2L110.0 31.2L110.5 31.8L113.0 31.8L114.0 31.2L114.5 30.5ZM0.0 29.0L0.0 37.5L1.2 37.0L3.5 34.2L5.2 33.2L7.0 33.5L9.0 35.0L10.8 35.0L11.8 34.5L12.0 34.0L12.0 32.8L10.5 31.2L5.0 28.0L2.8 28.0ZM123.0 27.0L121.5 28.5L122.0 30.2L123.5 33.0L125.5 33.2L126.5 32.8L127.2 31.8L127.2 30.5L126.8 29.0L125.5 27.2ZM48.8 26.8L47.2 26.5L46.5 26.8L45.5 27.8L45.0 29.5L45.8 30.5L48.0 30.5L49.0 29.8L49.2 27.5ZM90.8 27.2L90.8 28.2L93.0 29.8L94.8 29.5L95.2 28.5L94.8 26.8L93.8 26.0L92.2 26.2ZM52.2 25.8L51.2 26.2L50.8 27.5L51.0 29.8L51.8 30.8L53.2 30.8L55.5 29.2L55.8 27.8L55.0 26.5ZM115.5 24.5L114.5 25.0L114.2 26.0L115.5 28.2L116.0 33.0L117.2 34.8L118.5 35.0L120.2 34.2L121.2 33.0L121.2 32.0L120.8 31.0L121.0 29.0L120.8 25.5L120.2 25.0L118.8 24.5ZM71.8 24.5L70.8 25.0L70.5 26.8L71.2 28.5L72.0 29.2L73.2 29.2L73.8 28.8L73.8 25.8L73.2 24.8ZM57.8 26.0L57.5 26.8L58.5 29.2L61.8 29.5L64.8 30.8L65.5 31.8L65.8 33.0L66.8 34.8L68.5 36.5L70.0 36.8L72.2 35.0L73.0 33.5L72.8 32.0L69.2 29.5L68.5 26.8L67.0 25.0L64.8 24.5L63.2 25.5L58.8 25.2ZM76.2 23.0L75.2 24.2L75.2 25.2L76.0 27.5L77.0 28.2L78.2 28.2L79.8 27.8L80.8 26.2L80.5 25.2L78.2 23.5ZM33.8 23.0L32.8 22.5L30.0 22.8L26.5 26.2L23.5 26.8L20.8 30.5L21.0 32.0L22.5 33.0L27.2 33.5L28.0 32.8L28.2 31.8L29.8 29.2L33.0 26.8L34.0 25.0ZM0.8 22.8L0.8 24.2L1.2 25.8L2.2 26.5L4.8 26.5L6.0 27.2L8.5 27.5L10.5 25.5L10.5 23.8L9.2 22.8L7.8 22.8L5.8 22.0L1.8 22.0ZM93.0 22.0L92.2 21.5L91.0 21.5L89.8 22.0L89.0 22.8L89.2 24.8L91.2 25.0L92.8 24.2L93.2 23.8ZM126.0 20.8L124.0 23.0L123.5 24.8L128.0 28.0L129.0 29.8L129.0 31.5L129.5 32.0L131.0 32.8L134.8 32.5L134.8 23.2L132.2 23.8L130.0 22.8L127.2 20.8ZM12.5 21.2L12.5 23.8L12.8 24.0L12.0 27.0L11.0 28.2L11.0 29.0L11.8 30.0L12.5 30.2L13.5 30.0L14.8 28.8L16.2 28.2L19.5 28.5L20.2 28.0L21.0 26.8L21.0 25.5L19.8 23.0L19.0 22.2L17.2 21.5L16.0 20.5L13.8 20.5ZM36.2 20.0L35.5 20.8L35.5 25.8L35.0 27.0L35.5 28.5L37.5 30.0L40.5 30.0L42.2 29.2L43.2 28.2L43.8 27.2L43.8 26.2L42.5 24.2L42.0 22.8L40.0 22.0L38.5 20.5L37.5 20.0ZM103.8 20.2L102.5 19.8L100.8 20.0L100.0 21.8L96.2 25.0L96.5 26.8L97.2 27.8L99.0 28.0L99.8 27.2L100.2 25.2L101.0 24.0L102.0 23.0L103.5 22.5L104.2 21.8L104.2 20.8ZM26.0 19.0L24.5 19.2L22.5 21.2L22.0 22.2L22.0 23.2L22.5 24.2L23.5 25.0L26.2 24.5L27.2 24.0L27.8 23.2L27.8 21.2ZM112.5 18.8L111.8 18.8L110.8 19.5L108.8 22.0L106.5 22.5L105.2 23.8L103.0 24.8L102.0 26.0L102.2 27.5L102.0 30.2L102.5 31.2L102.2 33.2L103.0 35.0L106.8 35.2L107.8 34.2L108.0 29.0L111.5 25.8L112.8 25.0L113.5 23.0L113.5 21.0L113.0 19.2ZM79.8 18.8L78.8 20.2L78.8 21.8L80.5 23.5L80.5 24.0L81.5 25.5L81.5 27.5L82.2 29.0L84.8 30.2L87.5 30.0L88.5 28.5L88.5 26.5L87.2 24.5L87.0 23.0L86.2 22.2L84.2 22.0L83.0 21.2L81.0 18.8L80.5 18.5ZM134.8 18.0L132.5 18.0L131.0 18.5L130.2 19.8L130.2 21.2L131.0 22.0L134.8 21.2ZM116.5 17.0L115.2 18.2L115.2 20.8L116.0 22.2L118.0 22.5L119.0 21.0L118.5 18.2L117.8 17.2ZM74.0 17.2L73.5 18.0L73.5 18.8L74.2 20.2L75.0 21.0L76.0 21.0L77.2 19.5L77.5 17.8L76.5 17.0ZM85.2 16.0L84.2 16.2L83.2 17.2L83.2 18.5L83.8 19.5L84.5 20.0L85.5 20.0L86.2 19.2L86.2 17.5L85.8 16.2ZM7.5 15.8L7.0 16.2L6.8 17.5L7.0 20.2L7.2 20.5L9.2 20.5L10.0 20.0L9.8 18.0L8.2 15.8ZM4.5 16.0L3.8 15.5L3.0 15.8L0.0 17.8L0.0 20.0L2.5 20.2L4.0 19.8L4.5 18.8ZM21.2 15.5L20.5 15.2L19.0 15.5L18.0 16.0L17.2 17.0L17.2 18.8L18.0 20.0L19.0 20.8L20.5 20.5L21.8 19.5L22.8 18.0L22.8 17.0ZM62.2 12.2L61.8 13.0L61.8 14.2L62.2 15.0L62.8 17.5L60.8 20.0L58.5 21.5L58.5 22.5L60.2 23.2L63.5 23.0L64.5 23.5L69.5 23.2L71.5 22.5L72.2 21.5L71.8 19.2L71.0 18.2L69.0 17.2L68.2 17.2L67.0 16.2L66.2 14.8L65.8 12.0L65.0 11.5L63.5 11.5ZM33.5 11.2L32.8 12.2L32.8 14.0L33.2 15.2L35.2 16.2L36.8 16.0L37.8 14.5L37.2 12.5L35.8 11.2ZM134.8 11.0L132.8 11.8L129.8 14.5L128.0 15.2L126.5 15.2L122.8 12.8L121.8 12.5L119.5 12.8L118.8 15.2L119.0 16.8L120.0 18.2L120.2 20.0L121.0 21.8L122.5 22.0L124.2 20.5L126.2 20.2L128.2 19.5L130.0 17.5L131.5 16.5L134.8 16.0ZM88.2 14.8L88.8 16.2L88.5 17.8L88.8 19.2L89.2 19.8L91.0 19.8L93.2 18.0L93.8 18.0L94.2 18.8L94.2 20.8L95.5 22.5L97.5 22.2L98.2 21.2L98.8 19.2L99.8 18.2L100.8 17.8L103.2 17.8L104.2 16.8L104.0 15.0L103.0 14.0L101.2 13.0L98.5 13.2L96.8 12.8L95.5 13.8L95.0 15.8L94.0 16.0L93.8 14.5L94.2 12.0L94.0 11.2L93.2 10.8L90.2 11.5ZM57.2 10.8L55.5 10.8L54.8 11.2L53.2 14.2L51.0 16.8L51.0 18.8L50.5 19.8L50.5 22.5L51.0 23.5L52.5 24.2L55.8 24.0L56.2 23.2L56.5 21.5L57.2 19.8L58.2 19.0L60.5 18.2L61.5 17.0L61.5 16.2L60.8 15.2L60.0 13.2ZM51.8 10.8L50.0 10.8L48.8 11.8L48.5 13.5L49.0 14.2L49.5 14.5L50.5 14.2L52.0 13.0L52.2 11.5ZM44.2 10.8L42.2 13.8L41.0 14.2L39.0 15.8L38.5 16.5L38.5 17.2L39.0 18.2L42.2 21.0L42.5 22.0L43.2 22.2L45.5 25.0L47.2 25.0L49.0 23.8L49.0 22.5L49.5 21.2L49.2 17.0L47.2 14.2L46.5 11.5L45.5 10.8ZM106.2 9.5L103.8 11.0L103.8 12.2L105.5 14.0L106.0 15.2L106.0 17.2L105.5 18.5L105.8 19.8L106.2 20.2L107.2 20.5L108.8 19.2L109.8 17.8L110.2 16.5L110.2 14.0L108.5 10.2L107.5 9.5ZM41.2 7.8L39.2 8.0L38.5 9.2L38.2 10.8L38.8 12.0L39.5 12.5L40.2 12.5L41.0 12.0L42.5 9.8L42.5 8.5ZM62.2 7.0L60.8 6.8L59.0 7.8L58.8 9.5L59.2 10.2L60.0 10.8L60.8 10.8L62.8 9.2L62.8 7.8ZM130.8 6.0L129.5 7.0L129.5 8.8L131.2 10.5L132.2 10.5L133.0 9.8L133.8 7.5L132.5 6.2ZM91.5 5.8L90.0 5.0L89.0 5.8L88.5 7.0L87.5 8.0L86.2 8.8L83.8 9.2L83.5 10.2L85.0 12.8L85.8 13.2L87.2 13.0L87.8 12.0L89.2 10.5L92.8 8.5L92.8 7.8ZM0.5 4.5L0.0 4.5L0.0 15.2L0.8 15.0L2.0 13.5L2.0 12.5L1.2 11.0L1.2 5.5ZM52.5 4.5L51.8 5.5L51.8 7.0L52.5 8.8L53.2 9.2L55.0 9.2L56.0 8.8L56.5 7.5L55.8 6.0L53.8 4.2ZM107.2 5.2L105.2 3.8L103.8 3.8L101.0 6.2L96.8 7.5L95.5 8.8L95.5 9.8L96.0 10.5L97.2 11.2L99.0 11.8L100.5 11.8L103.8 8.8L106.8 7.5L107.2 6.8ZM81.5 3.2L80.0 3.2L78.2 4.2L75.0 4.5L73.0 5.5L71.8 7.0L71.8 8.2L72.8 9.8L73.8 10.2L76.2 9.5L78.2 9.5L78.5 10.0L76.8 11.2L74.2 11.2L73.5 10.8L70.2 10.5L68.8 11.2L68.0 12.2L68.2 15.0L69.2 16.0L72.5 16.0L74.0 15.2L77.2 15.2L78.8 16.0L80.5 16.0L82.0 15.2L82.5 14.8L82.5 13.2L82.0 12.2L80.2 10.5L79.2 10.2L78.8 9.8L79.5 8.8L81.2 7.5L81.8 6.5ZM85.2 3.0L84.0 3.8L83.8 6.0L84.8 7.0L86.5 7.0L87.2 6.0L87.8 4.0L87.0 3.0ZM129.2 11.2L127.0 8.5L125.0 8.2L122.8 6.5L121.8 4.0L121.8 2.8L120.5 1.8L119.5 1.8L118.0 3.2L117.2 5.0L116.2 6.0L114.5 6.2L112.8 5.2L111.0 4.8L109.5 5.0L108.8 6.0L108.8 7.8L110.2 10.2L110.5 11.8L111.8 14.0L113.5 15.5L114.8 15.5L116.2 15.0L117.0 14.2L118.2 11.0L120.2 9.8L123.5 11.0L124.5 12.2L126.5 13.5L128.8 13.2L129.2 12.5ZM59.5 1.8L58.2 1.8L56.5 3.0L56.5 4.2L57.5 5.5L58.5 5.8L60.0 4.8L60.2 2.5ZM93.8 1.2L92.0 2.8L92.0 3.8L93.2 5.5L94.5 6.2L95.5 6.2L96.0 5.5L96.0 4.0L95.0 1.5ZM101.2 1.2L99.2 1.0L98.0 1.5L97.8 3.0L98.0 4.0L98.8 5.0L99.8 5.0L101.0 3.8L101.8 2.5L101.8 1.8ZM18.0 0.5L17.0 0.5L10.2 4.0L9.0 6.5L7.5 7.8L4.5 8.2L3.0 9.2L3.0 10.2L3.8 11.8L5.2 13.2L7.2 13.2L9.2 12.0L10.5 12.0L10.8 12.2L10.5 12.8L10.8 15.5L12.0 17.8L13.0 18.5L14.2 18.5L15.0 18.0L15.5 17.0L15.5 15.0L14.5 13.2L13.5 12.2L11.0 11.8L11.8 10.8L15.2 8.8L16.5 7.5L19.5 6.2L20.0 5.2L20.0 2.2L19.0 1.0ZM128.0 0.0L128.0 1.0L128.5 2.0L131.0 4.2L134.8 4.5L134.8 0.0ZM121.8 0.0L122.5 1.5L122.5 2.5L123.0 3.0L123.8 5.0L126.2 6.8L128.0 6.5L128.5 5.0L126.8 2.8L126.0 0.0ZM112.5 0.0L112.0 2.0L112.2 3.0L114.0 4.2L115.5 4.0L116.8 2.0L117.0 0.0ZM104.2 0.0L104.5 1.0L105.8 2.2L107.8 3.5L108.8 3.5L109.5 3.0L110.5 0.5L110.5 0.0ZM87.8 0.0L88.0 1.5L89.0 2.2L90.2 2.0L91.8 0.5L91.8 0.0ZM75.0 1.2L76.0 2.5L77.8 2.5L79.8 1.5L84.5 1.5L85.2 1.2L86.0 0.0L75.0 0.0ZM69.5 0.0L68.5 1.2L68.5 3.2L69.0 4.2L70.2 5.0L71.8 4.8L73.5 3.2L73.8 2.5L73.5 0.0ZM60.8 0.0L61.0 1.2L62.2 3.2L62.2 4.0L64.2 6.8L65.0 8.8L66.0 9.8L68.2 9.5L69.5 8.2L69.8 7.5L68.2 5.5L67.8 4.2L66.8 3.2L66.5 2.5L66.8 0.0ZM52.0 0.0L52.5 1.5L53.2 2.0L54.8 2.0L57.0 0.5L57.0 0.0ZM45.8 0.0L45.5 1.0L45.8 4.2L45.2 5.2L45.2 8.0L46.8 9.5L48.0 9.8L48.8 9.5L50.0 8.0L51.0 2.0L50.8 1.2L49.5 0.0ZM20.5 0.0L20.5 0.5L21.5 1.2L22.8 1.0L24.5 1.8L26.8 2.0L27.5 2.5L27.5 3.0L26.0 3.8L24.5 3.2L22.2 3.2L21.2 4.5L21.2 6.5L22.0 7.8L21.5 8.2L18.8 8.2L15.5 9.5L15.2 11.2L15.8 12.2L17.0 13.5L20.0 13.8L20.8 14.2L22.0 14.2L23.8 15.0L26.2 17.2L27.2 17.8L29.8 21.0L32.0 21.0L33.8 20.2L34.2 19.5L34.2 18.2L31.5 15.0L31.0 13.8L30.8 11.5L29.5 10.5L28.0 10.2L27.5 9.5L28.2 9.0L30.2 9.0L31.5 9.5L33.2 9.0L36.0 9.2L37.0 8.2L37.5 7.0L39.2 5.8L43.0 6.0L44.0 5.2L44.0 3.8L43.5 2.0L42.2 1.2L40.0 1.0L39.0 0.5L38.8 0.0L34.5 0.0L33.8 2.2L32.8 3.2L31.8 3.8L29.8 3.8L29.0 3.5L28.5 2.8L29.8 2.0L31.5 2.0L32.2 1.2L32.5 0.0ZM22.5 8.2L24.2 8.0L25.0 8.2L25.8 9.2L24.0 9.5L23.0 9.0ZM11.8 0.0L11.8 0.5L12.8 1.5L13.5 1.5L14.5 1.0L14.8 0.0ZM1.2 0.0L1.5 4.0L3.2 6.0L4.8 6.5L6.5 6.2L7.5 5.2L7.8 4.5L9.0 3.5L10.0 1.5L9.8 0.0Z" fill="#fff" fill-rule="evenodd"/></g>
<rect x="96.00" y="116.00" width="34.00" height="4.00" fill="#ff0000" stroke="none" stroke-width="1.0"/>
</svg>
<svg x="1091.0" y="218.0" width="136.0" height="124.5" viewBox="0 0 136.0 124.5" overflow="hidden">
<rect x="0" y="0" width="136.0" height="124.5" fill="#1f1f1f"/>
<rect x="0" y="0" width="136.0" height="124.5" fill="#fff" opacity="0.12" filter="url(#mottle)"/>
<g filter="url(#dblur)">
<ellipse cx="20.5" cy="4.6" rx="8.4" ry="6.3" transform="rotate(0 20.5 4.6)" fill="url(#drop)"/>
<ellipse cx="46.0" cy="8.8" rx="5.0" ry="4.5" transform="rotate(0 46.0 8.8)" fill="url(#drop)"/>
<ellipse cx="53.1" cy="4.1" rx="4.5" ry="4.2" transform="rotate(0 53.1 4.1)" fill="url(#drop)"/>
<ellipse cx="78.4" cy="3.5" rx="6.6" ry="7.9" transform="rotate(0 78.4 3.5)" fill="url(#drop)"/>
<ellipse cx="102.0" cy="2.0" rx="5.8" ry="5.3" transform="rotate(0 102.0 2.0)" fill="url(#drop)"/>
<ellipse cx="128.8" cy="10.6" rx="5.8" ry="10.0" transform="rotate(0 128.8 10.6)" fill="url(#drop)"/>
<ellipse cx="58.4" cy="27.7" rx="5.3" ry="6.6" transform="rotate(0 58.4 27.7)" fill="url(#drop)"/>
<ellipse cx="76.8" cy="32.5" rx="6.6" ry="6.6" transform="rotate(0 76.8 32.5)" fill="url(#drop)"/>
<ellipse cx="109.1" cy="30.9" rx="4.2" ry="6.3" transform="rotate(0 109.1 30.9)" fill="url(#drop)"/>
<ellipse cx="99.9" cy="36.9" rx="4.5" ry="4.5" transform="rotate(0 99.9 36.9)" fill="url(#drop)"/>
<ellipse cx="97.8" cy="44.0" rx="3.2" ry="3.2" transform="rotate(0 97.8 44.0)" fill="url(#drop)"/>
<ellipse cx="13.2" cy="40.9" rx="9.2" ry="7.9" transform="rotate(0 13.2 40.9)" fill="url(#drop)"/>
<ellipse cx="36.8" cy="38.8" rx="7.4" ry="6.3" transform="rotate(20 36.8 38.8)" fill="url(#drop)"/>
<ellipse cx="130.9" cy="44.8" rx="7.9" ry="4.7" transform="rotate(-30 130.9 44.8)" fill="url(#drop)"/>
<ellipse cx="109.7" cy="58.7" rx="3.7" ry="5.3" transform="rotate(0 109.7 58.7)" fill="url(#drop)"/>
<ellipse cx="9.2" cy="70.3" rx="6.0" ry="3.9" transform="rotate(-10 9.2 70.3)" fill="url(#drop)"/>
<ellipse cx="23.2" cy="67.2" rx="2.4" ry="2.4" transform="rotate(0 23.2 67.2)" fill="url(#drop)"/>
<ellipse cx="32.9" cy="68.7" rx="4.7" ry="3.9" transform="rotate(0 32.9 68.7)" fill="url(#drop)"/>
<ellipse cx="56.5" cy="68.7" rx="9.2" ry="7.4" transform="rotate(15 56.5 68.7)" fill="url(#drop)"/>
<ellipse cx="99.1" cy="71.1" rx="8.4" ry="7.4" transform="rotate(20 99.1 71.1)" fill="url(#drop)"/>
<ellipse cx="130.2" cy="73.7" rx="6.6" ry="6.6" transform="rotate(0 130.2 73.7)" fill="url(#drop)"/>
<ellipse cx="9.8" cy="84.2" rx="5.3" ry="4.5" transform="rotate(0 9.8 84.2)" fill="url(#drop)"/>
<ellipse cx="38.9" cy="90.0" rx="8.4" ry="5.3" transform="rotate(20 38.9 90.0)" fill="url(#drop)"/>
<ellipse cx="88.1" cy="84.2" rx="5.8" ry="5.3" transform="rotate(0 88.1 84.2)" fill="url(#drop)"/>
<ellipse cx="109.1" cy="97.4" rx="5.3" ry="6.6" transform="rotate(0 109.1 97.4)" fill="url(#drop)"/>
<ellipse cx="128.3" cy="100.0" rx="7.4" ry="5.3" transform="rotate(30 128.3 100.0)" fill="url(#drop)"/>
<ellipse cx="15.3" cy="104.0" rx="10.0" ry="7.9" transform="rotate(20 15.3 104.0)" fill="url(#drop)"/>
<ellipse cx="45.2" cy="117.1" rx="6.6" ry="9.5" transform="rotate(-20 45.2 117.1)" fill="url(#drop)"/>
<ellipse cx="73.6" cy="116.6" rx="7.4" ry="7.9" transform="rotate(0 73.6 116.6)" fill="url(#drop)"/>
<ellipse cx="97.8" cy="110.5" rx="5.3" ry="7.4" transform="rotate(-30 97.8 110.5)" fill="url(#drop)"/>
<ellipse cx="0.6" cy="117.1" rx="3.9" ry="4.7" transform="rotate(0 0.6 117.1)" fill="url(#drop)"/>
<ellipse cx="135.2" cy="114.5" rx="2.6" ry="3.7" transform="rotate(0 135.2 114.5)" fill="url(#drop)"/>
<ellipse cx="111.8" cy="125.5" rx="3.2" ry="2.1" transform="rotate(0 111.8 125.5)" fill="url(#drop)"/>
<ellipse cx="-0.5" cy="14.6" rx="1.3" ry="2.1" transform="rotate(0 -0.5 14.6)" fill="url(#drop)"/>
<ellipse cx="136.2" cy="92.1" rx="1.3" ry="2.6" transform="rotate(0 136.2 92.1)" fill="url(#drop)"/>
</g>
<rect x="96.00" y="116.40" width="33.80" height="4.00" fill="#ff0000" stroke="none" stroke-width="1.0"/>
</svg>
<g clip-path="url(#clipc)">
<path d="M260.0 452.0C260.1 455.3 260.3 460.6 260.6 471.7C260.9 482.8 260.5 501.6 261.6 518.5C262.7 535.4 264.8 553.5 267.3 573.1C269.8 592.8 274.9 625.9 276.4 636.4" fill="none" stroke="#bcbcbc" stroke-width="1.9" stroke-dasharray="7.5 7.5"/>
<path d="M272.6 453.0C272.8 454.4 272.3 446.1 273.6 461.7C274.9 477.3 277.5 521.9 280.3 546.7C283.1 571.5 283.2 587.9 290.2 610.3C297.2 632.7 317.0 669.1 322.4 680.9" fill="none" stroke="#bcbcbc" stroke-width="1.9" stroke-dasharray="7.5 7.5"/>
<path d="M285.0 470.0C285.2 472.0 284.1 466.5 286.2 482.1C288.3 497.7 293.3 539.4 297.9 563.8C302.5 588.2 303.0 607.4 313.7 628.6C324.4 649.8 354.2 680.5 362.3 690.9" fill="none" stroke="#bcbcbc" stroke-width="1.9" stroke-dasharray="7.5 7.5"/>
<path d="M296.3 492.0C296.8 493.6 296.1 488.2 299.2 501.8C302.2 515.4 308.4 551.4 314.6 573.5C320.8 595.6 324.6 614.8 336.5 634.2C348.4 653.6 377.8 680.7 386.0 690.0" fill="none" stroke="#bcbcbc" stroke-width="1.9" stroke-dasharray="7.5 7.5"/>
<path d="M308.0 503.0C308.4 504.3 307.0 498.6 310.7 511.0C314.4 523.4 322.8 556.8 330.4 577.6C338.0 598.4 351.8 626.3 356.1 636.0" fill="none" stroke="#bcbcbc" stroke-width="1.9" stroke-dasharray="7.5 7.5"/>
<path d="M320.5 509.0C321.0 510.3 319.2 505.2 323.3 516.8C327.4 528.4 341.4 568.2 345.0 578.5" fill="none" stroke="#bcbcbc" stroke-width="1.9" stroke-dasharray="7.5 7.5"/>
<path d="M245.0 455.0C244.9 458.2 244.5 462.0 244.4 474.2C244.3 486.4 245.3 511.3 244.4 528.4C243.5 545.5 241.6 557.9 239.1 576.8C236.6 595.6 231.3 630.7 229.7 641.5" fill="none" stroke="#bcbcbc" stroke-width="1.9" stroke-dasharray="7.5 7.5"/>
<path d="M233.0 455.0C232.9 456.7 233.7 449.3 232.4 465.0C231.2 480.7 228.2 524.3 225.5 549.2C222.8 574.1 223.2 591.7 216.0 614.4C208.8 637.1 187.7 673.6 182.0 685.5" fill="none" stroke="#bcbcbc" stroke-width="1.9" stroke-dasharray="7.5 7.5"/>
<path d="M220.8 480.0C220.6 481.8 221.8 476.7 219.7 491.0C217.6 505.3 213.3 542.6 208.5 566.0C203.7 589.4 201.9 610.2 191.0 631.6C180.1 653.0 151.0 683.8 143.0 694.2" fill="none" stroke="#bcbcbc" stroke-width="1.9" stroke-dasharray="7.5 7.5"/>
<path d="M209.8 498.0C209.5 499.8 210.6 496.0 207.7 508.8C204.8 521.6 198.6 553.3 192.1 574.8C185.6 596.3 172.9 626.1 168.4 637.8C163.9 649.5 165.6 643.8 165.0 645.0" fill="none" stroke="#bcbcbc" stroke-width="1.9" stroke-dasharray="7.5 7.5"/>
<path d="M197.0 509.0C196.6 510.4 197.9 505.6 194.3 517.2C190.7 528.8 182.8 558.7 175.4 578.8C168.0 598.9 154.2 628.1 150.0 638.0" fill="none" stroke="#bcbcbc" stroke-width="1.9" stroke-dasharray="7.5 7.5"/>
<path d="M186.0 515.0C185.5 516.2 187.3 511.6 183.1 522.4C178.8 533.1 164.3 570.0 160.5 579.5" fill="none" stroke="#bcbcbc" stroke-width="1.9" stroke-dasharray="7.5 7.5"/>
<polyline points="84.6,699.3 85.3,699.7 86.0,699.8 86.7,700.0 87.4,699.7 88.1,698.7 88.8,698.1 89.5,698.2 90.2,698.9 90.9,699.4 91.6,699.3 92.3,698.7 93.0,698.2 93.7,698.3 94.4,699.0 95.1,699.8 95.8,700.0 96.5,699.6 97.2,699.2 97.9,699.3 98.6,699.3 99.3,698.7 100.0,698.5 100.7,698.5 101.4,698.4 102.1,698.3 102.8,698.4 103.5,698.6 104.2,698.6 104.9,698.4 105.6,698.6 106.3,698.5 107.0,698.0 107.7,697.9 108.4,698.2 109.1,698.6 109.8,698.6 110.5,698.5 111.2,699.0 111.9,699.6 112.6,699.1 113.3,698.6 114.0,698.9 114.7,698.9 115.4,698.9 116.1,698.9 116.8,698.0 117.5,697.4 118.2,698.0 118.9,698.5 119.6,698.5 120.3,698.7 121.0,698.8 121.7,698.6 122.4,699.2 123.1,699.6 123.8,699.4 124.5,699.3 125.2,699.5 125.9,699.5 126.6,698.7 127.3,698.2 128.0,698.0 128.7,697.2 129.4,696.6 130.1,697.0 130.8,697.7 131.5,697.4 132.2,696.2 132.9,695.8 133.6,696.3 134.3,696.6 135.0,696.7 135.7,697.0 136.4,696.9 137.1,696.4 137.8,695.6 138.5,694.6 139.2,694.2 139.9,694.7 140.6,695.0 141.3,694.9 142.0,694.8 142.7,694.7 143.4,694.2 144.1,693.2 144.8,693.5 145.5,694.5 146.2,694.6 146.9,694.5 147.6,695.1 148.3,695.3 149.0,695.3 149.7,696.0 150.4,696.0 151.1,695.8 151.8,696.4 152.5,696.5 153.2,696.1 153.9,695.8 154.6,695.4 155.3,696.0 156.0,696.6 156.7,696.5 157.4,696.5 158.1,696.7 158.8,697.1 159.5,697.4 160.2,697.0 160.9,696.8 161.6,697.4 162.3,697.7 163.0,697.1 163.7,696.3 164.4,696.2 165.1,696.8 165.8,697.2 166.5,696.9 167.2,696.0 167.9,695.5 168.6,695.9 169.3,695.7 170.0,694.4 170.7,693.9 171.4,694.1 172.1,694.5 172.8,694.5 173.5,693.1 174.2,691.9 174.9,691.1 175.6,689.9 176.3,689.8 177.0,690.0 177.7,688.9 178.4,687.3 179.1,686.6 179.8,686.7 180.5,686.6 181.2,685.9 181.9,685.5 182.6,685.6 183.3,685.7 184.0,685.7 184.7,685.7 185.4,685.3 186.1,685.7 186.8,686.8 187.5,687.4 188.2,687.8 188.9,688.9 189.6,689.9 190.3,690.2 191.0,690.5 191.7,691.1 192.4,691.0 193.1,690.7 193.8,691.5 194.5,692.1 195.2,691.8 195.9,691.9 196.6,692.0 197.3,691.8 198.0,692.0 198.7,692.6 199.4,693.1 200.1,692.7 200.8,692.1 201.5,692.4 202.2,693.0 202.9,693.3 203.6,693.3 204.3,693.2 205.0,693.1 205.7,692.5 206.4,691.6 207.1,691.1 207.8,690.3 208.5,689.1 209.2,689.5 209.9,690.2 210.6,688.8 211.3,687.2 212.0,687.6 212.7,687.8 213.4,686.8 214.1,685.4 214.8,684.1 215.5,683.1 216.2,682.3 216.9,680.7 217.6,678.6 218.3,677.1 219.0,675.1 219.7,672.4 220.4,670.0 221.1,667.4 221.8,664.8 222.5,662.3 223.2,659.2 223.9,655.6 224.6,652.2 225.3,650.1 226.0,648.3 226.7,645.7 227.4,643.6 228.1,642.2 228.8,641.3 229.5,641.8 230.2,641.5 230.9,643.1 241.0,709.5" fill="none" stroke="#1450b4" stroke-width="2.0" stroke-linejoin="round" stroke-linecap="round"/>
<polyline points="263.7,709.5 275.7,636.7 276.4,636.3 277.1,637.6 277.8,637.6 278.5,638.0 279.2,639.9 279.9,642.5 280.6,645.3 281.3,647.8 282.0,650.0 282.7,652.2 283.4,654.5 284.1,656.5 284.8,659.2 285.5,662.6 286.2,664.9 286.9,666.9 287.6,668.8 288.3,670.6 289.0,672.1 289.7,673.5 290.4,675.6 291.1,677.7 291.8,679.2 292.5,680.5 293.2,681.6 293.9,682.3 294.6,682.4 295.3,682.5 296.0,683.9 296.7,685.5 297.4,686.1 298.1,686.3 298.8,686.3 299.5,686.9 300.2,688.0 300.9,688.4 301.6,688.5 302.3,688.3 303.0,687.4 303.7,686.9 304.4,687.3 305.1,686.9 305.8,687.1 306.5,688.4 307.2,688.9 307.9,688.5 308.6,688.1 309.3,687.8 310.0,687.8 310.7,687.5 311.4,687.2 312.1,686.4 312.8,685.5 313.5,685.5 314.2,685.5 314.9,685.5 315.6,685.0 316.3,684.0 317.0,683.8 317.7,683.3 318.4,682.1 319.1,681.5 319.8,680.9 320.5,680.1 321.2,680.3 321.9,680.8 322.6,680.4 323.3,680.1 324.0,681.0 324.7,682.5 325.4,682.8 326.1,682.3 326.8,682.3 327.5,683.0 328.2,683.5 328.9,683.8 329.6,684.5 330.3,685.6 331.0,685.7 331.7,685.5 332.4,686.6 333.1,687.7 333.8,688.2 334.5,688.4 335.2,689.0 335.9,689.0 336.6,688.5 337.3,689.6 338.0,689.8 338.7,688.6 339.4,688.7 340.1,689.8 340.8,690.6 341.5,691.3 342.2,691.5 342.9,691.5 343.6,691.9 344.3,692.1 345.0,692.3 345.7,692.4 346.4,692.4 347.1,692.6 347.8,692.2 348.5,691.5 349.2,691.5 349.9,691.8 350.6,691.4 351.3,691.0 352.0,691.4 352.7,692.0 353.4,692.4 354.1,692.4 354.8,691.7 355.5,691.1 356.2,691.1 356.9,691.0 357.6,690.5 358.3,690.2 359.0,691.1 359.7,691.8 360.4,691.5 361.1,690.6 361.8,691.0 362.5,691.7 363.2,691.4 363.9,691.2 364.6,691.4 365.3,692.0 366.0,692.7 366.7,693.1 367.4,692.7 368.1,692.0 368.8,691.5 369.5,691.6 370.2,691.9 370.9,691.9 371.6,692.3 372.3,692.8 373.0,692.8 373.7,692.6 374.4,692.7 375.1,693.5 375.8,694.0 376.5,693.5 377.2,693.4 377.9,693.6 378.6,693.8 379.3,693.7 380.0,693.4 380.7,693.3 381.4,693.2 382.1,692.9 382.8,693.2 383.5,693.8 384.2,693.9 384.9,694.1 385.6,694.0 386.3,693.8 387.0,694.0 387.7,693.9 388.4,694.4 389.1,694.6 389.8,693.7 390.5,693.1 391.2,693.9 391.9,694.8 392.6,694.1 393.3,693.5 394.0,694.1 394.7,694.2 395.4,693.8 396.1,693.0 396.8,692.6 397.5,693.0 398.2,693.0 398.9,692.8 399.6,693.0 400.3,693.6 401.0,694.5 401.7,694.8 402.4,694.4 403.1,693.7 403.8,693.5 404.5,694.1 405.2,694.7 405.9,694.8 406.6,694.4 407.3,694.2 408.0,694.1 408.7,693.6 409.4,693.8 410.1,694.0 410.8,693.8 411.5,694.1 412.2,694.7 412.9,694.7 413.6,694.3 414.3,693.8 415.0,693.9 415.7,694.3 416.4,694.6 417.1,694.6 417.8,694.9 418.5,695.3 419.2,695.0 419.9,694.2 420.6,694.0" fill="none" stroke="#1450b4" stroke-width="2.0" stroke-linejoin="round" stroke-linecap="round"/>
<polyline points="84.6,642.7 85.3,643.0 86.0,643.6 86.7,643.4 87.4,642.7 88.1,642.2 88.8,642.1 89.5,642.7 90.2,643.5 90.9,643.5 91.6,643.0 92.3,642.3 93.0,642.0 93.7,642.6 94.4,643.1 95.1,643.2 95.8,642.8 96.5,642.4 97.2,642.5 97.9,642.7 98.6,643.2 99.3,643.1 100.0,642.9 100.7,642.7 101.4,642.6 102.1,642.7 102.8,643.1 103.5,643.4 104.2,643.0 104.9,642.6 105.6,642.3 106.3,642.1 107.0,642.5 107.7,643.0 108.4,643.0 109.1,642.8 109.8,642.4 110.5,641.7 111.2,641.6 111.9,642.8 112.6,643.5 113.3,643.1 114.0,643.2 114.7,642.9 115.4,642.4 116.1,642.3 116.8,642.0 117.5,642.2 118.2,642.8 118.9,642.3 119.6,642.0 120.3,642.3 121.0,642.0 121.7,641.8 122.4,641.9 123.1,641.8 123.8,641.3 124.5,641.6 125.2,642.4 125.9,641.9 126.6,640.8 127.3,640.7 128.0,641.8 128.7,643.0 129.4,643.6 130.1,644.0 130.8,643.5 131.5,642.5 132.2,642.4 132.9,642.6 133.6,642.3 134.3,641.8 135.0,641.5 135.7,642.2 136.4,642.8 137.1,642.4 137.8,641.4 138.5,641.1 139.2,641.9 139.9,642.6 140.6,642.6 141.3,642.0 142.0,641.0 142.7,640.9 143.4,641.6 144.1,641.5 144.8,641.1 145.5,641.2 146.2,641.4 146.9,641.6 147.6,641.2 148.3,640.8 149.0,641.0 149.7,641.5 150.4,641.9 151.1,641.2 151.8,640.6 152.5,640.9 153.2,641.2 153.9,641.3 154.6,641.1 155.3,640.7 156.0,640.8 156.7,640.7 157.4,640.3 158.1,640.4 158.8,640.4 159.5,639.8 160.2,639.6 160.9,640.0 161.6,640.2 162.3,639.9 163.0,639.3 163.7,639.4 164.4,639.8 165.1,639.5 165.8,638.3 166.5,637.1 167.2,636.9 167.9,637.8 168.6,638.1 169.3,637.7 170.0,638.0 170.7,638.8 171.4,638.9 172.1,638.9 172.8,639.2 173.5,639.2 174.2,639.1 174.9,639.7 175.6,639.9 176.3,639.7 177.0,640.5 177.7,640.8 178.4,640.0 179.1,640.3 179.8,640.6 180.5,640.2 181.2,639.9 181.9,639.8 182.6,639.7 183.3,638.8 184.0,637.8 184.7,637.1 185.4,637.1 186.1,636.4 186.8,634.8 187.5,634.1 188.2,633.8 188.9,632.6 189.6,631.0 190.3,630.4 191.0,631.6 191.7,632.6 192.4,632.5 193.1,633.0 193.8,633.9 194.5,634.5 195.2,635.4 195.9,636.0 196.6,637.0 197.3,639.0 198.0,639.8 198.7,639.4 199.4,639.2 200.1,638.6 200.8,638.7 201.5,639.0 202.2,638.2 202.9,637.9 203.6,638.1 204.3,638.1 205.0,638.9 205.7,639.0 206.4,638.2 207.1,637.5 207.8,636.1 208.5,635.3 209.2,635.0 209.9,633.7 210.6,631.5 211.3,628.8 212.0,626.5 212.7,623.8 213.4,620.2 214.1,617.3 214.8,615.2 215.5,613.5 216.2,613.2 216.9,614.7 217.6,617.7 218.3,620.6 219.0,622.3 219.7,624.0 220.4,626.7 221.1,629.4 221.8,631.3 222.5,633.0 223.2,634.1 223.9,634.3 224.6,635.2 225.3,636.5 226.0,637.1 226.7,637.0 227.4,636.8 228.1,636.5 228.8,636.2 229.5,636.1 230.2,635.6 230.9,635.2 231.6,635.0 232.3,633.6 233.0,630.9 233.7,627.9 234.4,623.6 235.1,617.2 235.8,609.4 236.5,600.3 237.2,590.4 237.9,582.4 238.6,578.0 239.3,577.6 246.2,709.5" fill="none" stroke="#45307f" stroke-width="2.0" stroke-linejoin="round" stroke-linecap="round"/>
<polyline points="259.7,709.5 266.6,576.4 267.3,573.4 268.0,575.0 268.7,580.9 269.4,590.3 270.1,599.9 270.8,607.8 271.5,614.7 272.2,620.8 272.9,625.4 273.6,628.5 274.3,631.2 275.0,633.2 275.7,633.3 276.4,632.9 277.1,633.3 277.8,633.7 278.5,633.8 279.2,634.4 279.9,633.9 280.6,633.1 281.3,633.1 282.0,633.1 282.7,632.1 283.4,630.4 284.1,629.0 284.8,627.6 285.5,625.3 286.2,622.0 286.9,619.5 287.6,617.7 288.3,614.4 289.0,611.4 289.7,610.1 290.4,609.8 291.1,610.4 291.8,612.6 292.5,615.8 293.2,618.7 293.9,621.6 294.6,624.1 295.3,626.0 296.0,628.4 296.7,630.5 297.4,631.6 298.1,632.9 298.8,634.1 299.5,635.0 300.2,635.6 300.9,635.8 301.6,635.7 302.3,635.5 303.0,635.1 303.7,635.3 304.4,635.6 305.1,635.5 305.8,635.7 306.5,635.3 307.2,634.4 307.9,633.7 308.6,633.0 309.3,632.2 310.0,631.4 310.7,630.8 311.4,629.9 312.1,629.3 312.8,629.7 313.5,629.1 314.2,628.2 314.9,628.7 315.6,630.1 316.3,631.4 317.0,631.9 317.7,632.4 318.4,633.3 319.1,634.0 319.8,634.2 320.5,634.4 321.2,634.9 321.9,635.7 322.6,636.3 323.3,636.4 324.0,636.1 324.7,636.0 325.4,636.1 326.1,636.0 326.8,635.6 327.5,636.3 328.2,637.0 328.9,636.4 329.6,635.9 330.3,635.8 331.0,635.4 331.7,635.3 332.4,635.4 333.1,635.5 333.8,635.8 334.5,635.3 335.2,634.3 335.9,633.8 336.6,633.4 337.3,633.2 338.0,634.2 338.7,635.3 339.4,635.4 340.1,635.4 340.8,636.0 341.5,636.4 342.2,636.4 342.9,636.8 343.6,637.3 344.3,637.1 345.0,636.8 345.7,636.9 346.4,636.7 347.1,636.3 347.8,636.7 348.5,636.5 349.2,635.5 349.9,636.0 350.6,637.3 351.3,637.6 352.0,637.2 352.7,637.0 353.4,637.1 354.1,636.7 354.8,635.9 355.5,636.3 356.2,637.4 356.9,637.7 357.6,636.9 358.3,636.0 359.0,636.1 359.7,637.0 360.4,637.5 361.1,637.2 361.8,637.2 362.5,637.6 363.2,637.7 363.9,637.2 364.6,636.6 365.3,637.3 366.0,638.2 366.7,638.4 367.4,638.7 368.1,638.1 368.8,637.4 369.5,637.6 370.2,637.6 370.9,637.3 371.6,637.3 372.3,637.7 373.0,637.9 373.7,637.6 374.4,637.1 375.1,636.5 375.8,636.4 376.5,636.9 377.2,637.0 377.9,637.2 378.6,637.7 379.3,637.5 380.0,636.9 380.7,637.2 381.4,637.6 382.1,637.0 382.8,636.5 383.5,637.2 384.2,638.1 384.9,638.3 385.6,638.2 386.3,638.0 387.0,637.7 387.7,637.0 388.4,637.1 389.1,637.9 389.8,638.5 390.5,638.4 391.2,638.1 391.9,637.5 392.6,637.5 393.3,638.4 394.0,638.8 394.7,638.7 395.4,638.3 396.1,638.1 396.8,638.5 397.5,638.4 398.2,638.4 398.9,637.8 399.6,636.4 400.3,635.8 401.0,636.3 401.7,637.4 402.4,638.0 403.1,637.9 403.8,637.6 404.5,637.0 405.2,636.7 405.9,637.0 406.6,637.1 407.3,637.0 408.0,637.4 408.7,637.7 409.4,637.3 410.1,636.9 410.8,636.8 411.5,636.6 412.2,637.0 412.9,637.8 413.6,637.6 414.3,636.9 415.0,637.2 415.7,637.9 416.4,638.2 417.1,638.3 417.8,638.2 418.5,637.8 419.2,637.5 419.9,637.7 420.6,638.0" fill="none" stroke="#45307f" stroke-width="2.0" stroke-linejoin="round" stroke-linecap="round"/>
<polyline points="84.6,582.6 85.3,583.1 86.0,582.6 86.7,581.4 87.4,580.7 88.1,580.7 88.8,581.3 89.5,581.6 90.2,580.9 90.9,580.6 91.6,581.5 92.3,582.3 93.0,582.7 93.7,582.7 94.4,582.0 95.1,581.5 95.8,581.2 96.5,581.0 97.2,581.5 97.9,582.6 98.6,583.2 99.3,582.8 100.0,582.1 100.7,581.7 101.4,581.4 102.1,581.1 102.8,581.7 103.5,582.2 104.2,581.8 104.9,581.3 105.6,581.1 106.3,581.8 107.0,581.6 107.7,580.5 108.4,580.9 109.1,582.1 109.8,582.3 110.5,581.6 111.2,581.8 111.9,582.4 112.6,582.1 113.3,581.6 114.0,581.4 114.7,581.4 115.4,581.5 116.1,581.7 116.8,581.6 117.5,581.9 118.2,582.4 118.9,582.4 119.6,582.0 120.3,581.8 121.0,581.8 121.7,582.0 122.4,582.1 123.1,582.3 123.8,583.1 124.5,583.2 125.2,582.1 125.9,581.4 126.6,581.4 127.3,581.8 128.0,581.9 128.7,581.4 129.4,581.1 130.1,581.8 130.8,582.9 131.5,582.8 132.2,582.0 132.9,581.4 133.6,581.3 134.3,580.9 135.0,580.6 135.7,581.0 136.4,581.7 137.1,581.9 137.8,581.4 138.5,580.8 139.2,580.9 139.9,581.6 140.6,581.8 141.3,581.8 142.0,581.7 142.7,581.8 143.4,581.7 144.1,581.2 144.8,581.6 145.5,582.4 146.2,582.2 146.9,581.6 147.6,581.1 148.3,581.2 149.0,582.2 149.7,582.3 150.4,581.7 151.1,580.9 151.8,580.5 152.5,581.3 153.2,581.9 153.9,581.8 154.6,581.9 155.3,581.5 156.0,580.8 156.7,580.8 157.4,581.3 158.1,581.7 158.8,581.4 159.5,581.1 160.2,581.0 160.9,581.2 161.6,581.9 162.3,581.6 163.0,580.9 163.7,581.3 164.4,581.8 165.1,582.1 165.8,581.8 166.5,581.2 167.2,581.4 167.9,581.5 168.6,581.6 169.3,581.4 170.0,580.1 170.7,579.4 171.4,579.3 172.1,578.5 172.8,578.2 173.5,579.0 174.2,579.3 174.9,578.8 175.6,579.5 176.3,580.5 177.0,579.8 177.7,579.1 178.4,579.5 179.1,579.9 179.8,580.1 180.5,580.5 181.2,580.8 181.9,580.9 182.6,580.7 183.3,580.2 184.0,579.6 184.7,579.3 185.4,579.5 186.1,579.5 186.8,579.3 187.5,578.7 188.2,578.5 188.9,578.4 189.6,577.6 190.3,576.3 191.0,575.3 191.7,575.4 192.4,575.7 193.1,575.4 193.8,575.6 194.5,576.5 195.2,576.6 195.9,576.4 196.6,577.2 197.3,578.2 198.0,578.9 198.7,579.5 199.4,579.9 200.1,579.8 200.8,579.2 201.5,578.4 202.2,577.4 202.9,576.2 203.6,574.9 204.3,573.7 205.0,572.3 205.7,570.5 206.4,569.1 207.1,567.5 207.8,565.4 208.5,564.9 209.2,565.7 209.9,566.8 210.6,567.9 211.3,570.2 212.0,572.5 212.7,573.3 213.4,574.4 214.1,575.6 214.8,576.0 215.5,576.3 216.2,576.6 216.9,575.8 217.6,575.3 218.3,574.9 219.0,574.1 219.7,572.7 220.4,570.7 221.1,568.1 221.8,564.8 222.5,561.1 223.2,557.1 223.9,553.1 224.6,550.6 225.3,549.5 226.0,549.5 226.7,551.0 227.4,553.5 228.1,556.8 228.8,561.3 229.5,564.9 230.2,567.5 230.9,570.1 231.6,571.7 232.3,572.4 233.0,573.7 233.7,575.2 234.4,575.8 235.1,576.0 235.8,576.0 236.5,574.5 237.2,572.1 237.9,570.6 238.6,569.1 239.3,566.0 240.0,561.8 240.7,557.2 241.4,552.1 242.1,546.8 242.8,541.4 243.5,535.9 244.2,531.1 244.9,527.6" fill="none" stroke="#7c1f4f" stroke-width="2.0" stroke-linejoin="round" stroke-linecap="round"/>
<polyline points="260.3,518.7 261.0,518.0 261.7,519.9 262.4,524.3 263.1,530.5 263.8,536.8 264.5,542.7 265.2,549.0 265.9,555.7 266.6,560.6 267.3,563.6 268.0,566.2 268.7,568.2 269.4,569.9 270.1,571.4 270.8,572.2 271.5,572.8 272.2,573.3 272.9,573.1 273.6,571.8 274.3,570.1 275.0,568.0 275.7,565.0 276.4,562.0 277.1,559.0 277.8,555.7 278.5,552.0 279.2,548.9 279.9,547.4 280.6,546.7 281.3,548.1 282.0,551.7 282.7,555.2 283.4,558.3 284.1,561.8 284.8,565.7 285.5,569.3 286.2,571.7 286.9,573.6 287.6,574.6 288.3,575.2 289.0,575.3 289.7,575.1 290.4,575.0 291.1,574.6 291.8,573.6 292.5,572.9 293.2,572.7 293.9,571.9 294.6,570.0 295.3,567.8 296.0,566.1 296.7,565.4 297.4,564.5 298.1,563.7 298.8,564.3 299.5,565.4 300.2,567.2 300.9,570.0 301.6,572.1 302.3,573.4 303.0,574.7 303.7,575.3 304.4,576.3 305.1,577.2 305.8,577.3 306.5,577.2 307.2,577.2 307.9,577.8 308.6,577.8 309.3,576.7 310.0,576.1 310.7,576.3 311.4,576.1 312.1,574.9 312.8,573.9 313.5,573.9 314.2,573.7 314.9,573.1 315.6,573.8 316.3,575.0 317.0,575.3 317.7,575.9 318.4,576.5 319.1,577.2 319.8,578.3 320.5,578.5 321.2,578.1 321.9,578.3 322.6,578.4 323.3,578.1 324.0,577.9 324.7,577.8 325.4,577.9 326.1,578.3 326.8,577.8 327.5,577.2 328.2,577.4 328.9,577.7 329.6,577.8 330.3,577.9 331.0,577.6 331.7,577.6 332.4,577.7 333.1,578.1 333.8,579.0 334.5,579.5 335.2,579.2 335.9,578.5 336.6,578.5 337.3,578.3 338.0,577.8 338.7,577.7 339.4,578.3 340.1,579.3 340.8,580.1 341.5,579.7 342.2,578.6 342.9,578.3 343.6,578.7 344.3,578.8 345.0,578.3 345.7,577.9 346.4,578.3 347.1,579.0 347.8,579.1 348.5,578.8 349.2,578.7 349.9,579.2 350.6,579.9 351.3,580.0 352.0,580.2 352.7,580.0 353.4,579.3 354.1,579.4 354.8,579.9 355.5,579.9 356.2,579.4 356.9,579.0 357.6,579.0 358.3,579.2 359.0,579.2 359.7,579.3 360.4,579.3 361.1,579.0 361.8,578.7 362.5,578.8 363.2,579.1 363.9,579.7 364.6,579.9 365.3,578.9 366.0,578.3 366.7,579.0 367.4,579.2 368.1,578.9 368.8,579.4 369.5,579.8 370.2,578.8 370.9,578.5 371.6,578.4 372.3,577.9 373.0,578.7 373.7,579.8 374.4,579.9 375.1,579.6 375.8,579.2 376.5,579.8 377.2,580.6 377.9,580.4 378.6,579.7 379.3,579.2 380.0,579.3 380.7,579.6 381.4,579.0 382.1,578.4 382.8,579.0 383.5,580.0 384.2,579.8 384.9,579.3 385.6,579.2 386.3,578.9 387.0,579.3 387.7,579.5 388.4,579.0 389.1,578.4 389.8,578.4 390.5,579.3 391.2,580.3 391.9,580.2 392.6,580.0 393.3,579.7 394.0,579.4 394.7,578.8 395.4,578.1 396.1,578.4 396.8,579.0 397.5,579.2 398.2,579.4 398.9,579.5 399.6,579.4 400.3,579.6 401.0,579.7 401.7,579.7 402.4,579.8 403.1,579.9 403.8,579.6 404.5,579.3 405.2,579.0 405.9,578.9 406.6,579.2 407.3,579.5 408.0,579.3 408.7,579.5 409.4,580.0 410.1,580.4 410.8,580.1 411.5,579.3 412.2,579.2 412.9,579.8 413.6,579.5 414.3,579.2 415.0,580.1 415.7,580.1 416.4,579.3 417.1,579.5 417.8,579.4 418.5,579.0 419.2,578.8 419.9,578.7 420.6,579.1" fill="none" stroke="#7c1f4f" stroke-width="2.0" stroke-linejoin="round" stroke-linecap="round"/>
<polyline points="84.6,528.9 85.3,528.4 86.0,528.5 86.7,528.5 87.4,528.2 88.1,528.1 88.8,529.0 89.5,529.6 90.2,528.0 90.9,527.4 91.6,528.4 92.3,528.3 93.0,528.2 93.7,528.5 94.4,528.3 95.1,529.0 95.8,530.0 96.5,529.7 97.2,529.0 97.9,529.0 98.6,529.4 99.3,529.1 100.0,528.9 100.7,529.9 101.4,530.8 102.1,531.0 102.8,530.7 103.5,528.8 104.2,526.7 104.9,528.0 105.6,530.3 106.3,529.7 107.0,528.9 107.7,529.2 108.4,529.3 109.1,528.8 109.8,528.5 110.5,529.5 111.2,530.2 111.9,529.7 112.6,528.8 113.3,528.5 114.0,528.6 114.7,527.9 115.4,527.2 116.1,527.6 116.8,528.4 117.5,529.3 118.2,529.4 118.9,528.6 119.6,528.4 120.3,528.5 121.0,527.9 121.7,527.7 122.4,528.0 123.1,527.9 123.8,528.5 124.5,529.8 125.2,529.7 125.9,528.0 126.6,526.9 127.3,527.6 128.0,527.8 128.7,528.0 129.4,529.4 130.1,529.2 130.8,528.4 131.5,528.1 132.2,527.3 132.9,527.7 133.6,528.5 134.3,528.3 135.0,527.9 135.7,528.7 136.4,529.4 137.1,528.6 137.8,527.4 138.5,526.4 139.2,526.0 139.9,527.1 140.6,528.8 141.3,529.8 142.0,529.9 142.7,529.1 143.4,527.9 144.1,526.8 144.8,526.2 145.5,526.3 146.2,526.6 146.9,527.5 147.6,528.2 148.3,527.9 149.0,527.8 149.7,528.8 150.4,529.7 151.1,528.6 151.8,527.5 152.5,528.3 153.2,527.5 153.9,526.2 154.6,527.2 155.3,527.2 156.0,526.4 156.7,527.7 157.4,528.5 158.1,527.6 158.8,526.5 159.5,526.1 160.2,526.9 160.9,527.7 161.6,527.5 162.3,527.2 163.0,526.4 163.7,526.2 164.4,527.9 165.1,529.2 165.8,528.8 166.5,527.4 167.2,527.2 167.9,527.6 168.6,527.3 169.3,527.5 170.0,527.5 170.7,526.2 171.4,525.2 172.1,525.2 172.8,525.7 173.5,525.2 174.2,525.1 174.9,526.4 175.6,526.6 176.3,526.3 177.0,526.1 177.7,526.3 178.4,526.8 179.1,527.3 179.8,526.8 180.5,525.6 181.2,525.1 181.9,523.6 182.6,522.2 183.3,522.3 184.0,522.1 184.7,522.4 185.4,523.2 186.1,524.4 186.8,525.3 187.5,524.8 188.2,524.0 188.9,525.0 189.6,526.4 190.3,525.7 191.0,523.8 191.7,521.8 192.4,520.4 193.1,519.6 193.8,518.5 194.5,517.5 195.2,516.7 195.9,518.3 196.6,521.4 197.3,522.6 198.0,523.8 198.7,525.6 199.4,526.5 200.1,526.7 200.8,526.9 201.5,527.1 202.2,526.3 202.9,525.2 203.6,523.5 204.3,522.1 205.0,520.0 205.7,514.8 206.4,510.0 207.1,508.8 207.8,509.8 208.5,511.5 209.2,512.7 209.9,514.8 210.6,519.2 211.3,522.5 212.0,523.6 212.7,524.5 213.4,524.8 214.1,523.5 214.8,521.5 215.5,519.1 216.2,515.4 216.9,510.3 217.6,504.6 218.3,498.6 219.0,493.0 219.7,489.7 220.4,490.6 221.1,497.2 221.8,505.7 222.5,510.4 223.2,513.8 223.9,518.0 224.6,520.4 225.3,521.1 226.0,521.2 226.7,520.8 227.4,519.1 228.1,514.8 228.8,509.4 229.5,501.3 230.2,490.8 230.9,480.4 231.6,470.4 232.3,464.7 233.0,467.3 233.7,475.5 234.4,486.0 235.1,498.5 235.8,509.0 236.5,515.0 237.2,518.1 237.9,519.8 238.6,520.7 239.3,520.0 240.0,518.3 240.7,516.2 241.4,511.3 242.1,501.2 242.8,489.8 243.5,481.1 244.2,475.6 244.9,475.1" fill="none" stroke="#b00a22" stroke-width="2.0" stroke-linejoin="round" stroke-linecap="round"/>
<polyline points="260.3,471.8 261.0,472.6 261.7,478.4 262.4,488.1 263.1,499.0 263.8,507.5 264.5,512.7 265.2,515.8 265.9,518.1 266.6,519.3 267.3,518.5 268.0,516.7 268.7,514.5 269.4,510.9 270.1,504.2 270.8,495.5 271.5,485.6 272.2,473.9 272.9,464.1 273.6,460.6 274.3,464.0 275.0,473.5 275.7,486.0 276.4,496.3 277.1,504.1 277.8,510.9 278.5,514.8 279.2,516.5 279.9,517.4 280.6,517.6 281.3,516.9 282.0,514.9 282.7,509.8 283.4,502.3 284.1,495.8 284.8,489.7 285.5,483.5 286.2,480.7 286.9,483.4 287.6,489.0 288.3,495.4 289.0,503.3 289.7,510.2 290.4,513.9 291.1,516.5 291.8,518.5 292.5,519.7 293.2,520.4 293.9,520.2 294.6,518.8 295.3,516.9 296.0,514.4 296.7,511.3 297.4,508.0 298.1,505.1 298.8,502.4 299.5,500.2 300.2,501.8 300.9,506.6 301.6,510.2 302.3,513.2 303.0,517.6 303.7,519.6 304.4,518.8 305.1,518.3 305.8,518.5 306.5,518.3 307.2,517.4 307.9,515.8 308.6,514.3 309.3,513.1 310.0,512.1 310.7,511.6 311.4,512.8 312.1,514.9 312.8,516.4 313.5,517.6 314.2,518.5 314.9,520.4 315.6,522.8 316.3,522.8 317.0,521.4 317.7,520.7 318.4,521.1 319.1,520.7 319.8,519.1 320.5,518.4 321.2,518.3 321.9,517.8 322.6,516.8 323.3,516.7 324.0,517.2 324.7,518.4 325.4,520.1 326.1,520.6 326.8,521.1 327.5,521.0 328.2,520.4 328.9,521.2 329.6,522.3 330.3,522.1 331.0,521.3 331.7,521.1 332.4,521.4 333.1,521.2 333.8,521.2 334.5,520.8 335.2,519.6 335.9,518.9 336.6,519.3 337.3,519.9 338.0,521.2 338.7,522.5 339.4,522.4 340.1,522.4 340.8,522.1 341.5,521.2 342.2,521.1 342.9,521.8 343.6,522.2 344.3,522.4 345.0,523.7 345.7,523.3 346.4,520.9 347.1,520.3 347.8,521.0 348.5,521.9 349.2,521.9 349.9,522.2 350.6,522.0 351.3,520.7 352.0,520.8 352.7,522.0 353.4,522.0 354.1,522.5 354.8,523.2 355.5,522.4 356.2,521.3 356.9,521.2 357.6,521.6 358.3,520.8 359.0,520.0 359.7,520.5 360.4,520.5 361.1,520.3 361.8,521.4 362.5,522.7 363.2,523.6 363.9,524.3 364.6,523.8 365.3,521.8 366.0,520.5 366.7,521.8 367.4,522.9 368.1,522.8 368.8,522.6 369.5,521.9 370.2,522.2 370.9,523.5 371.6,523.7 372.3,523.4 373.0,523.4 373.7,521.8 374.4,520.3 375.1,521.7 375.8,522.9 376.5,522.9 377.2,523.1 377.9,523.3 378.6,522.6 379.3,521.9 380.0,522.1 380.7,521.2 381.4,520.6 382.1,521.1 382.8,521.7 383.5,521.8 384.2,521.9 384.9,522.8 385.6,522.9 386.3,522.6 387.0,522.1 387.7,520.6 388.4,519.8 389.1,520.6 389.8,522.2 390.5,522.7 391.2,521.7 391.9,520.8 392.6,521.0 393.3,522.5 394.0,523.0 394.7,521.9 395.4,521.4 396.1,521.6 396.8,522.0 397.5,521.4 398.2,520.1 398.9,520.9 399.6,522.0 400.3,522.1 401.0,523.2 401.7,523.3 402.4,521.5 403.1,521.5 403.8,522.1 404.5,520.7 405.2,519.8 405.9,520.2 406.6,521.5 407.3,522.5 408.0,522.7 408.7,521.8 409.4,521.4 410.1,522.4 410.8,522.3 411.5,522.3 412.2,523.3 412.9,522.9 413.6,522.7 414.3,523.7 415.0,524.0 415.7,523.1 416.4,521.6 417.1,519.9 417.8,521.1 418.5,524.1 419.2,524.4 419.9,522.3 420.6,521.2" fill="none" stroke="#b00a22" stroke-width="2.0" stroke-linejoin="round" stroke-linecap="round"/>
<line x1="245.70" y1="475.13" x2="245.70" y2="586.00" stroke="#a01535" stroke-width="1.1"/>
<line x1="259.40" y1="471.77" x2="259.40" y2="595.00" stroke="#a01535" stroke-width="1.1"/>
</g>
<rect x="246.30" y="410.7" width="12.60" height="297.90" fill="url(#hatchc)" fill-opacity="0.87"/>
<path d="M84.60 410.70 L420.60 410.70 L420.60 708.60" fill="none" stroke="#000" stroke-width="1.15"/>
<path d="M84.60 410.20 L84.60 708.60 L421.10 708.60" fill="none" stroke="#000" stroke-width="1.7" stroke-linejoin="miter"/>
<line x1="97.80" y1="708.60" x2="97.80" y2="703.40" stroke="#000" stroke-width="1.1"/>
<line x1="110.72" y1="708.60" x2="110.72" y2="705.70" stroke="#000" stroke-width="1.1"/>
<line x1="123.65" y1="708.60" x2="123.65" y2="705.70" stroke="#000" stroke-width="1.1"/>
<line x1="136.57" y1="708.60" x2="136.57" y2="705.70" stroke="#000" stroke-width="1.1"/>
<line x1="149.50" y1="708.60" x2="149.50" y2="703.40" stroke="#000" stroke-width="1.1"/>
<line x1="162.43" y1="708.60" x2="162.43" y2="705.70" stroke="#000" stroke-width="1.1"/>
<line x1="175.35" y1="708.60" x2="175.35" y2="705.70" stroke="#000" stroke-width="1.1"/>
<line x1="188.28" y1="708.60" x2="188.28" y2="705.70" stroke="#000" stroke-width="1.1"/>
<line x1="201.20" y1="708.60" x2="201.20" y2="703.40" stroke="#000" stroke-width="1.1"/>
<line x1="214.12" y1="708.60" x2="214.12" y2="705.70" stroke="#000" stroke-width="1.1"/>
<line x1="227.05" y1="708.60" x2="227.05" y2="705.70" stroke="#000" stroke-width="1.1"/>
<line x1="239.97" y1="708.60" x2="239.97" y2="705.70" stroke="#000" stroke-width="1.1"/>
<line x1="265.82" y1="708.60" x2="265.82" y2="705.70" stroke="#000" stroke-width="1.1"/>
<line x1="278.75" y1="708.60" x2="278.75" y2="705.70" stroke="#000" stroke-width="1.1"/>
<line x1="291.68" y1="708.60" x2="291.68" y2="705.70" stroke="#000" stroke-width="1.1"/>
<line x1="304.60" y1="708.60" x2="304.60" y2="703.40" stroke="#000" stroke-width="1.1"/>
<line x1="317.52" y1="708.60" x2="317.52" y2="705.70" stroke="#000" stroke-width="1.1"/>
<line x1="330.45" y1="708.60" x2="330.45" y2="705.70" stroke="#000" stroke-width="1.1"/>
<line x1="343.38" y1="708.60" x2="343.38" y2="705.70" stroke="#000" stroke-width="1.1"/>
<line x1="356.30" y1="708.60" x2="356.30" y2="703.40" stroke="#000" stroke-width="1.1"/>
<line x1="369.23" y1="708.60" x2="369.23" y2="705.70" stroke="#000" stroke-width="1.1"/>
<line x1="382.15" y1="708.60" x2="382.15" y2="705.70" stroke="#000" stroke-width="1.1"/>
<line x1="395.08" y1="708.60" x2="395.08" y2="705.70" stroke="#000" stroke-width="1.1"/>
<line x1="408.00" y1="708.60" x2="408.00" y2="703.40" stroke="#000" stroke-width="1.1"/>
<text x="97.40" y="727.20" font-family='"Liberation Sans", sans-serif' font-size="15.5" text-anchor="middle" fill="#000" font-weight="normal" font-style="normal" transform="translate(97.40 727.20) scale(1 1.055) translate(-97.40 -727.20)">-120</text>
<text x="149.10" y="727.20" font-family='"Liberation Sans", sans-serif' font-size="15.5" text-anchor="middle" fill="#000" font-weight="normal" font-style="normal" transform="translate(149.10 727.20) scale(1 1.055) translate(-149.10 -727.20)">-80</text>
<text x="200.80" y="727.20" font-family='"Liberation Sans", sans-serif' font-size="15.5" text-anchor="middle" fill="#000" font-weight="normal" font-style="normal" transform="translate(200.80 727.20) scale(1 1.055) translate(-200.80 -727.20)">-40</text>
<text x="252.90" y="727.20" font-family='"Liberation Sans", sans-serif' font-size="15.5" text-anchor="middle" fill="#000" font-weight="normal" font-style="normal" transform="translate(252.90 727.20) scale(1 1.055) translate(-252.90 -727.20)">0</text>
<text x="304.60" y="727.20" font-family='"Liberation Sans", sans-serif' font-size="15.5" text-anchor="middle" fill="#000" font-weight="normal" font-style="normal" transform="translate(304.60 727.20) scale(1 1.055) translate(-304.60 -727.20)">40</text>
<text x="356.30" y="727.20" font-family='"Liberation Sans", sans-serif' font-size="15.5" text-anchor="middle" fill="#000" font-weight="normal" font-style="normal" transform="translate(356.30 727.20) scale(1 1.055) translate(-356.30 -727.20)">80</text>
<text x="408.00" y="727.20" font-family='"Liberation Sans", sans-serif' font-size="15.5" text-anchor="middle" fill="#000" font-weight="normal" font-style="normal" transform="translate(408.00 727.20) scale(1 1.055) translate(-408.00 -727.20)">120</text>
<text x="252.70" y="754.60" font-family='"Liberation Sans", sans-serif' font-size="15.8" text-anchor="middle" fill="#000" font-weight="normal" font-style="normal" transform="translate(252.70 754.60) scale(1 1.055) translate(-252.70 -754.60)">Raman shift (cm<tspan font-size="10.5" dy="-6">-1</tspan><tspan dy="6">)</tspan></text>
<text x="77.60" y="560.15" font-family='"Liberation Sans", sans-serif' font-size="15.8" text-anchor="middle" fill="#000" font-weight="normal" font-style="normal" transform="rotate(-90 77.60 560.15) translate(77.60 560.15) scale(1 1.055) translate(-77.60 -560.15)">Normalized intensity (a.u.)</text>
<text x="33.30" y="406.30" font-family='"Liberation Sans", sans-serif' font-size="25.5" text-anchor="start" fill="#000" font-weight="bold" font-style="normal" transform="translate(33.30 406.30) scale(1 1.055) translate(-33.30 -406.30)">c</text>
<text x="92.30" y="430.50" font-family='"Liberation Sans", sans-serif' font-size="15.5" text-anchor="start" fill="#000" font-weight="normal" font-style="normal" transform="translate(92.30 430.50) scale(1 1.055) translate(-92.30 -430.50)" textLength="127.2" lengthAdjust="spacing">AuNCs/<tspan font-style="italic">N</tspan>LG, Exp.</text>
<text x="92.30" y="451.80" font-family='"Liberation Sans", sans-serif' font-size="15.5" text-anchor="start" fill="#000" font-weight="normal" font-style="normal" transform="translate(92.30 451.80) scale(1 1.055) translate(-92.30 -451.80)"><tspan font-family='"Liberation Serif", serif' font-style="italic" font-size="17.5">λ</tspan><tspan font-size="11.5" dy="4.2" dx="0.6">L</tspan><tspan dy="-4.2" dx="0.8">=633nm</tspan></text>
<text x="254.30" y="438.80" font-family='"Liberation Sans", sans-serif' font-size="15.5" text-anchor="start" fill="#2146f2" font-weight="normal" font-style="normal" transform="translate(254.30 438.80) scale(1 1.055) translate(-254.30 -438.80)">IM</text>
<text x="268.00" y="454.20" font-family='"Liberation Sans", sans-serif' font-size="15.5" text-anchor="start" fill="#0b6b47" font-weight="normal" font-style="normal" transform="translate(268.00 454.20) scale(1 1.055) translate(-268.00 -454.20)"><tspan font-style="italic">j</tspan>=1</text>
<text x="282.30" y="470.00" font-family='"Liberation Sans", sans-serif' font-size="15.5" text-anchor="start" fill="#0b6b47" font-weight="normal" font-style="normal" transform="translate(282.30 470.00) scale(1 1.055) translate(-282.30 -470.00)">2</text>
<text x="292.80" y="489.20" font-family='"Liberation Sans", sans-serif' font-size="15.5" text-anchor="start" fill="#0b6b47" font-weight="normal" font-style="normal" transform="translate(292.80 489.20) scale(1 1.055) translate(-292.80 -489.20)">3</text>
<text x="305.80" y="503.20" font-family='"Liberation Sans", sans-serif' font-size="15.5" text-anchor="start" fill="#0b6b47" font-weight="normal" font-style="normal" transform="translate(305.80 503.20) scale(1 1.055) translate(-305.80 -503.20)">4</text>
<text x="320.80" y="508.80" font-family='"Liberation Sans", sans-serif' font-size="15.5" text-anchor="start" fill="#0b6b47" font-weight="normal" font-style="normal" transform="translate(320.80 508.80) scale(1 1.055) translate(-320.80 -508.80)">5</text>
<text x="310.60" y="466.30" font-family='"Liberation Sans", sans-serif' font-size="15.5" text-anchor="start" fill="#0e680e" font-weight="normal" font-style="normal" transform="translate(310.60 466.30) scale(1 1.055) translate(-310.60 -466.30)">LB<tspan font-size="10.3" dy="4" font-style="italic">N,N</tspan><tspan font-size="10.3">-j</tspan></text>
<text x="375.00" y="511.30" font-family='"Liberation Sans", sans-serif' font-size="15.5" text-anchor="start" fill="#000" font-weight="normal" font-style="normal" transform="translate(375.00 511.30) scale(1 1.055) translate(-375.00 -511.30)"><tspan font-style="italic">N</tspan>=20</text>
<text x="375.00" y="570.50" font-family='"Liberation Sans", sans-serif' font-size="15.5" text-anchor="start" fill="#000" font-weight="normal" font-style="normal" transform="translate(375.00 570.50) scale(1 1.055) translate(-375.00 -570.50)"><tspan font-style="italic">N</tspan>=15</text>
<text x="375.00" y="624.80" font-family='"Liberation Sans", sans-serif' font-size="15.5" text-anchor="start" fill="#000" font-weight="normal" font-style="normal" transform="translate(375.00 624.80) scale(1 1.055) translate(-375.00 -624.80)"><tspan font-style="italic">N</tspan>=10</text>
<text x="375.00" y="682.20" font-family='"Liberation Sans", sans-serif' font-size="15.5" text-anchor="start" fill="#000" font-weight="normal" font-style="normal" transform="translate(375.00 682.20) scale(1 1.055) translate(-375.00 -682.20)"><tspan font-style="italic">N</tspan>=5</text>
<g clip-path="url(#clipd)">
<path d="M669.9 451.0C670.0 452.5 670.2 448.9 670.5 460.0C670.8 471.1 670.9 498.2 671.7 517.5C672.4 536.8 673.1 556.9 675.0 576.0C676.9 595.1 681.9 622.8 683.3 632.2" fill="none" stroke="#bcbcbc" stroke-width="1.9" stroke-dasharray="7.5 7.5"/>
<path d="M656.7 451.0C656.6 452.5 656.4 448.9 656.1 460.0C655.8 471.1 655.6 498.2 654.9 517.5C654.1 536.8 653.5 556.9 651.6 576.0C649.7 595.1 644.7 622.8 643.3 632.2" fill="none" stroke="#bcbcbc" stroke-width="1.9" stroke-dasharray="7.5 7.5"/>
<path d="M682.4 471.0C682.5 472.5 682.0 468.0 683.0 480.0C684.0 492.0 685.9 521.3 688.7 543.0C691.4 564.7 692.9 586.8 699.5 610.3C706.1 633.8 723.5 672.0 728.3 684.3" fill="none" stroke="#bcbcbc" stroke-width="1.9" stroke-dasharray="7.5 7.5"/>
<path d="M644.2 471.0C644.1 472.5 644.6 468.0 643.6 480.0C642.5 492.0 640.6 521.3 637.9 543.0C635.1 564.7 633.7 586.8 627.1 610.3C620.5 633.8 603.1 672.0 598.3 684.3" fill="none" stroke="#bcbcbc" stroke-width="1.9" stroke-dasharray="7.5 7.5"/>
<path d="M696.1 484.0C696.2 485.5 695.0 480.8 696.7 493.0C698.4 505.2 701.5 535.4 706.2 557.5C710.9 579.6 714.3 602.8 725.0 625.5C735.7 648.2 762.9 682.6 770.5 694.0" fill="none" stroke="#bcbcbc" stroke-width="1.9" stroke-dasharray="7.5 7.5"/>
<path d="M630.5 484.0C630.4 485.5 631.6 480.8 629.9 493.0C628.2 505.2 625.1 535.4 620.4 557.5C615.7 579.6 612.3 602.8 601.6 625.5C590.9 648.2 563.7 682.6 556.1 694.0" fill="none" stroke="#bcbcbc" stroke-width="1.9" stroke-dasharray="7.5 7.5"/>
<path d="M709.4 497.3C709.5 498.8 707.5 494.1 710.0 506.3C712.5 518.5 718.0 549.1 724.5 570.5C731.0 591.9 744.2 622.9 748.8 634.8C753.3 646.7 751.3 640.8 751.8 642.0" fill="none" stroke="#bcbcbc" stroke-width="1.9" stroke-dasharray="7.5 7.5"/>
<path d="M617.2 497.3C617.1 498.8 619.1 494.1 616.6 506.3C614.1 518.5 608.6 549.1 602.1 570.5C595.6 591.9 582.3 622.9 577.8 634.8C573.2 646.7 575.3 640.8 574.8 642.0" fill="none" stroke="#bcbcbc" stroke-width="1.9" stroke-dasharray="7.5 7.5"/>
<path d="M722.4 504.0C722.5 505.5 720.0 501.2 723.0 513.0C726.0 524.8 732.7 554.2 740.5 575.0C748.3 595.8 765.1 627.5 770.0 638.0" fill="none" stroke="#bcbcbc" stroke-width="1.9" stroke-dasharray="7.5 7.5"/>
<path d="M604.2 504.0C604.1 505.5 606.6 501.2 603.6 513.0C600.6 524.8 593.9 554.2 586.1 575.0C578.3 595.8 561.5 627.5 556.6 638.0" fill="none" stroke="#bcbcbc" stroke-width="1.9" stroke-dasharray="7.5 7.5"/>
<path d="M734.9 508.5C735.0 510.0 731.9 505.8 735.5 517.5C739.1 529.2 752.0 565.7 756.3 578.8C760.6 591.9 760.5 593.1 761.3 596.0" fill="none" stroke="#bcbcbc" stroke-width="1.9" stroke-dasharray="7.5 7.5"/>
<path d="M591.7 508.5C591.6 510.0 594.7 505.8 591.1 517.5C587.5 529.2 574.6 565.7 570.3 578.8C566.0 591.9 566.1 593.1 565.3 596.0" fill="none" stroke="#bcbcbc" stroke-width="1.9" stroke-dasharray="7.5 7.5"/>
<path d="M747.4 512.2C747.5 513.7 744.2 509.7 748.0 521.2C751.8 532.7 766.3 571.0 770.0 581.0" fill="none" stroke="#bcbcbc" stroke-width="1.9" stroke-dasharray="7.5 7.5"/>
<path d="M579.2 512.2C579.1 513.7 582.4 509.7 578.6 521.2C574.8 532.7 560.3 571.0 556.6 581.0" fill="none" stroke="#bcbcbc" stroke-width="1.9" stroke-dasharray="7.5 7.5"/>
<polyline points="495.5,699.1 496.1,699.1 496.7,699.1 497.3,699.1 497.9,699.1 498.5,699.1 499.1,699.1 499.7,699.1 500.3,699.1 500.9,699.1 501.5,699.1 502.1,699.1 502.7,699.1 503.3,699.0 503.9,699.0 504.5,699.0 505.1,699.0 505.7,699.0 506.3,699.0 506.9,699.0 507.5,699.0 508.1,699.0 508.7,699.0 509.3,699.0 509.9,699.0 510.5,699.0 511.1,699.0 511.7,699.0 512.3,699.0 512.9,699.0 513.5,699.0 514.1,699.0 514.7,699.0 515.3,699.0 515.9,699.0 516.5,699.0 517.1,699.0 517.7,699.0 518.3,698.9 518.9,698.9 519.5,698.9 520.1,698.9 520.7,698.9 521.3,698.9 521.9,698.9 522.5,698.9 523.1,698.9 523.7,698.9 524.3,698.9 524.9,698.9 525.5,698.9 526.1,698.9 526.7,698.8 527.3,698.8 527.9,698.8 528.5,698.8 529.1,698.8 529.7,698.8 530.3,698.8 530.9,698.8 531.5,698.8 532.1,698.7 532.7,698.7 533.3,698.7 533.9,698.7 534.5,698.7 535.1,698.6 535.7,698.6 536.3,698.6 536.9,698.6 537.5,698.6 538.1,698.5 538.7,698.5 539.3,698.5 539.9,698.4 540.5,698.4 541.1,698.3 541.7,698.3 542.3,698.2 542.9,698.2 543.5,698.1 544.1,698.0 544.7,697.9 545.3,697.8 545.9,697.7 546.5,697.6 547.1,697.5 547.7,697.3 548.3,697.1 548.9,696.9 549.5,696.7 550.1,696.4 550.7,696.2 551.3,695.9 551.9,695.6 552.5,695.3 553.1,695.0 553.7,694.7 554.3,694.4 554.9,694.2 555.5,694.1 556.1,694.0 556.7,694.0 557.3,694.2 557.9,694.3 558.5,694.6 559.1,694.9 559.7,695.1 560.3,695.4 560.9,695.7 561.5,696.0 562.1,696.2 562.7,696.5 563.3,696.7 563.9,696.8 564.5,697.0 565.1,697.1 565.7,697.2 566.3,697.3 566.9,697.4 567.5,697.5 568.1,697.5 568.7,697.6 569.3,697.6 569.9,697.7 570.5,697.7 571.1,697.7 571.7,697.7 572.3,697.7 572.9,697.7 573.5,697.7 574.1,697.7 574.7,697.7 575.3,697.6 575.9,697.6 576.5,697.6 577.1,697.6 577.7,697.5 578.3,697.5 578.9,697.4 579.5,697.4 580.1,697.3 580.7,697.2 581.3,697.1 581.9,697.0 582.5,696.9 583.1,696.8 583.7,696.7 584.3,696.6 584.9,696.4 585.5,696.2 586.1,696.0 586.7,695.8 587.3,695.5 587.9,695.2 588.5,694.8 589.1,694.5 589.7,694.0 590.3,693.5 590.9,692.9 591.5,692.3 592.1,691.6 592.7,690.9 593.3,690.1 593.9,689.2 594.5,688.3 595.1,687.4 595.7,686.5 596.3,685.7 596.9,685.0 597.5,684.6 598.1,684.3 598.7,684.3 599.3,684.6 599.9,685.1 600.5,685.8 601.1,686.6 601.7,687.4 602.3,688.3 602.9,689.1 603.5,689.9 604.1,690.7 604.7,691.3 605.3,692.0 605.9,692.5 606.5,693.0 607.1,693.4 607.7,693.8 608.3,694.1 608.9,694.4 609.5,694.6 610.1,694.8 610.7,695.0 611.3,695.1 611.9,695.2 612.5,695.3 613.1,695.3 613.7,695.4 614.3,695.4 614.9,695.4 615.5,695.4 616.1,695.4 616.7,695.3 617.3,695.3 617.9,695.2 618.5,695.1 619.1,695.1 619.7,695.0 620.3,694.8 620.9,694.7 621.5,694.6 622.1,694.4 622.7,694.2 623.3,694.0 623.9,693.8 624.5,693.6 625.1,693.3 625.7,693.0 626.3,692.7 626.9,692.3 627.5,691.9 628.1,691.5 628.7,690.9 629.3,690.4 629.9,689.7 630.5,689.0 631.1,688.1 631.7,687.1 632.3,686.0 632.9,684.7 633.5,683.3 634.1,681.6 634.7,679.6 635.3,677.4 635.9,674.9 636.5,672.0 637.1,668.8 637.7,665.3 638.3,661.3 638.9,657.1 639.5,652.7 640.1,648.1 640.7,643.6 641.3,639.4 641.9,636.0 642.5,633.5 643.1,632.3 643.7,632.5 644.3,634.1 644.9,636.9 645.5,640.6 646.1,644.8 646.7,649.3 647.3,653.8 647.9,658.1 648.5,662.2 649.1,665.9 649.7,669.3 650.3,672.3 650.9,675.0 651.5,677.4 652.1,679.4 652.7,681.2 653.3,682.8 653.9,684.1 654.5,685.2 655.1,686.2 655.7,687.1 656.3,687.8 656.9,688.4 657.5,688.9 658.1,689.4 658.7,689.7 659.3,690.1 659.9,690.3 660.5,690.5 661.1,690.7 661.7,690.8 662.3,690.9 662.9,690.9 663.5,690.9 664.1,690.9 664.7,690.8 665.3,690.7 665.9,690.6 666.5,690.4 667.1,690.1 667.7,689.9 668.3,689.5 668.9,689.1 669.5,688.6 670.1,688.0 670.7,687.3 671.3,686.5 671.9,685.6 672.5,684.5 673.1,683.2 673.7,681.8 674.3,680.1 674.9,678.1 675.5,675.8 676.1,673.3 676.7,670.4 677.3,667.1 677.9,663.5 678.5,659.5 679.1,655.3 679.7,650.8 680.3,646.3 680.9,641.9 681.5,638.0 682.1,634.9 682.7,632.9 683.3,632.2 683.9,632.9 684.5,635.0 685.1,638.2 685.7,642.1 686.3,646.6 686.9,651.1 687.5,655.7 688.1,660.0 688.7,664.0 689.3,667.7 689.9,671.0 690.5,674.0 691.1,676.6 691.7,678.9 692.3,680.9 692.9,682.7 693.5,684.3 694.1,685.6 694.7,686.8 695.3,687.8 695.9,688.7 696.5,689.5 697.1,690.2 697.7,690.8 698.3,691.3 698.9,691.8 699.5,692.2 700.1,692.6 700.7,692.9 701.3,693.2 701.9,693.5 702.5,693.7 703.1,694.0 703.7,694.2 704.3,694.4 704.9,694.5 705.5,694.7 706.1,694.8 706.7,694.9 707.3,695.0 707.9,695.1 708.5,695.2 709.1,695.3 709.7,695.3 710.3,695.4 710.9,695.4 711.5,695.4 712.1,695.4 712.7,695.4 713.3,695.3 713.9,695.3 714.5,695.2 715.1,695.1 715.7,695.0 716.3,694.8 716.9,694.7 717.5,694.5 718.1,694.2 718.7,693.9 719.3,693.5 719.9,693.1 720.5,692.7 721.1,692.2 721.7,691.6 722.3,690.9 722.9,690.2 723.5,689.4 724.1,688.6 724.7,687.7 725.3,686.8 725.9,686.0 726.5,685.3 727.1,684.8 727.7,684.4 728.3,684.3 728.9,684.5 729.5,684.9 730.1,685.5 730.7,686.2 731.3,687.1 731.9,688.0 732.5,688.9 733.1,689.8 733.7,690.6 734.3,691.4 734.9,692.1 735.5,692.7 736.1,693.3 736.7,693.8 737.3,694.3 737.9,694.7 738.5,695.1 739.1,695.4 739.7,695.7 740.3,695.9 740.9,696.1 741.5,696.3 742.1,696.5 742.7,696.7 743.3,696.8 743.9,696.9 744.5,697.0 745.1,697.1 745.7,697.2 746.3,697.3 746.9,697.3 747.5,697.4 748.1,697.4 748.7,697.5 749.3,697.5 749.9,697.6 750.5,697.6 751.1,697.6 751.7,697.7 752.3,697.7 752.9,697.7 753.5,697.7 754.1,697.7 754.7,697.7 755.3,697.7 755.9,697.7 756.5,697.7 757.1,697.6 757.7,697.6 758.3,697.6 758.9,697.5 759.5,697.4 760.1,697.4 760.7,697.3 761.3,697.2 761.9,697.0 762.5,696.9 763.1,696.7 763.7,696.5 764.3,696.3 764.9,696.1 765.5,695.8 766.1,695.5 766.7,695.2 767.3,695.0 767.9,694.7 768.5,694.4 769.1,694.2 769.7,694.1 770.3,694.0 770.9,694.0 771.5,694.1 772.1,694.3 772.7,694.6 773.3,694.9 773.9,695.2 774.5,695.5 775.1,695.8 775.7,696.1 776.3,696.4 776.9,696.6 777.5,696.8 778.1,697.1 778.7,697.2 779.3,697.4 779.9,697.6 780.5,697.7 781.1,697.8 781.7,697.9 782.3,698.0 782.9,698.1 783.5,698.2 784.1,698.2 784.7,698.3 785.3,698.3 785.9,698.4 786.5,698.4 787.1,698.5 787.7,698.5 788.3,698.5 788.9,698.5 789.5,698.6 790.1,698.6 790.7,698.6 791.3,698.6 791.9,698.7 792.5,698.7 793.1,698.7 793.7,698.7 794.3,698.7 794.9,698.7 795.5,698.8 796.1,698.8 796.7,698.8 797.3,698.8 797.9,698.8 798.5,698.8 799.1,698.8 799.7,698.8 800.3,698.9 800.9,698.9 801.5,698.9 802.1,698.9 802.7,698.9 803.3,698.9 803.9,698.9 804.5,698.9 805.1,698.9 805.7,698.9 806.3,698.9 806.9,698.9 807.5,698.9 808.1,698.9 808.7,699.0 809.3,699.0 809.9,699.0 810.5,699.0 811.1,699.0 811.7,699.0 812.3,699.0 812.9,699.0 813.5,699.0 814.1,699.0 814.7,699.0 815.3,699.0 815.9,699.0 816.5,699.0 817.1,699.0 817.7,699.0 818.3,699.0 818.9,699.0 819.5,699.0 820.1,699.0 820.7,699.0 821.3,699.0 821.9,699.0 822.5,699.0 823.1,699.0 823.7,699.1 824.3,699.1 824.9,699.1 825.5,699.1 826.1,699.1 826.7,699.1 827.3,699.1 827.9,699.1 828.5,699.1 829.1,699.1 829.7,699.1 830.3,699.1 830.9,699.1 831.5,699.1" fill="none" stroke="#1450b4" stroke-width="2.0" stroke-linejoin="round" stroke-linecap="round"/>
<polyline points="495.5,642.2 496.1,642.2 496.7,642.2 497.3,642.2 497.9,642.2 498.5,642.2 499.1,642.2 499.7,642.2 500.3,642.2 500.9,642.2 501.5,642.2 502.1,642.2 502.7,642.1 503.3,642.1 503.9,642.1 504.5,642.1 505.1,642.1 505.7,642.1 506.3,642.1 506.9,642.1 507.5,642.1 508.1,642.1 508.7,642.1 509.3,642.1 509.9,642.1 510.5,642.1 511.1,642.1 511.7,642.1 512.3,642.1 512.9,642.1 513.5,642.1 514.1,642.1 514.7,642.1 515.3,642.1 515.9,642.1 516.5,642.1 517.1,642.1 517.7,642.1 518.3,642.1 518.9,642.1 519.5,642.1 520.1,642.1 520.7,642.1 521.3,642.1 521.9,642.1 522.5,642.1 523.1,642.1 523.7,642.1 524.3,642.1 524.9,642.1 525.5,642.0 526.1,642.0 526.7,642.0 527.3,642.0 527.9,642.0 528.5,642.0 529.1,642.0 529.7,642.0 530.3,642.0 530.9,642.0 531.5,642.0 532.1,642.0 532.7,642.0 533.3,642.0 533.9,642.0 534.5,642.0 535.1,641.9 535.7,641.9 536.3,641.9 536.9,641.9 537.5,641.9 538.1,641.9 538.7,641.9 539.3,641.9 539.9,641.8 540.5,641.8 541.1,641.8 541.7,641.8 542.3,641.8 542.9,641.7 543.5,641.7 544.1,641.7 544.7,641.6 545.3,641.6 545.9,641.6 546.5,641.5 547.1,641.4 547.7,641.4 548.3,641.3 548.9,641.2 549.5,641.1 550.1,640.9 550.7,640.8 551.3,640.6 551.9,640.3 552.5,640.0 553.1,639.7 553.7,639.3 554.3,639.0 554.9,638.6 555.5,638.3 556.1,638.1 556.7,638.0 557.3,638.1 557.9,638.3 558.5,638.6 559.1,639.0 559.7,639.3 560.3,639.6 560.9,639.9 561.5,640.1 562.1,640.3 562.7,640.4 563.3,640.6 563.9,640.7 564.5,640.7 565.1,640.7 565.7,640.8 566.3,640.8 566.9,640.7 567.5,640.7 568.1,640.6 568.7,640.5 569.3,640.4 569.9,640.3 570.5,640.1 571.1,639.9 571.7,639.6 572.3,639.3 572.9,638.9 573.5,638.5 574.1,637.9 574.7,637.3 575.3,636.7 575.9,636.0 576.5,635.4 577.1,635.0 577.7,634.8 578.3,634.9 578.9,635.2 579.5,635.7 580.1,636.3 580.7,636.9 581.3,637.5 581.9,638.0 582.5,638.5 583.1,638.8 583.7,639.1 584.3,639.4 584.9,639.6 585.5,639.7 586.1,639.8 586.7,639.8 587.3,639.9 587.9,639.9 588.5,639.9 589.1,639.8 589.7,639.7 590.3,639.6 590.9,639.5 591.5,639.4 592.1,639.2 592.7,638.9 593.3,638.6 593.9,638.2 594.5,637.8 595.1,637.2 595.7,636.5 596.3,635.7 596.9,634.8 597.5,633.6 598.1,632.3 598.7,630.9 599.3,629.4 599.9,627.9 600.5,626.6 601.1,625.8 601.7,625.5 602.3,625.9 602.9,626.9 603.5,628.2 604.1,629.6 604.7,631.1 605.3,632.4 605.9,633.6 606.5,634.6 607.1,635.5 607.7,636.2 608.3,636.8 608.9,637.2 609.5,637.6 610.1,637.8 610.7,638.0 611.3,638.2 611.9,638.2 612.5,638.3 613.1,638.3 613.7,638.3 614.3,638.2 614.9,638.1 615.5,637.9 616.1,637.7 616.7,637.5 617.3,637.1 617.9,636.8 618.5,636.3 619.1,635.7 619.7,635.0 620.3,634.1 620.9,632.9 621.5,631.6 622.1,629.9 622.7,627.9 623.3,625.5 623.9,622.8 624.5,619.9 625.1,616.8 625.7,613.9 626.3,611.6 626.9,610.4 627.5,610.6 628.1,612.1 628.7,614.5 629.3,617.4 629.9,620.4 630.5,623.2 631.1,625.7 631.7,627.8 632.3,629.6 632.9,631.0 633.5,632.2 634.1,633.1 634.7,633.8 635.3,634.3 635.9,634.7 636.5,634.9 637.1,635.1 637.7,635.1 638.3,635.1 638.9,635.0 639.5,634.8 640.1,634.5 640.7,634.2 641.3,633.7 641.9,633.1 642.5,632.4 643.1,631.5 643.7,630.3 644.3,628.8 644.9,627.0 645.5,624.8 646.1,621.9 646.7,618.4 647.3,614.2 647.9,609.1 648.5,603.2 649.1,596.6 649.7,589.6 650.3,583.2 650.9,578.3 651.5,576.1 652.1,577.1 652.7,581.2 653.3,587.2 653.9,594.0 654.5,600.7 655.1,606.8 655.7,612.0 656.3,616.5 656.9,620.1 657.5,623.1 658.1,625.4 658.7,627.2 659.3,628.7 659.9,629.8 660.5,630.6 661.1,631.2 661.7,631.7 662.3,632.0 662.9,632.1 663.5,632.2 664.1,632.0 664.7,631.8 665.3,631.4 665.9,630.9 666.5,630.1 667.1,629.1 667.7,627.8 668.3,626.1 668.9,623.9 669.5,621.2 670.1,617.8 670.7,613.6 671.3,608.6 671.9,602.8 672.5,596.2 673.1,589.4 673.7,583.0 674.3,578.2 674.9,576.0 675.5,577.2 676.1,581.3 676.7,587.4 677.3,594.3 677.9,601.0 678.5,607.2 679.1,612.6 679.7,617.1 680.3,620.8 680.9,623.9 681.5,626.3 682.1,628.3 682.7,629.8 683.3,631.1 683.9,632.1 684.5,632.9 685.1,633.5 685.7,634.0 686.3,634.4 686.9,634.7 687.5,634.9 688.1,635.1 688.7,635.1 689.3,635.1 689.9,635.0 690.5,634.7 691.1,634.4 691.7,633.9 692.3,633.3 692.9,632.5 693.5,631.4 694.1,630.1 694.7,628.4 695.3,626.4 695.9,624.1 696.5,621.4 697.1,618.4 697.7,615.5 698.3,612.8 698.9,610.9 699.5,610.3 700.1,611.0 700.7,613.0 701.3,615.8 701.9,618.8 702.5,621.9 703.1,624.7 703.7,627.2 704.3,629.3 704.9,631.0 705.5,632.5 706.1,633.7 706.7,634.7 707.3,635.5 707.9,636.1 708.5,636.6 709.1,637.0 709.7,637.4 710.3,637.6 710.9,637.9 711.5,638.0 712.1,638.1 712.7,638.2 713.3,638.3 713.9,638.3 714.5,638.3 715.1,638.2 715.7,638.1 716.3,637.9 716.9,637.7 717.5,637.3 718.1,636.9 718.7,636.4 719.3,635.7 719.9,634.9 720.5,634.0 721.1,632.9 721.7,631.6 722.3,630.1 722.9,628.7 723.5,627.3 724.1,626.2 724.7,625.6 725.3,625.6 725.9,626.3 726.5,627.4 727.1,628.8 727.7,630.4 728.3,631.9 728.9,633.2 729.5,634.4 730.1,635.4 730.7,636.3 731.3,637.0 731.9,637.6 732.5,638.1 733.1,638.5 733.7,638.8 734.3,639.1 734.9,639.3 735.5,639.5 736.1,639.6 736.7,639.7 737.3,639.8 737.9,639.8 738.5,639.9 739.1,639.9 739.7,639.9 740.3,639.8 740.9,639.7 741.5,639.6 742.1,639.4 742.7,639.2 743.3,638.9 743.9,638.6 744.5,638.2 745.1,637.7 745.7,637.1 746.3,636.5 746.9,635.9 747.5,635.4 748.1,635.0 748.7,634.8 749.3,634.9 749.9,635.3 750.5,635.8 751.1,636.5 751.7,637.1 752.3,637.7 752.9,638.3 753.5,638.8 754.1,639.2 754.7,639.5 755.3,639.8 755.9,640.0 756.5,640.2 757.1,640.4 757.7,640.5 758.3,640.6 758.9,640.7 759.5,640.7 760.1,640.7 760.7,640.8 761.3,640.8 761.9,640.7 762.5,640.7 763.1,640.6 763.7,640.5 764.3,640.4 764.9,640.2 765.5,640.0 766.1,639.7 766.7,639.4 767.3,639.1 767.9,638.7 768.5,638.4 769.1,638.1 769.7,638.0 770.3,638.0 770.9,638.2 771.5,638.5 772.1,638.8 772.7,639.2 773.3,639.6 773.9,639.9 774.5,640.2 775.1,640.5 775.7,640.7 776.3,640.9 776.9,641.0 777.5,641.2 778.1,641.3 778.7,641.4 779.3,641.4 779.9,641.5 780.5,641.5 781.1,641.6 781.7,641.6 782.3,641.7 782.9,641.7 783.5,641.7 784.1,641.8 784.7,641.8 785.3,641.8 785.9,641.8 786.5,641.8 787.1,641.9 787.7,641.9 788.3,641.9 788.9,641.9 789.5,641.9 790.1,641.9 790.7,641.9 791.3,641.9 791.9,641.9 792.5,642.0 793.1,642.0 793.7,642.0 794.3,642.0 794.9,642.0 795.5,642.0 796.1,642.0 796.7,642.0 797.3,642.0 797.9,642.0 798.5,642.0 799.1,642.0 799.7,642.0 800.3,642.0 800.9,642.0 801.5,642.0 802.1,642.1 802.7,642.1 803.3,642.1 803.9,642.1 804.5,642.1 805.1,642.1 805.7,642.1 806.3,642.1 806.9,642.1 807.5,642.1 808.1,642.1 808.7,642.1 809.3,642.1 809.9,642.1 810.5,642.1 811.1,642.1 811.7,642.1 812.3,642.1 812.9,642.1 813.5,642.1 814.1,642.1 814.7,642.1 815.3,642.1 815.9,642.1 816.5,642.1 817.1,642.1 817.7,642.1 818.3,642.1 818.9,642.1 819.5,642.1 820.1,642.1 820.7,642.1 821.3,642.1 821.9,642.1 822.5,642.1 823.1,642.1 823.7,642.1 824.3,642.2 824.9,642.2 825.5,642.2 826.1,642.2 826.7,642.2 827.3,642.2 827.9,642.2 828.5,642.2 829.1,642.2 829.7,642.2 830.3,642.2 830.9,642.2 831.5,642.2" fill="none" stroke="#45307f" stroke-width="2.0" stroke-linejoin="round" stroke-linecap="round"/>
<polyline points="495.5,584.9 496.1,584.9 496.7,584.9 497.3,584.9 497.9,584.9 498.5,584.9 499.1,584.9 499.7,584.9 500.3,584.9 500.9,584.9 501.5,584.9 502.1,584.9 502.7,584.9 503.3,584.9 503.9,584.9 504.5,584.9 505.1,584.9 505.7,584.9 506.3,584.9 506.9,584.9 507.5,584.9 508.1,584.9 508.7,584.9 509.3,584.9 509.9,584.9 510.5,584.9 511.1,584.9 511.7,584.9 512.3,584.9 512.9,584.9 513.5,584.9 514.1,584.9 514.7,584.9 515.3,584.9 515.9,584.9 516.5,584.9 517.1,584.9 517.7,584.9 518.3,584.9 518.9,584.9 519.5,584.9 520.1,584.9 520.7,584.9 521.3,584.9 521.9,584.8 522.5,584.8 523.1,584.8 523.7,584.8 524.3,584.8 524.9,584.8 525.5,584.8 526.1,584.8 526.7,584.8 527.3,584.8 527.9,584.8 528.5,584.8 529.1,584.8 529.7,584.8 530.3,584.8 530.9,584.8 531.5,584.8 532.1,584.8 532.7,584.8 533.3,584.8 533.9,584.8 534.5,584.8 535.1,584.8 535.7,584.8 536.3,584.8 536.9,584.8 537.5,584.7 538.1,584.7 538.7,584.7 539.3,584.7 539.9,584.7 540.5,584.7 541.1,584.7 541.7,584.7 542.3,584.7 542.9,584.7 543.5,584.6 544.1,584.6 544.7,584.6 545.3,584.6 545.9,584.6 546.5,584.5 547.1,584.5 547.7,584.5 548.3,584.4 548.9,584.4 549.5,584.3 550.1,584.2 550.7,584.1 551.3,584.0 551.9,583.8 552.5,583.6 553.1,583.3 553.7,583.0 554.3,582.5 554.9,582.0 555.5,581.5 556.1,581.1 556.7,581.0 557.3,581.2 557.9,581.6 558.5,582.1 559.1,582.5 559.7,582.9 560.3,583.2 560.9,583.4 561.5,583.5 562.1,583.6 562.7,583.6 563.3,583.6 563.9,583.5 564.5,583.4 565.1,583.3 565.7,583.0 566.3,582.7 566.9,582.3 567.5,581.7 568.1,581.0 568.7,580.2 569.3,579.5 569.9,578.9 570.5,578.8 571.1,579.2 571.7,579.9 572.3,580.7 572.9,581.4 573.5,581.9 574.1,582.4 574.7,582.7 575.3,582.9 575.9,583.1 576.5,583.2 577.1,583.2 577.7,583.2 578.3,583.2 578.9,583.1 579.5,583.0 580.1,582.8 580.7,582.5 581.3,582.2 581.9,581.7 582.5,581.0 583.1,580.1 583.7,579.1 584.3,577.8 584.9,576.5 585.5,575.4 586.1,575.0 586.7,575.4 587.3,576.4 587.9,577.7 588.5,578.9 589.1,579.9 589.7,580.7 590.3,581.3 590.9,581.8 591.5,582.1 592.1,582.3 592.7,582.4 593.3,582.4 593.9,582.4 594.5,582.3 595.1,582.2 595.7,582.0 596.3,581.7 596.9,581.3 597.5,580.7 598.1,579.9 598.7,578.8 599.3,577.5 599.9,575.8 600.5,573.9 601.1,572.1 601.7,570.8 602.3,570.6 602.9,571.5 603.5,573.2 604.1,575.0 604.7,576.7 605.3,578.1 605.9,579.2 606.5,580.0 607.1,580.6 607.7,581.1 608.3,581.3 608.9,581.5 609.5,581.6 610.1,581.6 610.7,581.6 611.3,581.5 611.9,581.3 612.5,581.1 613.1,580.8 613.7,580.4 614.3,579.8 614.9,579.0 615.5,578.0 616.1,576.6 616.7,574.8 617.3,572.5 617.9,569.5 618.5,566.0 619.1,562.3 619.7,559.1 620.3,557.5 620.9,558.3 621.5,560.9 622.1,564.5 622.7,568.0 623.3,571.0 623.9,573.5 624.5,575.3 625.1,576.7 625.7,577.7 626.3,578.4 626.9,578.8 627.5,579.1 628.1,579.2 628.7,579.2 629.3,579.0 629.9,578.8 630.5,578.4 631.1,577.8 631.7,577.1 632.3,576.0 632.9,574.5 633.5,572.6 634.1,570.0 634.7,566.5 635.3,562.2 635.9,557.0 636.5,551.3 637.1,546.1 637.7,543.2 638.3,543.8 638.9,547.5 639.5,552.8 640.1,558.2 640.7,563.0 641.3,566.9 641.9,569.9 642.5,572.1 643.1,573.6 643.7,574.7 644.3,575.4 644.9,575.8 645.5,575.9 646.1,575.8 646.7,575.6 647.3,575.1 647.9,574.3 648.5,573.2 649.1,571.7 649.7,569.6 650.3,566.7 650.9,562.9 651.5,557.7 652.1,551.2 652.7,543.1 653.3,534.0 653.9,525.1 654.5,518.9 655.1,517.8 655.7,522.4 656.3,530.7 656.9,539.8 657.5,548.3 658.1,555.2 658.7,560.7 659.3,564.8 659.9,567.9 660.5,570.1 661.1,571.6 661.7,572.6 662.3,573.3 662.9,573.6 663.5,573.6 664.1,573.4 664.7,572.9 665.3,572.0 665.9,570.6 666.5,568.7 667.1,566.0 667.7,562.2 668.3,557.2 668.9,550.7 669.5,542.8 670.1,533.7 670.7,524.9 671.3,518.8 671.9,517.9 672.5,522.6 673.1,530.9 673.7,540.1 674.3,548.6 674.9,555.7 675.5,561.3 676.1,565.6 676.7,568.7 677.3,571.1 677.9,572.8 678.5,574.0 679.1,574.8 679.7,575.4 680.3,575.8 680.9,575.9 681.5,575.8 682.1,575.5 682.7,575.0 683.3,574.0 683.9,572.6 684.5,570.7 685.1,568.0 685.7,564.4 686.3,559.9 686.9,554.6 687.5,549.1 688.1,544.7 688.7,543.0 689.3,544.8 689.9,549.4 690.5,555.1 691.1,560.5 691.7,565.2 692.3,568.9 692.9,571.8 693.5,574.0 694.1,575.6 694.7,576.7 695.3,577.6 695.9,578.2 696.5,578.7 697.1,579.0 697.7,579.1 698.3,579.2 698.9,579.1 699.5,578.9 700.1,578.5 700.7,577.9 701.3,577.1 701.9,575.8 702.5,574.2 703.1,571.9 703.7,569.1 704.3,565.7 704.9,562.1 705.5,559.0 706.1,557.5 706.7,558.4 707.3,561.1 707.9,564.8 708.5,568.4 709.1,571.6 709.7,574.1 710.3,576.1 710.9,577.6 711.5,578.7 712.1,579.6 712.7,580.2 713.3,580.6 713.9,581.0 714.5,581.2 715.1,581.4 715.7,581.5 716.3,581.6 716.9,581.6 717.5,581.5 718.1,581.4 718.7,581.2 719.3,580.8 719.9,580.3 720.5,579.5 721.1,578.5 721.7,577.2 722.3,575.6 722.9,573.8 723.5,572.0 724.1,570.8 724.7,570.6 725.3,571.6 725.9,573.3 726.5,575.2 727.1,576.9 727.7,578.4 728.3,579.6 728.9,580.4 729.5,581.1 730.1,581.6 730.7,581.9 731.3,582.1 731.9,582.3 732.5,582.4 733.1,582.4 733.7,582.4 734.3,582.3 734.9,582.1 735.5,581.9 736.1,581.5 736.7,580.9 737.3,580.2 737.9,579.2 738.5,578.1 739.1,576.8 739.7,575.7 740.3,575.0 740.9,575.2 741.5,576.1 742.1,577.4 742.7,578.7 743.3,579.8 743.9,580.7 744.5,581.5 745.1,582.0 745.7,582.4 746.3,582.7 746.9,582.9 747.5,583.1 748.1,583.2 748.7,583.2 749.3,583.2 749.9,583.2 750.5,583.1 751.1,583.0 751.7,582.8 752.3,582.5 752.9,582.1 753.5,581.6 754.1,580.9 754.7,580.2 755.3,579.4 755.9,578.9 756.5,578.8 757.1,579.2 757.7,580.0 758.3,580.8 758.9,581.5 759.5,582.1 760.1,582.6 760.7,582.9 761.3,583.2 761.9,583.4 762.5,583.5 763.1,583.6 763.7,583.6 764.3,583.6 764.9,583.5 765.5,583.4 766.1,583.2 766.7,583.0 767.3,582.7 767.9,582.2 768.5,581.8 769.1,581.3 769.7,581.0 770.3,581.1 770.9,581.4 771.5,581.9 772.1,582.4 772.7,582.8 773.3,583.2 773.9,583.5 774.5,583.8 775.1,584.0 775.7,584.1 776.3,584.2 776.9,584.3 777.5,584.4 778.1,584.4 778.7,584.5 779.3,584.5 779.9,584.5 780.5,584.6 781.1,584.6 781.7,584.6 782.3,584.6 782.9,584.6 783.5,584.7 784.1,584.7 784.7,584.7 785.3,584.7 785.9,584.7 786.5,584.7 787.1,584.7 787.7,584.7 788.3,584.7 788.9,584.7 789.5,584.8 790.1,584.8 790.7,584.8 791.3,584.8 791.9,584.8 792.5,584.8 793.1,584.8 793.7,584.8 794.3,584.8 794.9,584.8 795.5,584.8 796.1,584.8 796.7,584.8 797.3,584.8 797.9,584.8 798.5,584.8 799.1,584.8 799.7,584.8 800.3,584.8 800.9,584.8 801.5,584.8 802.1,584.8 802.7,584.8 803.3,584.8 803.9,584.8 804.5,584.8 805.1,584.8 805.7,584.9 806.3,584.9 806.9,584.9 807.5,584.9 808.1,584.9 808.7,584.9 809.3,584.9 809.9,584.9 810.5,584.9 811.1,584.9 811.7,584.9 812.3,584.9 812.9,584.9 813.5,584.9 814.1,584.9 814.7,584.9 815.3,584.9 815.9,584.9 816.5,584.9 817.1,584.9 817.7,584.9 818.3,584.9 818.9,584.9 819.5,584.9 820.1,584.9 820.7,584.9 821.3,584.9 821.9,584.9 822.5,584.9 823.1,584.9 823.7,584.9 824.3,584.9 824.9,584.9 825.5,584.9 826.1,584.9 826.7,584.9 827.3,584.9 827.9,584.9 828.5,584.9 829.1,584.9 829.7,584.9 830.3,584.9 830.9,584.9 831.5,584.9" fill="none" stroke="#7c1f4f" stroke-width="2.0" stroke-linejoin="round" stroke-linecap="round"/>
<polyline points="495.5,527.9 496.1,527.9 496.7,527.9 497.3,527.9 497.9,527.9 498.5,527.9 499.1,527.9 499.7,527.9 500.3,527.9 500.9,527.9 501.5,527.9 502.1,527.9 502.7,527.9 503.3,527.9 503.9,527.9 504.5,527.9 505.1,527.9 505.7,527.9 506.3,527.9 506.9,527.9 507.5,527.9 508.1,527.9 508.7,527.9 509.3,527.9 509.9,527.9 510.5,527.9 511.1,527.9 511.7,527.9 512.3,527.9 512.9,527.9 513.5,527.9 514.1,527.9 514.7,527.9 515.3,527.9 515.9,527.9 516.5,527.9 517.1,527.9 517.7,527.9 518.3,527.9 518.9,527.9 519.5,527.9 520.1,527.9 520.7,527.9 521.3,527.9 521.9,527.9 522.5,527.9 523.1,527.9 523.7,527.9 524.3,527.9 524.9,527.9 525.5,527.9 526.1,527.9 526.7,527.9 527.3,527.9 527.9,527.9 528.5,527.9 529.1,527.9 529.7,527.9 530.3,527.8 530.9,527.8 531.5,527.8 532.1,527.8 532.7,527.8 533.3,527.8 533.9,527.8 534.5,527.8 535.1,527.8 535.7,527.8 536.3,527.8 536.9,527.8 537.5,527.8 538.1,527.8 538.7,527.8 539.3,527.8 539.9,527.8 540.5,527.8 541.1,527.8 541.7,527.8 542.3,527.8 542.9,527.7 543.5,527.7 544.1,527.7 544.7,527.7 545.3,527.7 545.9,527.7 546.5,527.7 547.1,527.6 547.7,527.6 548.3,527.6 548.9,527.6 549.5,527.5 550.1,527.5 550.7,527.4 551.3,527.3 551.9,527.2 552.5,527.1 553.1,526.9 553.7,526.6 554.3,526.2 554.9,525.7 555.5,525.1 556.1,524.7 556.7,524.5 557.3,524.7 557.9,525.2 558.5,525.7 559.1,526.1 559.7,526.4 560.3,526.6 560.9,526.7 561.5,526.7 562.1,526.7 562.7,526.6 563.3,526.4 563.9,526.2 564.5,525.8 565.1,525.2 565.7,524.5 566.3,523.7 566.9,523.1 567.5,523.0 568.1,523.5 568.7,524.2 569.3,524.9 569.9,525.5 570.5,525.9 571.1,526.1 571.7,526.3 572.3,526.4 572.9,526.4 573.5,526.3 574.1,526.1 574.7,525.9 575.3,525.5 575.9,524.9 576.5,524.1 577.1,523.1 577.7,522.1 578.3,521.3 578.9,521.3 579.5,522.0 580.1,523.0 580.7,524.0 581.3,524.7 581.9,525.3 582.5,525.6 583.1,525.9 583.7,526.0 584.3,526.0 584.9,526.0 585.5,525.8 586.1,525.6 586.7,525.3 587.3,524.8 587.9,524.1 588.5,523.2 589.1,521.8 589.7,520.2 590.3,518.6 590.9,517.6 591.5,517.8 592.1,519.0 592.7,520.6 593.3,522.1 593.9,523.2 594.5,524.0 595.1,524.6 595.7,524.9 596.3,525.1 596.9,525.1 597.5,525.1 598.1,524.9 598.7,524.6 599.3,524.1 599.9,523.4 600.5,522.3 601.1,520.8 601.7,518.9 602.3,516.5 602.9,514.2 603.5,513.0 604.1,513.6 604.7,515.6 605.3,517.9 605.9,520.0 606.5,521.5 607.1,522.6 607.7,523.4 608.3,523.8 608.9,524.1 609.5,524.2 610.1,524.1 610.7,523.9 611.3,523.6 611.9,523.1 612.5,522.2 613.1,521.0 613.7,519.3 614.3,516.8 614.9,513.7 615.5,510.2 616.1,507.3 616.7,506.3 617.3,508.0 617.9,511.2 618.5,514.5 619.1,517.3 619.7,519.3 620.3,520.7 620.9,521.7 621.5,522.2 622.1,522.5 622.7,522.6 623.3,522.4 623.9,522.1 624.5,521.6 625.1,520.7 625.7,519.4 626.3,517.5 626.9,514.8 627.5,511.0 628.1,506.1 628.7,500.4 629.3,495.2 629.9,493.0 630.5,495.1 631.1,500.1 631.7,505.7 632.3,510.5 632.9,514.1 633.5,516.7 634.1,518.4 634.7,519.5 635.3,520.2 635.9,520.5 636.5,520.5 637.1,520.3 637.7,519.8 638.3,519.0 638.9,517.7 639.5,515.8 640.1,513.1 640.7,509.1 641.3,503.7 641.9,496.7 642.5,488.9 643.1,482.2 643.7,480.1 644.3,483.8 644.9,491.0 645.5,498.5 646.1,504.7 646.7,509.3 647.3,512.5 647.9,514.6 648.5,515.8 649.1,516.4 649.7,516.4 650.3,515.9 650.9,514.8 651.5,513.1 652.1,510.3 652.7,506.2 653.3,500.3 653.9,492.3 654.5,482.0 655.1,470.7 655.7,462.0 656.3,460.5 656.9,467.3 657.5,478.2 658.1,489.1 658.7,497.9 659.3,504.5 659.9,509.2 660.5,512.4 661.1,514.6 661.7,515.9 662.3,516.8 662.9,517.2 663.5,517.2 664.1,516.9 664.7,516.3 665.3,515.1 665.9,513.2 666.5,510.4 667.1,506.3 667.7,500.4 668.3,492.3 668.9,482.0 669.5,470.7 670.1,462.0 670.7,460.5 671.3,467.3 671.9,478.2 672.5,489.0 673.1,497.9 673.7,504.5 674.3,509.1 674.9,512.3 675.5,514.4 676.1,515.6 676.7,516.3 677.3,516.4 677.9,516.0 678.5,515.1 679.1,513.3 679.7,510.5 680.3,506.4 680.9,500.8 681.5,493.6 682.1,486.0 682.7,480.7 683.3,480.8 683.9,486.3 684.5,494.2 685.1,501.6 685.7,507.5 686.3,511.9 686.9,515.0 687.5,517.2 688.1,518.6 688.7,519.6 689.3,520.1 689.9,520.5 690.5,520.5 691.1,520.3 691.7,519.8 692.3,518.8 692.9,517.3 693.5,515.1 694.1,511.8 694.7,507.4 695.3,502.0 695.9,496.6 696.5,493.2 697.1,494.0 697.7,498.5 698.3,504.3 698.9,509.5 699.5,513.7 700.1,516.7 700.7,518.9 701.3,520.3 701.9,521.3 702.5,522.0 703.1,522.4 703.7,522.5 704.3,522.5 704.9,522.3 705.5,521.9 706.1,521.1 706.7,519.9 707.3,518.0 707.9,515.5 708.5,512.3 709.1,509.0 709.7,506.6 710.3,506.7 710.9,509.1 711.5,512.6 712.1,515.9 712.7,518.5 713.3,520.5 713.9,521.9 714.5,522.8 715.1,523.4 715.7,523.8 716.3,524.1 716.9,524.2 717.5,524.1 718.1,523.9 718.7,523.6 719.3,522.9 719.9,522.0 720.5,520.5 721.1,518.6 721.7,516.4 722.3,514.2 722.9,513.0 723.5,513.7 724.1,515.7 724.7,518.1 725.3,520.2 725.9,521.9 726.5,523.1 727.1,523.9 727.7,524.5 728.3,524.8 728.9,525.0 729.5,525.1 730.1,525.1 730.7,525.0 731.3,524.7 731.9,524.3 732.5,523.5 733.1,522.5 733.7,521.2 734.3,519.5 734.9,518.1 735.5,517.5 736.1,518.2 736.7,519.7 737.3,521.3 737.9,522.8 738.5,523.9 739.1,524.6 739.7,525.2 740.3,525.6 740.9,525.8 741.5,525.9 742.1,526.0 742.7,526.0 743.3,525.9 743.9,525.7 744.5,525.4 745.1,524.9 745.7,524.3 746.3,523.4 746.9,522.3 747.5,521.5 748.1,521.2 748.7,521.7 749.3,522.7 749.9,523.8 750.5,524.6 751.1,525.3 751.7,525.8 752.3,526.1 752.9,526.3 753.5,526.4 754.1,526.4 754.7,526.3 755.3,526.2 755.9,526.0 756.5,525.6 757.1,525.1 757.7,524.4 758.3,523.7 758.9,523.1 759.5,523.0 760.1,523.5 760.7,524.3 761.3,525.0 761.9,525.6 762.5,526.1 763.1,526.4 763.7,526.6 764.3,526.7 764.9,526.7 765.5,526.7 766.1,526.7 766.7,526.5 767.3,526.2 767.9,525.9 768.5,525.4 769.1,524.9 769.7,524.5 770.3,524.6 770.9,525.0 771.5,525.5 772.1,526.0 772.7,526.5 773.3,526.8 773.9,527.0 774.5,527.2 775.1,527.3 775.7,527.4 776.3,527.4 776.9,527.5 777.5,527.5 778.1,527.6 778.7,527.6 779.3,527.6 779.9,527.7 780.5,527.7 781.1,527.7 781.7,527.7 782.3,527.7 782.9,527.7 783.5,527.7 784.1,527.7 784.7,527.8 785.3,527.8 785.9,527.8 786.5,527.8 787.1,527.8 787.7,527.8 788.3,527.8 788.9,527.8 789.5,527.8 790.1,527.8 790.7,527.8 791.3,527.8 791.9,527.8 792.5,527.8 793.1,527.8 793.7,527.8 794.3,527.8 794.9,527.8 795.5,527.8 796.1,527.8 796.7,527.9 797.3,527.9 797.9,527.9 798.5,527.9 799.1,527.9 799.7,527.9 800.3,527.9 800.9,527.9 801.5,527.9 802.1,527.9 802.7,527.9 803.3,527.9 803.9,527.9 804.5,527.9 805.1,527.9 805.7,527.9 806.3,527.9 806.9,527.9 807.5,527.9 808.1,527.9 808.7,527.9 809.3,527.9 809.9,527.9 810.5,527.9 811.1,527.9 811.7,527.9 812.3,527.9 812.9,527.9 813.5,527.9 814.1,527.9 814.7,527.9 815.3,527.9 815.9,527.9 816.5,527.9 817.1,527.9 817.7,527.9 818.3,527.9 818.9,527.9 819.5,527.9 820.1,527.9 820.7,527.9 821.3,527.9 821.9,527.9 822.5,527.9 823.1,527.9 823.7,527.9 824.3,527.9 824.9,527.9 825.5,527.9 826.1,527.9 826.7,527.9 827.3,527.9 827.9,527.9 828.5,527.9 829.1,527.9 829.7,527.9 830.3,527.9 830.9,527.9 831.5,527.9" fill="none" stroke="#b00a22" stroke-width="2.0" stroke-linejoin="round" stroke-linecap="round"/>
</g>
<rect x="657.00" y="410.7" width="12.30" height="297.90" fill="url(#hatchd)" fill-opacity="0.87"/>
<path d="M495.50 410.70 L831.50 410.70 L831.50 708.60" fill="none" stroke="#000" stroke-width="1.15"/>
<path d="M495.50 410.20 L495.50 708.60 L832.00 708.60" fill="none" stroke="#000" stroke-width="1.7" stroke-linejoin="miter"/>
<line x1="508.20" y1="708.60" x2="508.20" y2="703.40" stroke="#000" stroke-width="1.1"/>
<line x1="521.12" y1="708.60" x2="521.12" y2="705.70" stroke="#000" stroke-width="1.1"/>
<line x1="534.05" y1="708.60" x2="534.05" y2="705.70" stroke="#000" stroke-width="1.1"/>
<line x1="546.97" y1="708.60" x2="546.97" y2="705.70" stroke="#000" stroke-width="1.1"/>
<line x1="559.90" y1="708.60" x2="559.90" y2="703.40" stroke="#000" stroke-width="1.1"/>
<line x1="572.82" y1="708.60" x2="572.82" y2="705.70" stroke="#000" stroke-width="1.1"/>
<line x1="585.75" y1="708.60" x2="585.75" y2="705.70" stroke="#000" stroke-width="1.1"/>
<line x1="598.67" y1="708.60" x2="598.67" y2="705.70" stroke="#000" stroke-width="1.1"/>
<line x1="611.60" y1="708.60" x2="611.60" y2="703.40" stroke="#000" stroke-width="1.1"/>
<line x1="624.52" y1="708.60" x2="624.52" y2="705.70" stroke="#000" stroke-width="1.1"/>
<line x1="637.45" y1="708.60" x2="637.45" y2="705.70" stroke="#000" stroke-width="1.1"/>
<line x1="650.38" y1="708.60" x2="650.38" y2="705.70" stroke="#000" stroke-width="1.1"/>
<line x1="676.22" y1="708.60" x2="676.22" y2="705.70" stroke="#000" stroke-width="1.1"/>
<line x1="689.15" y1="708.60" x2="689.15" y2="705.70" stroke="#000" stroke-width="1.1"/>
<line x1="702.07" y1="708.60" x2="702.07" y2="705.70" stroke="#000" stroke-width="1.1"/>
<line x1="715.00" y1="708.60" x2="715.00" y2="703.40" stroke="#000" stroke-width="1.1"/>
<line x1="727.92" y1="708.60" x2="727.92" y2="705.70" stroke="#000" stroke-width="1.1"/>
<line x1="740.85" y1="708.60" x2="740.85" y2="705.70" stroke="#000" stroke-width="1.1"/>
<line x1="753.77" y1="708.60" x2="753.77" y2="705.70" stroke="#000" stroke-width="1.1"/>
<line x1="766.70" y1="708.60" x2="766.70" y2="703.40" stroke="#000" stroke-width="1.1"/>
<line x1="779.62" y1="708.60" x2="779.62" y2="705.70" stroke="#000" stroke-width="1.1"/>
<line x1="792.55" y1="708.60" x2="792.55" y2="705.70" stroke="#000" stroke-width="1.1"/>
<line x1="805.47" y1="708.60" x2="805.47" y2="705.70" stroke="#000" stroke-width="1.1"/>
<line x1="818.40" y1="708.60" x2="818.40" y2="703.40" stroke="#000" stroke-width="1.1"/>
<text x="507.80" y="727.20" font-family='"Liberation Sans", sans-serif' font-size="15.5" text-anchor="middle" fill="#000" font-weight="normal" font-style="normal" transform="translate(507.80 727.20) scale(1 1.055) translate(-507.80 -727.20)">-120</text>
<text x="559.50" y="727.20" font-family='"Liberation Sans", sans-serif' font-size="15.5" text-anchor="middle" fill="#000" font-weight="normal" font-style="normal" transform="translate(559.50 727.20) scale(1 1.055) translate(-559.50 -727.20)">-80</text>
<text x="611.20" y="727.20" font-family='"Liberation Sans", sans-serif' font-size="15.5" text-anchor="middle" fill="#000" font-weight="normal" font-style="normal" transform="translate(611.20 727.20) scale(1 1.055) translate(-611.20 -727.20)">-40</text>
<text x="663.30" y="727.20" font-family='"Liberation Sans", sans-serif' font-size="15.5" text-anchor="middle" fill="#000" font-weight="normal" font-style="normal" transform="translate(663.30 727.20) scale(1 1.055) translate(-663.30 -727.20)">0</text>
<text x="715.00" y="727.20" font-family='"Liberation Sans", sans-serif' font-size="15.5" text-anchor="middle" fill="#000" font-weight="normal" font-style="normal" transform="translate(715.00 727.20) scale(1 1.055) translate(-715.00 -727.20)">40</text>
<text x="766.70" y="727.20" font-family='"Liberation Sans", sans-serif' font-size="15.5" text-anchor="middle" fill="#000" font-weight="normal" font-style="normal" transform="translate(766.70 727.20) scale(1 1.055) translate(-766.70 -727.20)">80</text>
<text x="818.40" y="727.20" font-family='"Liberation Sans", sans-serif' font-size="15.5" text-anchor="middle" fill="#000" font-weight="normal" font-style="normal" transform="translate(818.40 727.20) scale(1 1.055) translate(-818.40 -727.20)">120</text>
<text x="663.10" y="754.60" font-family='"Liberation Sans", sans-serif' font-size="15.8" text-anchor="middle" fill="#000" font-weight="normal" font-style="normal" transform="translate(663.10 754.60) scale(1 1.055) translate(-663.10 -754.60)">Raman shift (cm<tspan font-size="10.5" dy="-6">-1</tspan><tspan dy="6">)</tspan></text>
<text x="488.50" y="560.15" font-family='"Liberation Sans", sans-serif' font-size="15.8" text-anchor="middle" fill="#000" font-weight="normal" font-style="normal" transform="rotate(-90 488.50 560.15) translate(488.50 560.15) scale(1 1.055) translate(-488.50 -560.15)">Normalized intensity (a.u.)</text>
<text x="446.00" y="406.30" font-family='"Liberation Sans", sans-serif' font-size="25.5" text-anchor="start" fill="#000" font-weight="bold" font-style="normal" transform="translate(446.00 406.30) scale(1 1.055) translate(-446.00 -406.30)">d</text>
<text x="502.00" y="430.50" font-family='"Liberation Sans", sans-serif' font-size="15.5" text-anchor="start" fill="#000" font-weight="normal" font-style="normal" transform="translate(502.00 430.50) scale(1 1.055) translate(-502.00 -430.50)" textLength="150.6" lengthAdjust="spacing">AuNCs/<tspan font-style="italic">N</tspan>LG, E-IBPM</text>
<text x="502.00" y="451.80" font-family='"Liberation Sans", sans-serif' font-size="15.5" text-anchor="start" fill="#000" font-weight="normal" font-style="normal" transform="translate(502.00 451.80) scale(1 1.055) translate(-502.00 -451.80)"><tspan font-family='"Liberation Serif", serif' font-style="italic" font-size="17.5">λ</tspan><tspan font-size="11.5" dy="4.2" dx="0.6">L</tspan><tspan dy="-4.2" dx="0.8">=633nm</tspan></text>
<text x="664.30" y="446.30" font-family='"Liberation Sans", sans-serif' font-size="15.5" text-anchor="start" fill="#2146f2" font-weight="normal" font-style="normal" transform="translate(664.30 446.30) scale(1 1.055) translate(-664.30 -446.30)" stroke="#2146f2" stroke-width="0.6">IM</text>
<text x="674.30" y="472.60" font-family='"Liberation Sans", sans-serif' font-size="15.5" text-anchor="start" fill="#0b6b47" font-weight="normal" font-style="normal" transform="translate(674.30 472.60) scale(1 1.055) translate(-674.30 -472.60)" stroke="#0b6b47" stroke-width="0.6"><tspan font-style="italic">j</tspan>=1</text>
<text x="692.30" y="488.80" font-family='"Liberation Sans", sans-serif' font-size="15.5" text-anchor="start" fill="#0b6b47" font-weight="normal" font-style="normal" transform="translate(692.30 488.80) scale(1 1.055) translate(-692.30 -488.80)" stroke="#0b6b47" stroke-width="0.6">2</text>
<text x="706.00" y="500.80" font-family='"Liberation Sans", sans-serif' font-size="15.5" text-anchor="start" fill="#0b6b47" font-weight="normal" font-style="normal" transform="translate(706.00 500.80) scale(1 1.055) translate(-706.00 -500.80)" stroke="#0b6b47" stroke-width="0.6">3</text>
<text x="718.50" y="507.60" font-family='"Liberation Sans", sans-serif' font-size="15.5" text-anchor="start" fill="#0b6b47" font-weight="normal" font-style="normal" transform="translate(718.50 507.60) scale(1 1.055) translate(-718.50 -507.60)" stroke="#0b6b47" stroke-width="0.6">4</text>
<text x="732.60" y="510.00" font-family='"Liberation Sans", sans-serif' font-size="15.5" text-anchor="start" fill="#0b6b47" font-weight="normal" font-style="normal" transform="translate(732.60 510.00) scale(1 1.055) translate(-732.60 -510.00)" stroke="#0b6b47" stroke-width="0.6">5</text>
<text x="720.30" y="474.30" font-family='"Liberation Sans", sans-serif' font-size="15.5" text-anchor="start" fill="#0e680e" font-weight="normal" font-style="normal" transform="translate(720.30 474.30) scale(1 1.055) translate(-720.30 -474.30)" stroke="#0e680e" stroke-width="0.6">LB<tspan font-size="10.3" dy="4" font-style="italic" stroke-width="0.25">N,N</tspan><tspan font-size="10.3" stroke-width="0.25">-j</tspan></text>
<text x="783.00" y="516.30" font-family='"Liberation Sans", sans-serif' font-size="15.5" text-anchor="start" fill="#000" font-weight="normal" font-style="normal" transform="translate(783.00 516.30) scale(1 1.055) translate(-783.00 -516.30)"><tspan font-style="italic">N</tspan>=20</text>
<text x="783.00" y="576.30" font-family='"Liberation Sans", sans-serif' font-size="15.5" text-anchor="start" fill="#000" font-weight="normal" font-style="normal" transform="translate(783.00 576.30) scale(1 1.055) translate(-783.00 -576.30)"><tspan font-style="italic">N</tspan>=15</text>
<text x="783.00" y="631.00" font-family='"Liberation Sans", sans-serif' font-size="15.5" text-anchor="start" fill="#000" font-weight="normal" font-style="normal" transform="translate(783.00 631.00) scale(1 1.055) translate(-783.00 -631.00)"><tspan font-style="italic">N</tspan>=10</text>
<text x="783.00" y="688.50" font-family='"Liberation Sans", sans-serif' font-size="15.5" text-anchor="start" fill="#000" font-weight="normal" font-style="normal" transform="translate(783.00 688.50) scale(1 1.055) translate(-783.00 -688.50)"><tspan font-style="italic">N</tspan>=5</text>
<g clip-path="url(#clipf)">
<line x1="1074.90" y1="486.70" x2="1074.90" y2="692.00" stroke="#bcbcbc" stroke-width="1.8" stroke-dasharray="8.5 5.7"/>
<line x1="1102.00" y1="520.00" x2="1102.00" y2="696.00" stroke="#bcbcbc" stroke-width="1.8" stroke-dasharray="8.5 5.7"/>
<line x1="1129.90" y1="536.00" x2="1129.90" y2="704.50" stroke="#bcbcbc" stroke-width="1.8" stroke-dasharray="8.5 5.7"/>
<line x1="1074.90" y1="474.00" x2="1074.90" y2="476.20" stroke="#bcbcbc" stroke-width="1.8"/>
<line x1="1129.90" y1="529.80" x2="1129.90" y2="531.60" stroke="#bcbcbc" stroke-width="1.8"/>
<polyline points="890.5,538.2 891.2,538.2 891.9,538.2 892.6,538.2 893.3,538.4 894.0,538.4 894.7,538.2 895.4,538.1 896.1,538.2 896.8,538.4 897.5,538.5 898.2,538.5 898.9,538.3 899.6,538.4 900.3,538.6 901.0,538.7 901.7,538.7 902.4,538.7 903.1,539.0 903.8,539.1 904.5,539.0 905.2,539.0 905.9,538.9 906.6,538.7 907.3,538.6 908.0,538.8 908.7,539.0 909.4,538.7 910.1,538.4 910.8,538.5 911.5,538.6 912.2,538.6 912.9,538.8 913.6,538.8 914.3,538.8 915.0,538.8 915.7,538.5 916.4,538.4 917.1,538.5 917.8,538.5 918.5,538.3 919.2,538.5 919.9,538.7 920.6,538.7 921.3,538.7 922.0,538.6 922.7,538.5 923.4,538.7 924.1,538.9 924.8,538.6 925.5,538.3 926.2,538.3 926.9,538.4 927.6,538.4 928.3,538.4 929.0,538.5 929.7,538.5 930.4,538.6 931.1,538.4 931.8,538.4 932.5,538.7 933.2,538.8 933.9,538.5 934.6,538.4 935.3,538.5 936.0,538.6 936.7,538.7 937.4,538.7 938.1,538.5 938.8,538.5 939.5,538.4 940.2,538.4 940.9,538.8 941.6,539.0 942.3,538.5 943.0,538.2 943.7,538.3 944.4,538.5 945.1,538.1 945.8,538.0 946.5,538.3 947.2,538.7 947.9,538.8 948.6,538.6 949.3,538.1 950.0,538.1 950.7,538.2 951.4,538.3 952.1,538.6 952.8,538.6 953.5,538.5 954.2,538.5 954.9,538.7 955.6,538.7 956.3,538.6 957.0,538.5 957.7,538.5 958.4,538.5 959.1,538.6 959.8,538.6 960.5,538.7 961.2,538.7 961.9,538.5 962.6,538.3 963.3,538.4 964.0,538.6 964.7,538.7 965.4,538.5 966.1,538.4 966.8,538.4 967.5,538.4 968.2,538.6 968.9,538.6 969.6,538.6 970.3,538.6 971.0,538.7 971.7,538.7 972.4,538.6 973.1,538.6 973.8,538.6 974.5,538.6 975.2,538.8 975.9,538.6 976.6,538.4 977.3,538.6 978.0,538.8 978.7,538.7 979.4,538.5 980.1,538.4 980.8,538.4 981.5,538.3 982.2,538.4 982.9,538.6 983.6,538.6 984.3,538.6 985.0,538.4 985.7,538.2 986.4,538.3 987.1,538.7 987.8,538.8 988.5,538.6 989.2,538.2 989.9,538.1 990.6,538.3 991.3,538.5 992.0,538.4 992.7,538.4 993.4,538.5 994.1,538.5 994.8,538.4 995.5,538.4 996.2,538.5 996.9,538.3 997.6,538.2 998.3,538.3 999.0,538.5 999.7,538.3 1000.4,537.7 1001.1,537.5 1001.8,537.2 1002.5,536.9 1003.2,536.7 1003.9,536.5 1004.6,536.3 1005.3,536.3 1006.0,536.3 1006.7,536.1 1007.4,536.0 1008.1,535.8 1008.8,535.5 1009.5,535.1 1010.2,534.8 1010.9,534.9 1011.6,534.8 1012.3,534.5 1013.0,534.3 1013.7,534.2 1014.4,534.3 1015.1,534.8 1015.8,535.1 1016.5,535.4 1017.2,535.7 1017.9,536.0 1018.6,536.3 1019.3,536.7 1020.0,537.1 1020.7,537.1 1021.4,537.3 1022.1,537.6 1022.8,537.6 1023.5,537.5 1024.2,537.8 1024.9,538.1 1025.6,537.8 1026.3,537.6 1027.0,537.6 1027.7,537.8 1028.4,537.7 1029.1,537.3 1029.8,537.2 1030.5,537.4 1031.2,537.4 1031.9,537.4 1032.6,537.2 1033.3,536.6 1034.0,536.2 1034.7,536.1 1035.4,535.7 1036.1,534.8 1036.8,533.2 1037.5,531.1 1038.2,528.7 1038.9,525.6 1039.6,521.2 1040.3,516.1 1041.0,510.5 1041.7,504.7 1042.4,499.7 1043.1,495.8 1043.8,493.5 1044.5,494.0 1045.2,497.2 1045.9,501.6 1046.6,506.8 1047.3,512.6 1048.0,517.9 1048.7,522.7 1049.4,526.4 1050.1,529.4 1050.8,532.0 1051.8,538.6" fill="none" stroke="#119064" stroke-width="2.0" stroke-linejoin="round" stroke-linecap="round"/>
<polyline points="1065.1,538.6 1065.5,535.1 1066.2,534.1 1066.9,532.5 1067.6,530.2 1068.3,526.9 1069.0,522.9 1069.7,518.2 1070.4,512.7 1071.1,506.7 1071.8,500.5 1072.5,495.1 1073.2,491.5 1073.9,490.3 1074.6,491.8 1075.3,495.6 1076.0,500.9 1076.7,506.9 1077.4,512.6 1078.1,518.1 1078.8,523.3 1079.5,527.5 1080.2,530.5 1080.9,532.3 1081.6,533.8 1082.3,535.3 1083.0,536.0 1083.7,536.5 1084.4,537.0 1085.1,537.1 1085.8,537.0 1086.5,537.2 1087.2,537.2 1087.9,537.3 1088.6,537.5 1089.3,537.6 1090.0,537.5 1090.7,537.4 1091.4,537.3 1092.1,537.6 1092.8,537.8 1093.5,537.5 1094.2,537.4 1094.9,537.2 1095.6,536.5 1096.3,535.9 1097.0,535.4 1097.7,535.2 1098.4,534.9 1099.1,534.6 1099.8,534.2 1100.5,534.0 1101.2,533.9 1101.9,533.7 1102.6,533.7 1103.3,534.0 1104.0,534.3 1104.7,534.8 1105.4,535.3 1106.1,535.7 1106.8,536.0 1107.5,536.2 1108.2,536.3 1108.9,536.5 1109.6,536.6 1110.3,536.5 1111.0,536.2 1111.7,536.0 1112.4,535.7 1113.1,535.7 1113.8,536.1 1114.5,536.7 1115.2,537.2 1115.9,537.5 1116.6,537.6 1117.3,537.9 1118.0,538.4 1118.7,538.4 1119.4,538.5 1120.1,538.4 1120.8,538.2 1121.5,538.2 1122.2,538.5 1122.9,538.4 1123.6,538.2 1124.3,538.5 1125.0,538.7 1125.7,538.7 1126.4,538.7 1127.1,538.9 1127.8,539.0 1128.5,538.6 1129.2,538.4 1129.9,538.4 1130.6,538.3 1131.3,538.2 1132.0,538.3 1132.7,538.4 1133.4,538.6 1134.1,538.4 1134.8,538.0 1135.5,538.1 1136.2,538.4 1136.9,538.4 1137.6,538.3 1138.3,538.3 1139.0,538.4 1139.7,538.5 1140.4,538.4 1141.1,538.4 1141.8,538.5 1142.5,538.4 1143.2,538.4 1143.9,538.3 1144.6,538.3 1145.3,538.3 1146.0,538.2 1146.7,538.4 1147.4,538.6 1148.1,538.6 1148.8,538.8 1149.5,539.0 1150.2,538.8 1150.9,538.7 1151.6,538.7 1152.3,538.8 1153.0,538.9 1153.7,538.7 1154.4,538.7 1155.1,538.7 1155.8,538.7 1156.5,538.5 1157.2,538.2 1157.9,538.1 1158.6,538.4 1159.3,538.6 1160.0,538.4 1160.7,538.3 1161.4,538.4 1162.1,538.5 1162.8,538.7 1163.5,538.8 1164.2,538.5 1164.9,538.3 1165.6,538.5 1166.3,538.5 1167.0,538.5 1167.7,538.7 1168.4,538.9 1169.1,538.9 1169.8,538.6 1170.5,538.5 1171.2,538.5 1171.9,538.3 1172.6,538.1 1173.3,538.4 1174.0,538.6 1174.7,538.5 1175.4,538.5 1176.1,538.9 1176.8,539.1 1177.5,538.9 1178.2,538.6 1178.9,538.7 1179.6,538.9 1180.3,538.8 1181.0,538.6 1181.7,538.4 1182.4,538.4 1183.1,538.4 1183.8,538.6 1184.5,538.6 1185.2,538.5 1185.9,538.6 1186.6,538.8 1187.3,538.8 1188.0,538.6 1188.7,538.4 1189.4,538.3 1190.1,538.6 1190.8,538.8 1191.5,538.8 1192.2,538.7 1192.9,538.6 1193.6,538.7 1194.3,538.7 1195.0,538.5 1195.7,538.5 1196.4,538.6 1197.1,538.5 1197.8,538.4 1198.5,538.5 1199.2,538.7 1199.9,538.8 1200.6,538.4 1201.3,538.2 1202.0,538.6 1202.7,538.7 1203.4,538.7 1204.1,538.6 1204.8,538.4 1205.5,538.3 1206.2,538.4 1206.9,538.5 1207.6,538.4 1208.3,538.4 1209.0,538.6 1209.7,538.4 1210.4,538.2 1211.1,538.4 1211.8,538.6 1212.5,538.5 1213.2,538.6 1213.9,538.8 1214.6,538.8 1215.3,538.5 1216.0,538.3 1216.7,538.5 1217.4,538.7 1218.1,538.7 1218.8,538.7 1219.5,538.6 1220.2,538.6 1220.9,538.6 1221.6,538.5 1222.3,538.5 1223.0,538.6 1223.7,538.7 1224.4,538.7 1225.1,538.6 1225.8,538.5 1226.5,538.4" fill="none" stroke="#119064" stroke-width="2.0" stroke-linejoin="round" stroke-linecap="round"/>
<polyline points="890.5,590.4 891.2,590.3 891.9,590.2 892.6,590.4 893.3,590.7 894.0,590.5 894.7,590.4 895.4,590.4 896.1,590.2 896.8,590.3 897.5,590.6 898.2,590.6 898.9,590.4 899.6,590.2 900.3,590.1 901.0,590.4 901.7,590.6 902.4,590.6 903.1,590.3 903.8,590.2 904.5,590.1 905.2,590.1 905.9,590.2 906.6,590.3 907.3,590.5 908.0,590.8 908.7,590.7 909.4,590.4 910.1,590.4 910.8,590.6 911.5,590.5 912.2,590.2 912.9,590.1 913.6,590.1 914.3,590.1 915.0,590.1 915.7,590.2 916.4,590.4 917.1,590.4 917.8,590.1 918.5,590.1 919.2,590.4 919.9,590.5 920.6,590.5 921.3,590.6 922.0,590.6 922.7,590.4 923.4,590.4 924.1,590.5 924.8,590.4 925.5,590.2 926.2,590.1 926.9,590.2 927.6,590.2 928.3,590.2 929.0,590.1 929.7,590.1 930.4,590.1 931.1,590.2 931.8,590.4 932.5,590.6 933.2,590.7 933.9,590.7 934.6,590.4 935.3,590.3 936.0,590.4 936.7,590.3 937.4,590.3 938.1,590.2 938.8,590.3 939.5,590.3 940.2,590.2 940.9,590.3 941.6,590.4 942.3,590.6 943.0,590.7 943.7,590.6 944.4,590.6 945.1,590.7 945.8,590.6 946.5,590.3 947.2,590.4 947.9,590.4 948.6,590.3 949.3,590.3 950.0,590.3 950.7,590.2 951.4,590.3 952.1,590.2 952.8,590.2 953.5,590.2 954.2,590.2 954.9,590.4 955.6,590.4 956.3,590.5 957.0,590.6 957.7,590.6 958.4,590.4 959.1,590.5 959.8,590.7 960.5,590.6 961.2,590.4 961.9,590.3 962.6,590.2 963.3,590.2 964.0,590.3 964.7,590.3 965.4,590.1 966.1,590.2 966.8,590.2 967.5,590.2 968.2,590.2 968.9,590.3 969.6,590.5 970.3,590.6 971.0,590.5 971.7,590.5 972.4,590.5 973.1,590.6 973.8,590.5 974.5,590.5 975.2,590.5 975.9,590.4 976.6,590.4 977.3,590.3 978.0,590.3 978.7,590.4 979.4,590.4 980.1,590.3 980.8,590.2 981.5,590.3 982.2,590.5 982.9,590.5 983.6,590.4 984.3,590.4 985.0,590.5 985.7,590.5 986.4,590.4 987.1,590.5 987.8,590.4 988.5,590.1 989.2,589.9 989.9,590.0 990.6,589.9 991.3,590.0 992.0,590.2 992.7,590.3 993.4,590.3 994.1,590.2 994.8,590.4 995.5,590.7 996.2,590.6 996.9,590.3 997.6,590.3 998.3,590.5 999.0,590.4 999.7,590.5 1000.4,590.5 1001.1,590.3 1001.8,590.0 1002.5,589.9 1003.2,590.1 1003.9,590.4 1004.6,590.4 1005.3,590.3 1006.0,590.3 1006.7,590.2 1007.4,590.1 1008.1,589.9 1008.8,589.7 1009.5,589.8 1010.2,589.9 1010.9,590.1 1011.6,590.0 1012.3,589.7 1013.0,589.4 1013.7,588.9 1014.4,588.4 1015.1,588.3 1015.8,588.0 1016.5,587.5 1017.2,587.2 1017.9,586.8 1018.6,586.1 1019.3,585.5 1020.0,585.3 1020.7,585.3 1021.4,585.2 1022.1,585.4 1022.8,585.9 1023.5,586.5 1024.2,586.8 1024.9,587.0 1025.6,587.3 1026.3,587.7 1027.0,588.2 1027.7,588.7 1028.4,589.1 1029.1,589.4 1029.8,589.3 1030.5,589.4 1031.2,589.7 1031.9,589.9 1032.6,589.8 1033.3,589.7 1034.0,589.8 1034.7,589.9 1035.4,589.8 1036.1,589.7 1036.8,589.6 1037.5,589.3 1038.2,588.8 1038.9,587.9 1039.6,586.3 1040.3,584.1 1041.0,581.3 1041.7,577.5 1042.4,572.8 1043.1,567.5 1043.8,562.2 1044.5,557.1 1045.2,552.9 1045.9,550.3 1046.6,549.5 1047.3,551.1 1048.0,554.7 1048.7,559.3 1049.4,565.0 1050.1,570.8 1050.8,575.8 1051.8,590.4" fill="none" stroke="#119064" stroke-width="2.0" stroke-linejoin="round" stroke-linecap="round"/>
<polyline points="1065.1,590.4 1065.5,581.1 1066.2,576.8 1066.9,571.5 1067.6,565.7 1068.3,559.3 1069.0,553.0 1069.7,547.6 1070.4,543.8 1071.1,542.7 1071.8,544.2 1072.5,547.9 1073.2,553.2 1073.9,559.5 1074.6,565.8 1075.3,571.5 1076.0,576.7 1076.7,580.8 1077.4,583.9 1078.1,586.0 1078.8,587.4 1079.5,588.5 1080.2,589.1 1080.9,589.7 1081.6,589.9 1082.3,589.9 1083.0,589.9 1083.7,590.1 1084.4,590.0 1085.1,589.7 1085.8,589.6 1086.5,589.4 1087.2,589.3 1087.9,589.3 1088.6,589.1 1089.3,588.9 1090.0,588.6 1090.7,588.3 1091.4,588.1 1092.1,587.5 1092.8,586.9 1093.5,586.6 1094.2,586.1 1094.9,585.6 1095.6,585.4 1096.3,585.5 1097.0,585.7 1097.7,585.8 1098.4,586.0 1099.1,586.6 1099.8,587.2 1100.5,587.3 1101.2,587.6 1101.9,588.3 1102.6,588.8 1103.3,589.1 1104.0,589.4 1104.7,589.6 1105.4,589.7 1106.1,589.9 1106.8,590.0 1107.5,590.2 1108.2,590.2 1108.9,590.1 1109.6,590.1 1110.3,590.1 1111.0,590.2 1111.7,590.3 1112.4,590.3 1113.1,590.3 1113.8,590.3 1114.5,590.3 1115.2,590.2 1115.9,590.2 1116.6,590.2 1117.3,590.2 1118.0,590.2 1118.7,590.3 1119.4,590.4 1120.1,590.5 1120.8,590.4 1121.5,590.4 1122.2,590.5 1122.9,590.6 1123.6,590.7 1124.3,590.7 1125.0,590.4 1125.7,590.4 1126.4,590.6 1127.1,590.5 1127.8,590.4 1128.5,590.4 1129.2,590.5 1129.9,590.4 1130.6,590.1 1131.3,590.1 1132.0,590.2 1132.7,590.3 1133.4,590.5 1134.1,590.6 1134.8,590.5 1135.5,590.6 1136.2,590.5 1136.9,590.6 1137.6,590.6 1138.3,590.5 1139.0,590.5 1139.7,590.5 1140.4,590.5 1141.1,590.5 1141.8,590.4 1142.5,590.3 1143.2,590.3 1143.9,590.4 1144.6,590.5 1145.3,590.6 1146.0,590.5 1146.7,590.5 1147.4,590.7 1148.1,590.8 1148.8,590.5 1149.5,590.2 1150.2,590.1 1150.9,590.3 1151.6,590.3 1152.3,590.2 1153.0,590.1 1153.7,590.2 1154.4,590.4 1155.1,590.4 1155.8,590.3 1156.5,590.3 1157.2,590.6 1157.9,590.8 1158.6,590.5 1159.3,590.3 1160.0,590.3 1160.7,590.3 1161.4,590.1 1162.1,590.1 1162.8,590.3 1163.5,590.2 1164.2,590.3 1164.9,590.6 1165.6,590.5 1166.3,590.5 1167.0,590.3 1167.7,590.2 1168.4,590.3 1169.1,590.4 1169.8,590.4 1170.5,590.3 1171.2,590.4 1171.9,590.5 1172.6,590.5 1173.3,590.4 1174.0,590.3 1174.7,590.6 1175.4,590.7 1176.1,590.6 1176.8,590.6 1177.5,590.4 1178.2,590.2 1178.9,590.0 1179.6,590.0 1180.3,590.1 1181.0,590.0 1181.7,590.2 1182.4,590.4 1183.1,590.4 1183.8,590.5 1184.5,590.3 1185.2,590.2 1185.9,590.2 1186.6,590.4 1187.3,590.6 1188.0,590.4 1188.7,590.1 1189.4,590.2 1190.1,590.4 1190.8,590.6 1191.5,590.5 1192.2,590.2 1192.9,590.1 1193.6,590.1 1194.3,590.0 1195.0,590.1 1195.7,590.5 1196.4,590.7 1197.1,590.8 1197.8,590.7 1198.5,590.3 1199.2,590.1 1199.9,590.2 1200.6,590.3 1201.3,590.2 1202.0,590.3 1202.7,590.4 1203.4,590.4 1204.1,590.4 1204.8,590.3 1205.5,590.3 1206.2,590.3 1206.9,590.4 1207.6,590.3 1208.3,590.2 1209.0,590.3 1209.7,590.3 1210.4,590.3 1211.1,590.5 1211.8,590.7 1212.5,590.5 1213.2,590.3 1213.9,590.1 1214.6,590.1 1215.3,590.2 1216.0,590.3 1216.7,590.3 1217.4,590.4 1218.1,590.5 1218.8,590.5 1219.5,590.5 1220.2,590.6 1220.9,590.5 1221.6,590.3 1222.3,590.4 1223.0,590.5 1223.7,590.4 1224.4,590.5 1225.1,590.3 1225.8,590.1 1226.5,590.3" fill="none" stroke="#119064" stroke-width="2.0" stroke-linejoin="round" stroke-linecap="round"/>
<polyline points="890.5,641.6 891.2,641.7 891.9,641.9 892.6,642.2 893.3,642.2 894.0,641.9 894.7,641.6 895.4,641.5 896.1,641.5 896.8,642.1 897.5,642.5 898.2,642.0 898.9,641.7 899.6,641.8 900.3,641.7 901.0,641.4 901.7,641.0 902.4,641.2 903.1,641.9 903.8,642.1 904.5,641.6 905.2,641.6 905.9,642.3 906.6,642.4 907.3,641.9 908.0,641.7 908.7,641.9 909.4,641.6 910.1,641.1 910.8,641.4 911.5,642.0 912.2,641.9 912.9,641.4 913.6,641.0 914.3,641.4 915.0,642.0 915.7,642.3 916.4,642.4 917.1,642.4 917.8,642.0 918.5,641.4 919.2,641.7 919.9,642.3 920.6,642.0 921.3,641.3 922.0,641.2 922.7,641.4 923.4,641.7 924.1,641.8 924.8,641.9 925.5,642.2 926.2,642.5 926.9,642.1 927.6,642.0 928.3,642.4 929.0,642.0 929.7,641.7 930.4,642.4 931.1,642.7 931.8,642.6 932.5,642.4 933.2,642.0 933.9,641.5 934.6,641.6 935.3,642.1 936.0,642.5 936.7,642.5 937.4,642.3 938.1,642.3 938.8,642.5 939.5,642.6 940.2,642.5 940.9,642.3 941.6,641.7 942.3,641.4 943.0,641.8 943.7,641.8 944.4,641.1 945.1,641.1 945.8,641.7 946.5,641.9 947.2,641.9 947.9,642.0 948.6,642.0 949.3,642.3 950.0,642.3 950.7,642.0 951.4,642.0 952.1,641.5 952.8,641.2 953.5,641.5 954.2,641.8 954.9,641.7 955.6,641.4 956.3,641.4 957.0,641.7 957.7,642.1 958.4,641.9 959.1,641.3 959.8,641.2 960.5,641.9 961.2,642.2 961.9,641.3 962.6,641.4 963.3,642.3 964.0,642.3 964.7,641.8 965.4,641.6 966.1,641.4 966.8,641.2 967.5,641.5 968.2,641.9 968.9,641.7 969.6,641.2 970.3,641.2 971.0,641.7 971.7,641.8 972.4,641.2 973.1,640.7 973.8,641.7 974.5,643.2 975.2,643.0 975.9,642.2 976.6,641.7 977.3,641.2 978.0,641.7 978.7,642.5 979.4,641.8 980.1,641.0 980.8,641.1 981.5,641.3 982.2,641.4 982.9,641.5 983.6,641.1 984.3,640.9 985.0,641.3 985.7,641.3 986.4,641.1 987.1,641.5 987.8,642.0 988.5,642.3 989.2,641.9 989.9,641.2 990.6,641.4 991.3,642.3 992.0,642.4 992.7,642.1 993.4,641.6 994.1,641.3 994.8,641.6 995.5,641.5 996.2,641.5 996.9,641.8 997.6,641.3 998.3,640.7 999.0,640.9 999.7,641.1 1000.4,641.0 1001.1,640.7 1001.8,640.0 1002.5,639.0 1003.2,638.2 1003.9,638.0 1004.6,637.9 1005.3,637.7 1006.0,638.2 1006.7,639.2 1007.4,639.5 1008.1,639.2 1008.8,638.1 1009.5,637.1 1010.2,637.0 1010.9,636.7 1011.6,636.4 1012.3,636.1 1013.0,635.6 1013.7,635.3 1014.4,634.9 1015.1,635.0 1015.8,636.0 1016.5,636.6 1017.2,637.0 1017.9,637.6 1018.6,638.2 1019.3,639.0 1020.0,640.0 1020.7,640.3 1021.4,639.9 1022.1,640.2 1022.8,641.0 1023.5,640.6 1024.2,639.7 1024.9,639.1 1025.6,638.7 1026.3,638.8 1027.0,638.6 1027.7,639.0 1028.4,639.7 1029.1,639.3 1029.8,639.0 1030.5,639.2 1031.2,638.9 1031.9,638.6 1032.6,637.7 1033.3,636.5 1034.0,635.2 1034.7,633.6 1035.4,632.2 1036.1,630.0 1036.8,626.3 1037.5,621.7 1038.2,617.4 1038.9,613.2 1039.6,608.1 1040.3,603.3 1041.0,600.3 1041.7,599.0 1042.4,599.2 1043.1,601.1 1043.8,604.8 1044.5,610.2 1045.2,615.3 1045.9,619.7 1046.6,623.7 1047.3,627.5 1048.0,630.5 1048.7,633.0 1049.4,634.8 1050.1,635.7 1050.8,636.4 1051.8,640.5" fill="none" stroke="#c0101a" stroke-width="2.0" stroke-linejoin="round" stroke-linecap="round"/>
<polyline points="1065.1,640.0 1065.5,637.7 1066.2,637.1 1066.9,635.7 1067.6,634.8 1068.3,633.4 1069.0,630.9 1069.7,628.1 1070.4,625.1 1071.1,621.9 1071.8,617.7 1072.5,612.9 1073.2,607.4 1073.9,601.5 1074.6,597.3 1075.3,595.8 1076.0,596.6 1076.7,598.8 1077.4,602.5 1078.1,607.8 1078.8,613.0 1079.5,617.7 1080.2,622.6 1080.9,627.0 1081.6,630.3 1082.3,632.5 1083.0,633.5 1083.7,634.1 1084.4,635.3 1085.1,636.5 1085.8,637.7 1086.5,638.5 1087.2,638.9 1087.9,639.3 1088.6,639.5 1089.3,639.0 1090.0,639.4 1090.7,640.2 1091.4,640.8 1092.1,641.1 1092.8,640.4 1093.5,639.7 1094.2,639.6 1094.9,639.5 1095.6,639.4 1096.3,639.0 1097.0,638.6 1097.7,638.3 1098.4,637.7 1099.1,637.1 1099.8,636.5 1100.5,635.6 1101.2,634.2 1101.9,632.9 1102.6,632.4 1103.3,633.0 1104.0,633.4 1104.7,633.2 1105.4,633.8 1106.1,635.5 1106.8,636.7 1107.5,637.5 1108.2,638.2 1108.9,638.7 1109.6,638.5 1110.3,637.8 1111.0,636.7 1111.7,635.1 1112.4,634.7 1113.1,635.7 1113.8,637.2 1114.5,638.6 1115.2,639.2 1115.9,639.9 1116.6,641.1 1117.3,641.2 1118.0,640.6 1118.7,640.4 1119.4,640.8 1120.1,640.8 1120.8,640.8 1121.5,641.5 1122.2,641.4 1122.9,640.8 1123.6,641.0 1124.3,641.2 1125.0,641.4 1125.7,641.7 1126.4,641.8 1127.1,641.9 1127.8,641.8 1128.5,641.2 1129.2,640.8 1129.9,640.8 1130.6,641.3 1131.3,641.9 1132.0,641.8 1132.7,641.6 1133.4,641.3 1134.1,641.2 1134.8,641.2 1135.5,641.0 1136.2,641.3 1136.9,641.6 1137.6,641.2 1138.3,640.9 1139.0,640.8 1139.7,641.2 1140.4,641.5 1141.1,641.3 1141.8,640.8 1142.5,640.5 1143.2,640.4 1143.9,640.8 1144.6,641.0 1145.3,640.8 1146.0,640.6 1146.7,640.7 1147.4,640.8 1148.1,640.6 1148.8,640.1 1149.5,639.8 1150.2,639.8 1150.9,640.0 1151.6,640.7 1152.3,641.2 1153.0,640.4 1153.7,639.4 1154.4,639.4 1155.1,639.7 1155.8,640.2 1156.5,640.6 1157.2,640.8 1157.9,640.4 1158.6,640.2 1159.3,640.3 1160.0,639.8 1160.7,640.0 1161.4,640.4 1162.1,640.3 1162.8,639.9 1163.5,639.2 1164.2,638.9 1164.9,639.5 1165.6,640.0 1166.3,639.5 1167.0,638.8 1167.7,639.2 1168.4,639.7 1169.1,639.2 1169.8,638.8 1170.5,639.1 1171.2,639.2 1171.9,638.7 1172.6,638.6 1173.3,638.9 1174.0,638.9 1174.7,639.5 1175.4,639.9 1176.1,639.1 1176.8,638.2 1177.5,638.4 1178.2,639.3 1178.9,640.0 1179.6,640.3 1180.3,639.9 1181.0,639.4 1181.7,639.1 1182.4,639.0 1183.1,638.9 1183.8,638.8 1184.5,638.9 1185.2,639.4 1185.9,639.5 1186.6,639.3 1187.3,639.8 1188.0,640.0 1188.7,639.7 1189.4,639.4 1190.1,639.5 1190.8,639.6 1191.5,639.2 1192.2,638.8 1192.9,638.9 1193.6,639.3 1194.3,639.7 1195.0,639.7 1195.7,639.5 1196.4,639.4 1197.1,639.5 1197.8,639.8 1198.5,639.9 1199.2,639.6 1199.9,639.0 1200.6,639.3 1201.3,639.7 1202.0,639.1 1202.7,638.6 1203.4,638.9 1204.1,639.5 1204.8,640.0 1205.5,640.3 1206.2,640.0 1206.9,639.7 1207.6,639.6 1208.3,639.7 1209.0,639.9 1209.7,639.7 1210.4,639.8 1211.1,639.9 1211.8,639.6 1212.5,639.3 1213.2,639.0 1213.9,638.7 1214.6,638.8 1215.3,638.7 1216.0,638.7 1216.7,639.3 1217.4,640.0 1218.1,640.2 1218.8,640.1 1219.5,640.1 1220.2,640.2 1220.9,639.8 1221.6,639.7 1222.3,639.7 1223.0,639.1 1223.7,639.3 1224.4,640.1 1225.1,640.2 1225.8,639.6 1226.5,639.3" fill="none" stroke="#c0101a" stroke-width="2.0" stroke-linejoin="round" stroke-linecap="round"/>
<polyline points="890.5,697.2 891.3,698.3 892.1,697.6 892.9,697.7 893.7,698.5 894.6,698.0 895.4,697.6 896.2,698.6 897.0,698.3 897.8,698.0 898.6,697.5 899.4,697.9 900.2,697.6 901.0,698.1 901.9,698.0 902.7,698.1 903.5,697.9 904.3,698.0 905.1,698.6 905.9,697.9 906.7,698.5 907.5,698.5 908.4,698.5 909.2,697.3 910.0,698.5 910.8,698.2 911.6,698.3 912.4,698.0 913.2,698.0 914.0,697.6 914.8,697.6 915.7,698.2 916.5,697.7 917.3,697.9 918.1,698.5 918.9,698.7 919.7,698.0 920.5,697.2 921.3,698.2 922.1,698.5 923.0,698.1 923.8,697.9 924.6,697.6 925.4,698.1 926.2,699.3 927.0,698.4 927.8,697.9 928.6,697.7 929.5,698.3 930.3,697.4 931.1,697.8 931.9,697.9 932.7,697.9 933.5,698.2 934.3,698.0 935.1,697.5 935.9,697.1 936.8,698.1 937.6,696.8 938.4,697.4 939.2,698.9 940.0,697.7 940.8,698.6 941.6,697.7 942.4,698.1 943.2,698.2 944.0,698.4 944.8,697.7 945.6,697.3 946.5,697.8 947.3,697.1 948.1,697.1 948.9,698.2 949.7,697.3 950.5,698.2 951.3,698.2 952.1,697.3 952.9,697.4 953.7,697.5 954.5,698.0 955.3,697.5 956.1,698.0 956.9,697.5 957.7,698.0 958.5,697.4 959.4,698.0 960.2,697.8 961.0,698.0 961.8,697.8 962.6,696.6 963.4,698.2 964.2,697.4 965.0,696.6 965.8,696.9 966.6,696.7 967.4,697.3 968.2,696.7 969.1,696.8 969.9,697.1 970.7,695.9 971.5,695.8 972.3,696.4 973.1,695.6 973.9,696.5 974.8,695.5 975.6,695.5 976.4,696.2 977.2,696.4 978.0,695.6 978.8,695.4 979.6,694.9 980.5,695.2 981.3,695.1 982.1,694.8 982.9,695.0 983.7,695.5 984.5,695.1 985.4,693.8 986.2,695.6 987.0,695.3 987.8,694.4 988.6,695.6 989.5,694.6 990.3,695.5 991.1,695.4 991.9,695.0 992.7,695.7 993.5,695.8 994.4,695.9 995.2,695.3 996.0,696.4 996.8,696.1 997.6,697.0 998.4,697.0 999.2,697.1 1000.0,696.5 1000.8,698.1 1001.6,697.6 1002.4,697.6 1003.2,697.6 1004.0,698.0 1004.9,698.1 1005.8,696.3 1006.7,697.0 1007.6,695.9 1008.5,695.6 1009.3,694.2 1010.2,692.3 1011.0,689.9 1011.8,689.0 1012.6,688.3 1013.5,686.6 1014.3,684.8 1015.2,685.6 1016.1,686.0 1017.1,687.2 1018.0,686.9 1018.9,687.0 1019.7,687.9 1020.6,689.7 1021.4,690.1 1022.3,690.1 1023.1,690.7 1024.0,692.4 1024.8,692.1 1025.7,693.2 1026.5,694.4 1027.3,695.0 1028.2,694.9 1029.0,696.2 1029.9,695.9 1030.8,697.4 1031.8,697.7 1032.7,697.7 1033.5,697.8 1034.3,695.7 1035.2,694.6 1036.0,692.8 1036.9,690.0 1037.8,685.2 1038.6,680.1 1039.5,676.9 1040.3,673.1 1041.1,670.1 1041.9,665.1 1042.8,667.1 1043.6,667.5 1044.4,671.5 1045.2,675.0 1046.6,668.1 1047.4,661.4 1048.2,656.5 1049.0,650.3 1050.6,658.5 1051.5,670.0 1051.6,700.0" fill="none" stroke="#c0101a" stroke-width="2.0" stroke-linejoin="round" stroke-linecap="round"/>
<polyline points="1065.5,700.0 1065.7,690.1 1067.3,672.3 1068.2,669.7 1069.1,666.8 1070.6,672.7 1071.9,680.2 1073.4,671.1 1074.3,669.4 1075.3,667.0 1076.2,671.0 1077.0,675.1 1077.8,680.0 1078.7,685.8 1079.5,690.4 1080.3,692.4 1081.2,694.6 1082.0,696.8 1082.8,699.9 1083.6,698.1 1084.5,697.9 1085.3,696.0 1086.2,695.4 1087.0,693.9 1087.9,693.9 1088.7,692.9 1089.6,691.7 1090.4,690.4 1091.3,689.0 1092.1,689.1 1093.0,689.0 1093.8,687.3 1094.7,687.1 1095.5,685.8 1096.3,685.8 1097.2,684.3 1098.0,684.6 1098.8,682.8 1099.6,682.3 1100.4,682.5 1101.2,681.1 1102.0,680.2 1102.9,681.6 1103.8,683.3 1104.6,684.1 1105.5,685.5 1106.4,688.3 1107.3,689.2 1108.2,690.9 1109.1,692.4 1110.0,694.1 1110.9,695.5 1111.8,695.9 1112.7,696.7 1113.6,697.4 1114.5,698.7 1115.4,698.9 1116.3,697.9 1117.2,697.6 1118.2,698.1 1119.1,697.4 1120.0,697.5 1120.9,696.2 1121.7,696.0 1122.6,695.5 1123.4,695.8 1124.3,694.6 1125.1,695.2 1126.0,694.6 1126.9,694.7 1127.7,694.7 1128.6,694.6 1129.4,693.0 1130.3,694.2 1131.1,694.3 1132.0,693.5 1132.9,694.2 1133.7,694.3 1134.6,694.6 1135.4,694.0 1136.3,695.2 1137.1,694.3 1138.0,695.3 1138.8,695.6 1139.6,695.8 1140.4,696.0 1141.2,696.7 1142.0,696.6 1142.8,696.7 1143.6,697.3 1144.4,696.4 1145.2,697.1 1146.0,697.0 1146.8,696.9 1147.6,698.0 1148.5,697.6 1149.3,698.3 1150.1,697.9 1150.9,696.3 1151.8,697.5 1152.6,697.4 1153.4,697.4 1154.2,698.4 1155.1,697.4 1155.9,698.2 1156.7,697.7 1157.5,697.7 1158.4,697.5 1159.2,698.6 1160.0,697.8 1160.8,697.4 1161.6,697.9 1162.4,697.2 1163.2,698.5 1164.0,697.4 1164.8,697.6 1165.6,698.0 1166.4,697.5 1167.2,698.6 1168.0,698.0 1168.8,698.0 1169.6,698.0 1170.4,698.0 1171.2,698.1 1172.0,698.9 1172.8,698.0 1173.6,697.6 1174.4,698.7 1175.2,698.6 1176.0,697.9 1176.8,698.0 1177.6,698.8 1178.4,698.3 1179.2,698.2 1180.0,698.2 1180.8,697.9 1181.6,698.5 1182.4,697.6 1183.2,697.8 1184.0,697.5 1184.8,698.0 1185.6,697.8 1186.4,698.5 1187.2,698.0 1188.0,698.3 1188.8,698.7 1189.6,698.4 1190.4,698.1 1191.2,698.2 1192.0,698.1 1192.8,698.5 1193.6,698.5 1194.4,699.1 1195.2,698.9 1196.0,698.7 1196.8,698.3 1197.6,698.7 1198.4,698.1 1199.2,697.7 1200.0,698.8 1200.8,699.0 1201.6,697.2 1202.4,699.1 1203.2,697.9 1204.0,698.2 1204.8,698.9 1205.6,698.6 1206.4,698.7 1207.2,698.3 1208.0,699.4 1208.8,698.8 1209.6,698.8 1210.4,699.6 1211.2,698.9 1212.0,699.2 1212.8,699.3 1213.7,699.0 1214.5,698.4 1215.3,699.3 1216.1,698.8 1216.9,699.7 1217.7,699.6 1218.5,697.8 1219.3,700.1 1220.1,698.6 1220.9,699.4 1221.7,699.5 1222.5,699.3 1223.3,699.5 1224.1,699.9 1224.9,699.5 1225.7,699.3 1226.5,699.4" fill="none" stroke="#c0101a" stroke-width="2.0" stroke-linejoin="round" stroke-linecap="round"/>
</g>
<rect x="1052.30" y="410.7" width="12.60" height="297.90" fill="url(#hatchf)" fill-opacity="0.87"/>
<path d="M890.50 410.70 L1226.50 410.70 L1226.50 708.60" fill="none" stroke="#000" stroke-width="1.15"/>
<path d="M890.50 410.20 L890.50 708.60 L1227.00 708.60" fill="none" stroke="#000" stroke-width="1.7" stroke-linejoin="miter"/>
<line x1="903.70" y1="708.60" x2="903.70" y2="703.40" stroke="#000" stroke-width="1.1"/>
<line x1="916.62" y1="708.60" x2="916.62" y2="705.70" stroke="#000" stroke-width="1.1"/>
<line x1="929.55" y1="708.60" x2="929.55" y2="705.70" stroke="#000" stroke-width="1.1"/>
<line x1="942.47" y1="708.60" x2="942.47" y2="705.70" stroke="#000" stroke-width="1.1"/>
<line x1="955.40" y1="708.60" x2="955.40" y2="703.40" stroke="#000" stroke-width="1.1"/>
<line x1="968.32" y1="708.60" x2="968.32" y2="705.70" stroke="#000" stroke-width="1.1"/>
<line x1="981.25" y1="708.60" x2="981.25" y2="705.70" stroke="#000" stroke-width="1.1"/>
<line x1="994.17" y1="708.60" x2="994.17" y2="705.70" stroke="#000" stroke-width="1.1"/>
<line x1="1007.10" y1="708.60" x2="1007.10" y2="703.40" stroke="#000" stroke-width="1.1"/>
<line x1="1020.02" y1="708.60" x2="1020.02" y2="705.70" stroke="#000" stroke-width="1.1"/>
<line x1="1032.95" y1="708.60" x2="1032.95" y2="705.70" stroke="#000" stroke-width="1.1"/>
<line x1="1045.88" y1="708.60" x2="1045.88" y2="705.70" stroke="#000" stroke-width="1.1"/>
<line x1="1071.72" y1="708.60" x2="1071.72" y2="705.70" stroke="#000" stroke-width="1.1"/>
<line x1="1084.65" y1="708.60" x2="1084.65" y2="705.70" stroke="#000" stroke-width="1.1"/>
<line x1="1097.58" y1="708.60" x2="1097.58" y2="705.70" stroke="#000" stroke-width="1.1"/>
<line x1="1110.50" y1="708.60" x2="1110.50" y2="703.40" stroke="#000" stroke-width="1.1"/>
<line x1="1123.42" y1="708.60" x2="1123.42" y2="705.70" stroke="#000" stroke-width="1.1"/>
<line x1="1136.35" y1="708.60" x2="1136.35" y2="705.70" stroke="#000" stroke-width="1.1"/>
<line x1="1149.27" y1="708.60" x2="1149.27" y2="705.70" stroke="#000" stroke-width="1.1"/>
<line x1="1162.20" y1="708.60" x2="1162.20" y2="703.40" stroke="#000" stroke-width="1.1"/>
<line x1="1175.12" y1="708.60" x2="1175.12" y2="705.70" stroke="#000" stroke-width="1.1"/>
<line x1="1188.05" y1="708.60" x2="1188.05" y2="705.70" stroke="#000" stroke-width="1.1"/>
<line x1="1200.97" y1="708.60" x2="1200.97" y2="705.70" stroke="#000" stroke-width="1.1"/>
<line x1="1213.90" y1="708.60" x2="1213.90" y2="703.40" stroke="#000" stroke-width="1.1"/>
<text x="903.30" y="727.20" font-family='"Liberation Sans", sans-serif' font-size="15.5" text-anchor="middle" fill="#000" font-weight="normal" font-style="normal" transform="translate(903.30 727.20) scale(1 1.055) translate(-903.30 -727.20)">-120</text>
<text x="955.00" y="727.20" font-family='"Liberation Sans", sans-serif' font-size="15.5" text-anchor="middle" fill="#000" font-weight="normal" font-style="normal" transform="translate(955.00 727.20) scale(1 1.055) translate(-955.00 -727.20)">-80</text>
<text x="1006.70" y="727.20" font-family='"Liberation Sans", sans-serif' font-size="15.5" text-anchor="middle" fill="#000" font-weight="normal" font-style="normal" transform="translate(1006.70 727.20) scale(1 1.055) translate(-1006.70 -727.20)">-40</text>
<text x="1058.80" y="727.20" font-family='"Liberation Sans", sans-serif' font-size="15.5" text-anchor="middle" fill="#000" font-weight="normal" font-style="normal" transform="translate(1058.80 727.20) scale(1 1.055) translate(-1058.80 -727.20)">0</text>
<text x="1110.50" y="727.20" font-family='"Liberation Sans", sans-serif' font-size="15.5" text-anchor="middle" fill="#000" font-weight="normal" font-style="normal" transform="translate(1110.50 727.20) scale(1 1.055) translate(-1110.50 -727.20)">40</text>
<text x="1162.20" y="727.20" font-family='"Liberation Sans", sans-serif' font-size="15.5" text-anchor="middle" fill="#000" font-weight="normal" font-style="normal" transform="translate(1162.20 727.20) scale(1 1.055) translate(-1162.20 -727.20)">80</text>
<text x="1213.90" y="727.20" font-family='"Liberation Sans", sans-serif' font-size="15.5" text-anchor="middle" fill="#000" font-weight="normal" font-style="normal" transform="translate(1213.90 727.20) scale(1 1.055) translate(-1213.90 -727.20)">120</text>
<text x="1058.60" y="754.60" font-family='"Liberation Sans", sans-serif' font-size="15.8" text-anchor="middle" fill="#000" font-weight="normal" font-style="normal" transform="translate(1058.60 754.60) scale(1 1.055) translate(-1058.60 -754.60)">Raman shift (cm<tspan font-size="10.5" dy="-6">-1</tspan><tspan dy="6">)</tspan></text>
<text x="883.50" y="560.15" font-family='"Liberation Sans", sans-serif' font-size="15.8" text-anchor="middle" fill="#000" font-weight="normal" font-style="normal" transform="rotate(-90 883.50 560.15) translate(883.50 560.15) scale(1 1.055) translate(-883.50 -560.15)">Normalized intensity (a.u.)</text>
<text x="865.00" y="406.30" font-family='"Liberation Sans", sans-serif' font-size="25.5" text-anchor="start" fill="#000" font-weight="bold" font-style="normal" transform="translate(865.00 406.30) scale(1 1.055) translate(-865.00 -406.30)">f</text>
<line x1="898.00" y1="427.00" x2="934.50" y2="427.00" stroke="#119064" stroke-width="1.8"/>
<line x1="898.00" y1="446.80" x2="934.50" y2="446.80" stroke="#c0101a" stroke-width="1.8"/>
<text x="938.50" y="432.50" font-family='"Liberation Sans", sans-serif' font-size="15.5" text-anchor="start" fill="#000" font-weight="normal" font-style="normal" transform="translate(938.50 432.50) scale(1 1.055) translate(-938.50 -432.50)">AgNCs/8LG</text>
<text x="938.50" y="451.90" font-family='"Liberation Sans", sans-serif' font-size="15.5" text-anchor="start" fill="#000" font-weight="normal" font-style="normal" transform="translate(938.50 451.90) scale(1 1.055) translate(-938.50 -451.90)">AuNCs/8LG</text>
<text x="1067.30" y="468.80" font-family='"Liberation Sans", sans-serif' font-size="15.5" text-anchor="start" fill="#2146f2" font-weight="normal" font-style="normal" transform="translate(1067.30 468.80) scale(1 1.055) translate(-1067.30 -468.80)">IM</text>
<text x="1121.30" y="485.00" font-family='"Liberation Sans", sans-serif' font-size="15.5" text-anchor="start" fill="#0b6b47" font-weight="normal" font-style="normal" transform="translate(1121.30 485.00) scale(1 1.055) translate(-1121.30 -485.00)">LB<tspan font-size="10.3" dy="4" font-style="italic">N,N-j</tspan></text>
<text x="1090.00" y="516.30" font-family='"Liberation Sans", sans-serif' font-size="15.5" text-anchor="start" fill="#0b6b47" font-weight="normal" font-style="normal" transform="translate(1090.00 516.30) scale(1 1.055) translate(-1090.00 -516.30)"><tspan font-style="italic">j</tspan>=1</text>
<text x="1125.00" y="523.70" font-family='"Liberation Sans", sans-serif' font-size="15.5" text-anchor="start" fill="#0b6b47" font-weight="normal" font-style="normal" transform="translate(1125.00 523.70) scale(1 1.055) translate(-1125.00 -523.70)">2</text>
<text x="897.30" y="531.80" font-family='"Liberation Sans", sans-serif' font-size="15.5" text-anchor="start" fill="#000" font-weight="normal" font-style="normal" transform="translate(897.30 531.80) scale(1 1.055) translate(-897.30 -531.80)">Ann. 400°C</text>
<text x="897.30" y="583.50" font-family='"Liberation Sans", sans-serif' font-size="15.5" text-anchor="start" fill="#000" font-weight="normal" font-style="normal" transform="translate(897.30 583.50) scale(1 1.055) translate(-897.30 -583.50)">As-prep.</text>
<text x="897.30" y="632.30" font-family='"Liberation Sans", sans-serif' font-size="15.5" text-anchor="start" fill="#000" font-weight="normal" font-style="normal" transform="translate(897.30 632.30) scale(1 1.055) translate(-897.30 -632.30)">Ann. 600°C</text>
<text x="897.30" y="689.00" font-family='"Liberation Sans", sans-serif' font-size="15.5" text-anchor="start" fill="#000" font-weight="normal" font-style="normal" transform="translate(897.30 689.00) scale(1 1.055) translate(-897.30 -689.00)">As-prep.</text>
</svg>
</body></html>
